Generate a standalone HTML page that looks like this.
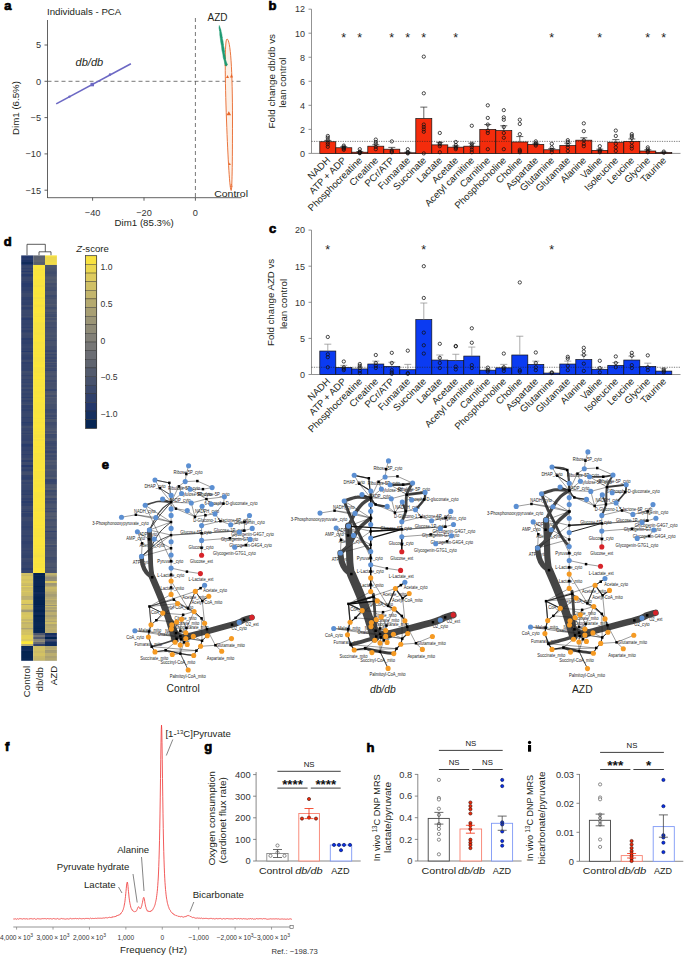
<!DOCTYPE html>
<html><head><meta charset="utf-8"><style>
html,body{margin:0;padding:0;background:#fff;}
svg{display:block;font-family:"Liberation Sans", sans-serif;}
</style></head><body>
<svg width="685" height="955" viewBox="0 0 685 955">
<rect width="685" height="955" fill="#fff"/>
<text x="4.20" y="9.80" font-size="13" text-anchor="start" fill="#000" font-weight="bold" stroke="#000" stroke-width="0.7">a</text>
<text x="47.00" y="15.00" font-size="9.7" text-anchor="start" fill="#231f20">Individuals - PCA</text>
<line x1="47.50" y1="20.00" x2="47.50" y2="198.00" stroke="#3a3a3a" stroke-width="0.8"/>
<line x1="47.50" y1="197.70" x2="241.50" y2="197.70" stroke="#3a3a3a" stroke-width="0.8"/>
<line x1="44.50" y1="45.00" x2="47.50" y2="45.00" stroke="#3a3a3a" stroke-width="0.8"/>
<text x="41.00" y="48.30" font-size="9.2" text-anchor="end" fill="#333">5</text>
<line x1="44.50" y1="81.30" x2="47.50" y2="81.30" stroke="#3a3a3a" stroke-width="0.8"/>
<text x="41.00" y="84.60" font-size="9.2" text-anchor="end" fill="#333">0</text>
<line x1="44.50" y1="117.60" x2="47.50" y2="117.60" stroke="#3a3a3a" stroke-width="0.8"/>
<text x="41.00" y="120.90" font-size="9.2" text-anchor="end" fill="#333">−5</text>
<line x1="44.50" y1="153.90" x2="47.50" y2="153.90" stroke="#3a3a3a" stroke-width="0.8"/>
<text x="41.00" y="157.20" font-size="9.2" text-anchor="end" fill="#333">−10</text>
<line x1="44.50" y1="190.20" x2="47.50" y2="190.20" stroke="#3a3a3a" stroke-width="0.8"/>
<text x="41.00" y="193.50" font-size="9.2" text-anchor="end" fill="#333">−15</text>
<line x1="92.60" y1="197.70" x2="92.60" y2="200.70" stroke="#3a3a3a" stroke-width="0.8"/>
<text x="92.60" y="215.50" font-size="9.2" text-anchor="middle" fill="#333">−40</text>
<line x1="144.00" y1="197.70" x2="144.00" y2="200.70" stroke="#3a3a3a" stroke-width="0.8"/>
<text x="144.00" y="215.50" font-size="9.2" text-anchor="middle" fill="#333">−20</text>
<line x1="195.40" y1="197.70" x2="195.40" y2="200.70" stroke="#3a3a3a" stroke-width="0.8"/>
<text x="195.40" y="215.50" font-size="9.2" text-anchor="middle" fill="#333">0</text>
<text x="144.20" y="226.00" font-size="9.7" text-anchor="middle" fill="#231f20">Dim1 (85.3%)</text>
<text x="19.20" y="108.00" font-size="9.7" text-anchor="middle" fill="#231f20" transform="rotate(-90 19.2 108)">Dim1 (6.5%)</text>
<line x1="47.50" y1="81.30" x2="241.50" y2="81.30" stroke="#555" stroke-width="0.8" stroke-dasharray="4,3"/>
<line x1="195.40" y1="18.00" x2="195.40" y2="197.70" stroke="#555" stroke-width="0.8" stroke-dasharray="4,3"/>
<line x1="56.20" y1="103.90" x2="130.90" y2="63.80" stroke="#6c68c4" stroke-width="1.6"/>
<circle cx="69.50" cy="96.60" r="1.2" fill="#6c68c4" stroke="none" stroke-width="0"/>
<circle cx="110.00" cy="74.50" r="1.2" fill="#6c68c4" stroke="none" stroke-width="0"/>
<rect x="90.50" y="82.80" width="3.50" height="3.50" fill="#6c68c4" stroke="none" stroke-width="0"/>
<text x="75.60" y="65.80" font-size="10" text-anchor="start" fill="#231f20" font-style="italic" textLength="27.6" lengthAdjust="spacingAndGlyphs">db/db</text>
<text x="207.60" y="20.50" font-size="10" text-anchor="start" fill="#231f20">AZD</text>
<path d="M227,39 C230.5,39 232.5,70 232.5,120 C232.5,165 232,190 231.2,190.5 C229.8,190.5 228,160 226.5,120 C225,80 224.5,39 227,39 Z" fill="#fdf0e6" stroke="#e8672a" stroke-width="0.9"/>
<polygon points="228.8,111.3 226.5,115.3 231.1,115.3" fill="#e8672a"/>
<polygon points="227.5,75 226,78 229,78" fill="#e8672a"/>
<polygon points="231.5,74 230,77.5 233,77.5" fill="#e8672a"/>
<polygon points="225.5,63 224.5,66 226.8,66" fill="#e8672a"/>
<polygon points="229.7,162.5 228.8,165 230.8,165" fill="#e8672a"/>
<polygon points="231.3,184 230.3,187 232.3,187" fill="none" stroke="#e8672a" stroke-width="0.5"/>
<path d="M219.3,25.5 L220.4,28.5 L221.0,31 L221.9,34.5 L222.2,38 L223.0,41 L223.4,45 L224.2,48.5 L224.4,52 L225.2,56 L225.5,59.5 L226.9,63.5 L227.6,64.2 L226.2,66.2 L224.9,64.5 L224.3,61 L223.2,57.5 L222.8,54 L221.9,50 L221.5,46 L220.8,42.5 L220.3,38.5 L219.8,35 L219.7,31 L219.0,28 Z" fill="#1e9a72" stroke="#1e9a72" stroke-width="0.5"/>
<polygon points="220.2,28.8 219.1,30.8 221.29999999999998,30.8" fill="#1e9a72"/>
<polygon points="221.6,35.8 220.5,37.8 222.7,37.8" fill="#1e9a72"/>
<polygon points="222.6,42.8 221.5,44.8 223.7,44.8" fill="#1e9a72"/>
<polygon points="223.8,49.8 222.70000000000002,51.8 224.9,51.8" fill="#1e9a72"/>
<polygon points="224.8,56.8 223.70000000000002,58.8 225.9,58.8" fill="#1e9a72"/>
<polygon points="226.2,63.3 225.1,65.3 227.29999999999998,65.3" fill="#1e9a72"/>
<text x="214.20" y="196.50" font-size="9.7" text-anchor="start" fill="#231f20" textLength="33.8" lengthAdjust="spacingAndGlyphs">Control</text>
<text x="268.50" y="10.30" font-size="13" text-anchor="start" fill="#000" font-weight="bold" stroke="#000" stroke-width="0.7">b</text>
<line x1="311.50" y1="9.16" x2="311.50" y2="153.40" stroke="#777" stroke-width="0.8"/>
<line x1="311.50" y1="153.40" x2="680.50" y2="153.40" stroke="#777" stroke-width="0.8"/>
<line x1="308.50" y1="153.40" x2="311.50" y2="153.40" stroke="#777" stroke-width="0.8"/>
<text x="305.00" y="156.70" font-size="9" text-anchor="end" fill="#333">0</text>
<line x1="308.50" y1="129.36" x2="311.50" y2="129.36" stroke="#777" stroke-width="0.8"/>
<text x="305.00" y="132.66" font-size="9" text-anchor="end" fill="#333">2</text>
<line x1="308.50" y1="105.32" x2="311.50" y2="105.32" stroke="#777" stroke-width="0.8"/>
<text x="305.00" y="108.62" font-size="9" text-anchor="end" fill="#333">4</text>
<line x1="308.50" y1="81.28" x2="311.50" y2="81.28" stroke="#777" stroke-width="0.8"/>
<text x="305.00" y="84.58" font-size="9" text-anchor="end" fill="#333">6</text>
<line x1="308.50" y1="57.24" x2="311.50" y2="57.24" stroke="#777" stroke-width="0.8"/>
<text x="305.00" y="60.54" font-size="9" text-anchor="end" fill="#333">8</text>
<line x1="308.50" y1="33.20" x2="311.50" y2="33.20" stroke="#777" stroke-width="0.8"/>
<text x="305.00" y="36.50" font-size="9" text-anchor="end" fill="#333">10</text>
<line x1="308.50" y1="9.16" x2="311.50" y2="9.16" stroke="#777" stroke-width="0.8"/>
<text x="305.00" y="12.46" font-size="9" text-anchor="end" fill="#333">12</text>
<rect x="319.80" y="141.74" width="16.00" height="11.66" fill="#f42c0c" stroke="#111" stroke-width="0.7"/>
<rect x="335.80" y="147.75" width="16.00" height="5.65" fill="#f42c0c" stroke="#111" stroke-width="0.7"/>
<rect x="351.80" y="152.20" width="16.00" height="1.20" fill="#f42c0c" stroke="#111" stroke-width="0.7"/>
<rect x="367.80" y="146.19" width="16.00" height="7.21" fill="#f42c0c" stroke="#111" stroke-width="0.7"/>
<rect x="383.80" y="149.19" width="16.00" height="4.21" fill="#f42c0c" stroke="#111" stroke-width="0.7"/>
<rect x="399.80" y="152.80" width="16.00" height="0.60" fill="#f42c0c" stroke="#111" stroke-width="0.7"/>
<rect x="415.80" y="118.54" width="16.00" height="34.86" fill="#f42c0c" stroke="#111" stroke-width="0.7"/>
<rect x="431.80" y="144.87" width="16.00" height="8.53" fill="#f42c0c" stroke="#111" stroke-width="0.7"/>
<rect x="447.80" y="147.15" width="16.00" height="6.25" fill="#f42c0c" stroke="#111" stroke-width="0.7"/>
<rect x="463.80" y="146.19" width="16.00" height="7.21" fill="#f42c0c" stroke="#111" stroke-width="0.7"/>
<rect x="479.80" y="129.36" width="16.00" height="24.04" fill="#f42c0c" stroke="#111" stroke-width="0.7"/>
<rect x="495.80" y="130.56" width="16.00" height="22.84" fill="#f42c0c" stroke="#111" stroke-width="0.7"/>
<rect x="511.80" y="141.98" width="16.00" height="11.42" fill="#f42c0c" stroke="#111" stroke-width="0.7"/>
<rect x="527.80" y="144.38" width="16.00" height="9.02" fill="#f42c0c" stroke="#111" stroke-width="0.7"/>
<rect x="543.80" y="149.79" width="16.00" height="3.61" fill="#f42c0c" stroke="#111" stroke-width="0.7"/>
<rect x="559.80" y="145.59" width="16.00" height="7.81" fill="#f42c0c" stroke="#111" stroke-width="0.7"/>
<rect x="575.80" y="140.18" width="16.00" height="13.22" fill="#f42c0c" stroke="#111" stroke-width="0.7"/>
<rect x="591.80" y="150.40" width="16.00" height="3.00" fill="#f42c0c" stroke="#111" stroke-width="0.7"/>
<rect x="607.80" y="142.22" width="16.00" height="11.18" fill="#f42c0c" stroke="#111" stroke-width="0.7"/>
<rect x="623.80" y="141.38" width="16.00" height="12.02" fill="#f42c0c" stroke="#111" stroke-width="0.7"/>
<rect x="639.80" y="151.00" width="16.00" height="2.40" fill="#f42c0c" stroke="#111" stroke-width="0.7"/>
<rect x="655.80" y="152.56" width="16.00" height="0.84" fill="#f42c0c" stroke="#111" stroke-width="0.7"/>
<line x1="311.50" y1="141.38" x2="680.50" y2="141.38" stroke="#222" stroke-width="0.6" stroke-dasharray="1.2,1.2"/>
<line x1="327.80" y1="140.42" x2="327.80" y2="141.74" stroke="#222" stroke-width="0.7"/>
<line x1="324.30" y1="140.42" x2="331.30" y2="140.42" stroke="#222" stroke-width="0.7"/>
<circle cx="327.80" cy="135.97" r="1.65" fill="none" stroke="#111" stroke-width="0.75"/>
<circle cx="327.80" cy="137.77" r="1.65" fill="none" stroke="#111" stroke-width="0.75"/>
<circle cx="327.80" cy="140.18" r="1.65" fill="none" stroke="#111" stroke-width="0.75"/>
<circle cx="327.80" cy="142.58" r="1.65" fill="none" stroke="#111" stroke-width="0.75"/>
<circle cx="327.80" cy="144.38" r="1.65" fill="none" stroke="#111" stroke-width="0.75"/>
<circle cx="327.80" cy="146.79" r="1.65" fill="none" stroke="#111" stroke-width="0.75"/>
<line x1="343.80" y1="146.67" x2="343.80" y2="147.75" stroke="#222" stroke-width="0.7"/>
<line x1="340.30" y1="146.67" x2="347.30" y2="146.67" stroke="#222" stroke-width="0.7"/>
<circle cx="343.80" cy="145.59" r="1.65" fill="none" stroke="#111" stroke-width="0.75"/>
<circle cx="343.80" cy="146.79" r="1.65" fill="none" stroke="#111" stroke-width="0.75"/>
<circle cx="343.80" cy="147.99" r="1.65" fill="none" stroke="#111" stroke-width="0.75"/>
<circle cx="343.80" cy="148.59" r="1.65" fill="none" stroke="#111" stroke-width="0.75"/>
<circle cx="343.80" cy="149.79" r="1.65" fill="none" stroke="#111" stroke-width="0.75"/>
<line x1="359.80" y1="151.60" x2="359.80" y2="152.20" stroke="#222" stroke-width="0.7"/>
<line x1="356.30" y1="151.60" x2="363.30" y2="151.60" stroke="#222" stroke-width="0.7"/>
<circle cx="359.80" cy="149.19" r="1.65" fill="none" stroke="#111" stroke-width="0.75"/>
<circle cx="359.80" cy="151.60" r="1.65" fill="none" stroke="#111" stroke-width="0.75"/>
<circle cx="359.80" cy="152.20" r="1.65" fill="none" stroke="#111" stroke-width="0.75"/>
<circle cx="359.80" cy="152.80" r="1.65" fill="none" stroke="#111" stroke-width="0.75"/>
<circle cx="359.80" cy="153.16" r="1.65" fill="none" stroke="#111" stroke-width="0.75"/>
<line x1="375.80" y1="144.75" x2="375.80" y2="146.19" stroke="#222" stroke-width="0.7"/>
<line x1="372.30" y1="144.75" x2="379.30" y2="144.75" stroke="#222" stroke-width="0.7"/>
<circle cx="375.80" cy="139.58" r="1.65" fill="none" stroke="#111" stroke-width="0.75"/>
<circle cx="375.80" cy="141.98" r="1.65" fill="none" stroke="#111" stroke-width="0.75"/>
<circle cx="375.80" cy="143.78" r="1.65" fill="none" stroke="#111" stroke-width="0.75"/>
<circle cx="375.80" cy="146.79" r="1.65" fill="none" stroke="#111" stroke-width="0.75"/>
<circle cx="375.80" cy="149.19" r="1.65" fill="none" stroke="#111" stroke-width="0.75"/>
<line x1="391.80" y1="147.39" x2="391.80" y2="149.19" stroke="#222" stroke-width="0.7"/>
<line x1="388.30" y1="147.39" x2="395.30" y2="147.39" stroke="#222" stroke-width="0.7"/>
<circle cx="391.80" cy="141.38" r="1.65" fill="none" stroke="#111" stroke-width="0.75"/>
<circle cx="391.80" cy="150.40" r="1.65" fill="none" stroke="#111" stroke-width="0.75"/>
<circle cx="391.80" cy="151.60" r="1.65" fill="none" stroke="#111" stroke-width="0.75"/>
<circle cx="391.80" cy="152.20" r="1.65" fill="none" stroke="#111" stroke-width="0.75"/>
<line x1="407.80" y1="152.20" x2="407.80" y2="152.80" stroke="#222" stroke-width="0.7"/>
<line x1="404.30" y1="152.20" x2="411.30" y2="152.20" stroke="#222" stroke-width="0.7"/>
<circle cx="407.80" cy="149.19" r="1.65" fill="none" stroke="#111" stroke-width="0.75"/>
<circle cx="407.80" cy="152.20" r="1.65" fill="none" stroke="#111" stroke-width="0.75"/>
<circle cx="407.80" cy="152.80" r="1.65" fill="none" stroke="#111" stroke-width="0.75"/>
<circle cx="407.80" cy="153.40" r="1.65" fill="none" stroke="#111" stroke-width="0.75"/>
<line x1="423.80" y1="107.12" x2="423.80" y2="118.54" stroke="#222" stroke-width="0.7"/>
<line x1="420.30" y1="107.12" x2="427.30" y2="107.12" stroke="#222" stroke-width="0.7"/>
<circle cx="423.80" cy="56.64" r="1.65" fill="none" stroke="#111" stroke-width="0.75"/>
<circle cx="423.80" cy="93.30" r="1.65" fill="none" stroke="#111" stroke-width="0.75"/>
<circle cx="423.80" cy="124.55" r="1.65" fill="none" stroke="#111" stroke-width="0.75"/>
<circle cx="423.80" cy="126.96" r="1.65" fill="none" stroke="#111" stroke-width="0.75"/>
<circle cx="423.80" cy="129.36" r="1.65" fill="none" stroke="#111" stroke-width="0.75"/>
<circle cx="423.80" cy="131.76" r="1.65" fill="none" stroke="#111" stroke-width="0.75"/>
<circle cx="423.80" cy="153.40" r="1.65" fill="none" stroke="#111" stroke-width="0.75"/>
<line x1="439.80" y1="142.58" x2="439.80" y2="144.87" stroke="#222" stroke-width="0.7"/>
<line x1="436.30" y1="142.58" x2="443.30" y2="142.58" stroke="#222" stroke-width="0.7"/>
<circle cx="439.80" cy="132.97" r="1.65" fill="none" stroke="#111" stroke-width="0.75"/>
<circle cx="439.80" cy="143.18" r="1.65" fill="none" stroke="#111" stroke-width="0.75"/>
<circle cx="439.80" cy="144.38" r="1.65" fill="none" stroke="#111" stroke-width="0.75"/>
<circle cx="439.80" cy="146.19" r="1.65" fill="none" stroke="#111" stroke-width="0.75"/>
<circle cx="439.80" cy="152.20" r="1.65" fill="none" stroke="#111" stroke-width="0.75"/>
<line x1="455.80" y1="145.95" x2="455.80" y2="147.15" stroke="#222" stroke-width="0.7"/>
<line x1="452.30" y1="145.95" x2="459.30" y2="145.95" stroke="#222" stroke-width="0.7"/>
<circle cx="455.80" cy="141.98" r="1.65" fill="none" stroke="#111" stroke-width="0.75"/>
<circle cx="455.80" cy="144.99" r="1.65" fill="none" stroke="#111" stroke-width="0.75"/>
<circle cx="455.80" cy="146.79" r="1.65" fill="none" stroke="#111" stroke-width="0.75"/>
<circle cx="455.80" cy="147.99" r="1.65" fill="none" stroke="#111" stroke-width="0.75"/>
<circle cx="455.80" cy="149.19" r="1.65" fill="none" stroke="#111" stroke-width="0.75"/>
<line x1="471.80" y1="143.18" x2="471.80" y2="146.19" stroke="#222" stroke-width="0.7"/>
<line x1="468.30" y1="143.18" x2="475.30" y2="143.18" stroke="#222" stroke-width="0.7"/>
<circle cx="471.80" cy="125.75" r="1.65" fill="none" stroke="#111" stroke-width="0.75"/>
<circle cx="471.80" cy="143.78" r="1.65" fill="none" stroke="#111" stroke-width="0.75"/>
<circle cx="471.80" cy="145.59" r="1.65" fill="none" stroke="#111" stroke-width="0.75"/>
<circle cx="471.80" cy="147.39" r="1.65" fill="none" stroke="#111" stroke-width="0.75"/>
<circle cx="471.80" cy="149.79" r="1.65" fill="none" stroke="#111" stroke-width="0.75"/>
<circle cx="471.80" cy="152.20" r="1.65" fill="none" stroke="#111" stroke-width="0.75"/>
<line x1="487.80" y1="124.55" x2="487.80" y2="129.36" stroke="#222" stroke-width="0.7"/>
<line x1="484.30" y1="124.55" x2="491.30" y2="124.55" stroke="#222" stroke-width="0.7"/>
<circle cx="487.80" cy="105.32" r="1.65" fill="none" stroke="#111" stroke-width="0.75"/>
<circle cx="487.80" cy="117.94" r="1.65" fill="none" stroke="#111" stroke-width="0.75"/>
<circle cx="487.80" cy="124.55" r="1.65" fill="none" stroke="#111" stroke-width="0.75"/>
<circle cx="487.80" cy="130.56" r="1.65" fill="none" stroke="#111" stroke-width="0.75"/>
<circle cx="487.80" cy="132.97" r="1.65" fill="none" stroke="#111" stroke-width="0.75"/>
<circle cx="487.80" cy="149.19" r="1.65" fill="none" stroke="#111" stroke-width="0.75"/>
<line x1="503.80" y1="125.75" x2="503.80" y2="130.56" stroke="#222" stroke-width="0.7"/>
<line x1="500.30" y1="125.75" x2="507.30" y2="125.75" stroke="#222" stroke-width="0.7"/>
<circle cx="503.80" cy="110.13" r="1.65" fill="none" stroke="#111" stroke-width="0.75"/>
<circle cx="503.80" cy="117.34" r="1.65" fill="none" stroke="#111" stroke-width="0.75"/>
<circle cx="503.80" cy="119.74" r="1.65" fill="none" stroke="#111" stroke-width="0.75"/>
<circle cx="503.80" cy="126.96" r="1.65" fill="none" stroke="#111" stroke-width="0.75"/>
<circle cx="503.80" cy="132.97" r="1.65" fill="none" stroke="#111" stroke-width="0.75"/>
<circle cx="503.80" cy="137.77" r="1.65" fill="none" stroke="#111" stroke-width="0.75"/>
<circle cx="503.80" cy="149.19" r="1.65" fill="none" stroke="#111" stroke-width="0.75"/>
<line x1="519.80" y1="136.57" x2="519.80" y2="141.98" stroke="#222" stroke-width="0.7"/>
<line x1="516.30" y1="136.57" x2="523.30" y2="136.57" stroke="#222" stroke-width="0.7"/>
<circle cx="519.80" cy="119.74" r="1.65" fill="none" stroke="#111" stroke-width="0.75"/>
<circle cx="519.80" cy="123.95" r="1.65" fill="none" stroke="#111" stroke-width="0.75"/>
<circle cx="519.80" cy="134.17" r="1.65" fill="none" stroke="#111" stroke-width="0.75"/>
<circle cx="519.80" cy="149.79" r="1.65" fill="none" stroke="#111" stroke-width="0.75"/>
<circle cx="519.80" cy="151.00" r="1.65" fill="none" stroke="#111" stroke-width="0.75"/>
<circle cx="519.80" cy="152.20" r="1.65" fill="none" stroke="#111" stroke-width="0.75"/>
<line x1="535.80" y1="143.18" x2="535.80" y2="144.38" stroke="#222" stroke-width="0.7"/>
<line x1="532.30" y1="143.18" x2="539.30" y2="143.18" stroke="#222" stroke-width="0.7"/>
<circle cx="535.80" cy="141.38" r="1.65" fill="none" stroke="#111" stroke-width="0.75"/>
<circle cx="535.80" cy="143.18" r="1.65" fill="none" stroke="#111" stroke-width="0.75"/>
<circle cx="535.80" cy="144.38" r="1.65" fill="none" stroke="#111" stroke-width="0.75"/>
<circle cx="535.80" cy="145.59" r="1.65" fill="none" stroke="#111" stroke-width="0.75"/>
<line x1="551.80" y1="148.59" x2="551.80" y2="149.79" stroke="#222" stroke-width="0.7"/>
<line x1="548.30" y1="148.59" x2="555.30" y2="148.59" stroke="#222" stroke-width="0.7"/>
<circle cx="551.80" cy="143.78" r="1.65" fill="none" stroke="#111" stroke-width="0.75"/>
<circle cx="551.80" cy="147.39" r="1.65" fill="none" stroke="#111" stroke-width="0.75"/>
<circle cx="551.80" cy="149.79" r="1.65" fill="none" stroke="#111" stroke-width="0.75"/>
<circle cx="551.80" cy="152.20" r="1.65" fill="none" stroke="#111" stroke-width="0.75"/>
<line x1="567.80" y1="143.18" x2="567.80" y2="145.59" stroke="#222" stroke-width="0.7"/>
<line x1="564.30" y1="143.18" x2="571.30" y2="143.18" stroke="#222" stroke-width="0.7"/>
<circle cx="567.80" cy="140.18" r="1.65" fill="none" stroke="#111" stroke-width="0.75"/>
<circle cx="567.80" cy="141.98" r="1.65" fill="none" stroke="#111" stroke-width="0.75"/>
<circle cx="567.80" cy="144.99" r="1.65" fill="none" stroke="#111" stroke-width="0.75"/>
<circle cx="567.80" cy="147.39" r="1.65" fill="none" stroke="#111" stroke-width="0.75"/>
<circle cx="567.80" cy="151.00" r="1.65" fill="none" stroke="#111" stroke-width="0.75"/>
<line x1="583.80" y1="137.77" x2="583.80" y2="140.18" stroke="#222" stroke-width="0.7"/>
<line x1="580.30" y1="137.77" x2="587.30" y2="137.77" stroke="#222" stroke-width="0.7"/>
<circle cx="583.80" cy="123.35" r="1.65" fill="none" stroke="#111" stroke-width="0.75"/>
<circle cx="583.80" cy="131.16" r="1.65" fill="none" stroke="#111" stroke-width="0.75"/>
<circle cx="583.80" cy="140.18" r="1.65" fill="none" stroke="#111" stroke-width="0.75"/>
<circle cx="583.80" cy="143.78" r="1.65" fill="none" stroke="#111" stroke-width="0.75"/>
<circle cx="583.80" cy="146.19" r="1.65" fill="none" stroke="#111" stroke-width="0.75"/>
<line x1="599.80" y1="149.19" x2="599.80" y2="150.40" stroke="#222" stroke-width="0.7"/>
<line x1="596.30" y1="149.19" x2="603.30" y2="149.19" stroke="#222" stroke-width="0.7"/>
<circle cx="599.80" cy="146.19" r="1.65" fill="none" stroke="#111" stroke-width="0.75"/>
<circle cx="599.80" cy="149.79" r="1.65" fill="none" stroke="#111" stroke-width="0.75"/>
<circle cx="599.80" cy="151.00" r="1.65" fill="none" stroke="#111" stroke-width="0.75"/>
<circle cx="599.80" cy="152.20" r="1.65" fill="none" stroke="#111" stroke-width="0.75"/>
<line x1="615.80" y1="139.58" x2="615.80" y2="142.22" stroke="#222" stroke-width="0.7"/>
<line x1="612.30" y1="139.58" x2="619.30" y2="139.58" stroke="#222" stroke-width="0.7"/>
<circle cx="615.80" cy="130.56" r="1.65" fill="none" stroke="#111" stroke-width="0.75"/>
<circle cx="615.80" cy="135.97" r="1.65" fill="none" stroke="#111" stroke-width="0.75"/>
<circle cx="615.80" cy="143.78" r="1.65" fill="none" stroke="#111" stroke-width="0.75"/>
<circle cx="615.80" cy="147.39" r="1.65" fill="none" stroke="#111" stroke-width="0.75"/>
<circle cx="615.80" cy="151.00" r="1.65" fill="none" stroke="#111" stroke-width="0.75"/>
<line x1="631.80" y1="138.98" x2="631.80" y2="141.38" stroke="#222" stroke-width="0.7"/>
<line x1="628.30" y1="138.98" x2="635.30" y2="138.98" stroke="#222" stroke-width="0.7"/>
<circle cx="631.80" cy="134.17" r="1.65" fill="none" stroke="#111" stroke-width="0.75"/>
<circle cx="631.80" cy="135.97" r="1.65" fill="none" stroke="#111" stroke-width="0.75"/>
<circle cx="631.80" cy="137.77" r="1.65" fill="none" stroke="#111" stroke-width="0.75"/>
<circle cx="631.80" cy="142.58" r="1.65" fill="none" stroke="#111" stroke-width="0.75"/>
<circle cx="631.80" cy="146.19" r="1.65" fill="none" stroke="#111" stroke-width="0.75"/>
<circle cx="631.80" cy="148.59" r="1.65" fill="none" stroke="#111" stroke-width="0.75"/>
<line x1="647.80" y1="149.79" x2="647.80" y2="151.00" stroke="#222" stroke-width="0.7"/>
<line x1="644.30" y1="149.79" x2="651.30" y2="149.79" stroke="#222" stroke-width="0.7"/>
<circle cx="647.80" cy="147.39" r="1.65" fill="none" stroke="#111" stroke-width="0.75"/>
<circle cx="647.80" cy="149.19" r="1.65" fill="none" stroke="#111" stroke-width="0.75"/>
<circle cx="647.80" cy="151.00" r="1.65" fill="none" stroke="#111" stroke-width="0.75"/>
<circle cx="647.80" cy="152.20" r="1.65" fill="none" stroke="#111" stroke-width="0.75"/>
<line x1="663.80" y1="152.20" x2="663.80" y2="152.56" stroke="#222" stroke-width="0.7"/>
<line x1="660.30" y1="152.20" x2="667.30" y2="152.20" stroke="#222" stroke-width="0.7"/>
<circle cx="663.80" cy="151.60" r="1.65" fill="none" stroke="#111" stroke-width="0.75"/>
<circle cx="663.80" cy="152.80" r="1.65" fill="none" stroke="#111" stroke-width="0.75"/>
<text x="343.80" y="42.20" font-size="12.5" text-anchor="middle" fill="#222">*</text>
<text x="359.80" y="42.20" font-size="12.5" text-anchor="middle" fill="#222">*</text>
<text x="391.80" y="42.20" font-size="12.5" text-anchor="middle" fill="#222">*</text>
<text x="407.80" y="42.20" font-size="12.5" text-anchor="middle" fill="#222">*</text>
<text x="423.80" y="42.20" font-size="12.5" text-anchor="middle" fill="#222">*</text>
<text x="455.80" y="42.20" font-size="12.5" text-anchor="middle" fill="#222">*</text>
<text x="551.80" y="42.20" font-size="12.5" text-anchor="middle" fill="#222">*</text>
<text x="599.80" y="42.20" font-size="12.5" text-anchor="middle" fill="#222">*</text>
<text x="647.80" y="42.20" font-size="12.5" text-anchor="middle" fill="#222">*</text>
<text x="663.80" y="42.20" font-size="12.5" text-anchor="middle" fill="#222">*</text>
<text x="330.80" y="160.90" font-size="9.6" text-anchor="end" fill="#231f20" transform="rotate(-45 330.8 160.9)">NADH</text>
<text x="346.80" y="160.90" font-size="9.6" text-anchor="end" fill="#231f20" transform="rotate(-45 346.8 160.9)">ATP + ADP</text>
<text x="362.80" y="160.90" font-size="9.6" text-anchor="end" fill="#231f20" transform="rotate(-45 362.8 160.9)">Phosphocreatine</text>
<text x="378.80" y="160.90" font-size="9.6" text-anchor="end" fill="#231f20" transform="rotate(-45 378.8 160.9)">Creatine</text>
<text x="394.80" y="160.90" font-size="9.6" text-anchor="end" fill="#231f20" transform="rotate(-45 394.8 160.9)">PCr/ATP</text>
<text x="410.80" y="160.90" font-size="9.6" text-anchor="end" fill="#231f20" transform="rotate(-45 410.8 160.9)">Fumarate</text>
<text x="426.80" y="160.90" font-size="9.6" text-anchor="end" fill="#231f20" transform="rotate(-45 426.8 160.9)">Succinate</text>
<text x="442.80" y="160.90" font-size="9.6" text-anchor="end" fill="#231f20" transform="rotate(-45 442.8 160.9)">Lactate</text>
<text x="458.80" y="160.90" font-size="9.6" text-anchor="end" fill="#231f20" transform="rotate(-45 458.8 160.9)">Acetate</text>
<text x="474.80" y="160.90" font-size="9.6" text-anchor="end" fill="#231f20" transform="rotate(-45 474.8 160.9)">Acetyl carnitine</text>
<text x="490.80" y="160.90" font-size="9.6" text-anchor="end" fill="#231f20" transform="rotate(-45 490.8 160.9)">Carnitine</text>
<text x="506.80" y="160.90" font-size="9.6" text-anchor="end" fill="#231f20" transform="rotate(-45 506.8 160.9)">Phosphocholine</text>
<text x="522.80" y="160.90" font-size="9.6" text-anchor="end" fill="#231f20" transform="rotate(-45 522.8 160.9)">Choline</text>
<text x="538.80" y="160.90" font-size="9.6" text-anchor="end" fill="#231f20" transform="rotate(-45 538.8 160.9)">Aspartate</text>
<text x="554.80" y="160.90" font-size="9.6" text-anchor="end" fill="#231f20" transform="rotate(-45 554.8 160.9)">Glutamine</text>
<text x="570.80" y="160.90" font-size="9.6" text-anchor="end" fill="#231f20" transform="rotate(-45 570.8 160.9)">Glutamate</text>
<text x="586.80" y="160.90" font-size="9.6" text-anchor="end" fill="#231f20" transform="rotate(-45 586.8 160.9)">Alanine</text>
<text x="602.80" y="160.90" font-size="9.6" text-anchor="end" fill="#231f20" transform="rotate(-45 602.8 160.9)">Valine</text>
<text x="618.80" y="160.90" font-size="9.6" text-anchor="end" fill="#231f20" transform="rotate(-45 618.8 160.9)">Isoleucine</text>
<text x="634.80" y="160.90" font-size="9.6" text-anchor="end" fill="#231f20" transform="rotate(-45 634.8 160.9)">Leucine</text>
<text x="650.80" y="160.90" font-size="9.6" text-anchor="end" fill="#231f20" transform="rotate(-45 650.8 160.9)">Glycine</text>
<text x="666.80" y="160.90" font-size="9.6" text-anchor="end" fill="#231f20" transform="rotate(-45 666.8 160.9)">Taurine</text>
<text x="0.00" y="0.00" font-size="9" text-anchor="start" fill="#231f20"></text>
<text x="275.00" y="81.20" font-size="9.9" text-anchor="middle" fill="#231f20" transform="rotate(-90 275.0 81.2)">Fold change db/db vs</text>
<text x="286.50" y="82.60" font-size="9.7" text-anchor="middle" fill="#231f20" transform="rotate(-90 286.5 82.6)">lean control</text>
<text x="269.00" y="232.70" font-size="13" text-anchor="start" fill="#000" font-weight="bold" stroke="#000" stroke-width="0.7">c</text>
<line x1="311.50" y1="230.10" x2="311.50" y2="374.50" stroke="#777" stroke-width="0.8"/>
<line x1="311.50" y1="374.50" x2="680.50" y2="374.50" stroke="#777" stroke-width="0.8"/>
<line x1="308.50" y1="374.50" x2="311.50" y2="374.50" stroke="#777" stroke-width="0.8"/>
<text x="305.00" y="377.80" font-size="9" text-anchor="end" fill="#333">0</text>
<line x1="308.50" y1="338.40" x2="311.50" y2="338.40" stroke="#777" stroke-width="0.8"/>
<text x="305.00" y="341.70" font-size="9" text-anchor="end" fill="#333">5</text>
<line x1="308.50" y1="302.30" x2="311.50" y2="302.30" stroke="#777" stroke-width="0.8"/>
<text x="305.00" y="305.60" font-size="9" text-anchor="end" fill="#333">10</text>
<line x1="308.50" y1="266.20" x2="311.50" y2="266.20" stroke="#777" stroke-width="0.8"/>
<text x="305.00" y="269.50" font-size="9" text-anchor="end" fill="#333">15</text>
<line x1="308.50" y1="230.10" x2="311.50" y2="230.10" stroke="#777" stroke-width="0.8"/>
<text x="305.00" y="233.40" font-size="9" text-anchor="end" fill="#333">20</text>
<rect x="319.80" y="351.04" width="16.00" height="23.46" fill="#0b3bf2" stroke="#111" stroke-width="0.7"/>
<rect x="335.80" y="367.50" width="16.00" height="7.00" fill="#0b3bf2" stroke="#111" stroke-width="0.7"/>
<rect x="351.80" y="368.94" width="16.00" height="5.56" fill="#0b3bf2" stroke="#111" stroke-width="0.7"/>
<rect x="367.80" y="364.03" width="16.00" height="10.47" fill="#0b3bf2" stroke="#111" stroke-width="0.7"/>
<rect x="383.80" y="366.34" width="16.00" height="8.16" fill="#0b3bf2" stroke="#111" stroke-width="0.7"/>
<rect x="399.80" y="369.73" width="16.00" height="4.77" fill="#0b3bf2" stroke="#111" stroke-width="0.7"/>
<rect x="415.80" y="319.63" width="16.00" height="54.87" fill="#0b3bf2" stroke="#111" stroke-width="0.7"/>
<rect x="431.80" y="360.06" width="16.00" height="14.44" fill="#0b3bf2" stroke="#111" stroke-width="0.7"/>
<rect x="447.80" y="360.42" width="16.00" height="14.08" fill="#0b3bf2" stroke="#111" stroke-width="0.7"/>
<rect x="463.80" y="356.09" width="16.00" height="18.41" fill="#0b3bf2" stroke="#111" stroke-width="0.7"/>
<rect x="479.80" y="370.17" width="16.00" height="4.33" fill="#0b3bf2" stroke="#111" stroke-width="0.7"/>
<rect x="495.80" y="367.86" width="16.00" height="6.64" fill="#0b3bf2" stroke="#111" stroke-width="0.7"/>
<rect x="511.80" y="355.01" width="16.00" height="19.49" fill="#0b3bf2" stroke="#111" stroke-width="0.7"/>
<rect x="527.80" y="364.39" width="16.00" height="10.11" fill="#0b3bf2" stroke="#111" stroke-width="0.7"/>
<rect x="543.80" y="373.06" width="16.00" height="1.44" fill="#0b3bf2" stroke="#111" stroke-width="0.7"/>
<rect x="559.80" y="364.03" width="16.00" height="10.47" fill="#0b3bf2" stroke="#111" stroke-width="0.7"/>
<rect x="575.80" y="359.55" width="16.00" height="14.95" fill="#0b3bf2" stroke="#111" stroke-width="0.7"/>
<rect x="591.80" y="369.30" width="16.00" height="5.20" fill="#0b3bf2" stroke="#111" stroke-width="0.7"/>
<rect x="607.80" y="365.33" width="16.00" height="9.17" fill="#0b3bf2" stroke="#111" stroke-width="0.7"/>
<rect x="623.80" y="360.06" width="16.00" height="14.44" fill="#0b3bf2" stroke="#111" stroke-width="0.7"/>
<rect x="639.80" y="366.41" width="16.00" height="8.09" fill="#0b3bf2" stroke="#111" stroke-width="0.7"/>
<rect x="655.80" y="371.11" width="16.00" height="3.39" fill="#0b3bf2" stroke="#111" stroke-width="0.7"/>
<line x1="311.50" y1="367.28" x2="680.50" y2="367.28" stroke="#222" stroke-width="0.6" stroke-dasharray="1.2,1.2"/>
<line x1="327.80" y1="344.18" x2="327.80" y2="351.04" stroke="#888" stroke-width="0.7"/>
<line x1="324.30" y1="344.18" x2="331.30" y2="344.18" stroke="#888" stroke-width="0.7"/>
<circle cx="327.80" cy="336.96" r="1.65" fill="none" stroke="#111" stroke-width="0.75"/>
<circle cx="327.80" cy="354.28" r="1.65" fill="none" stroke="#111" stroke-width="0.75"/>
<circle cx="327.80" cy="357.17" r="1.65" fill="none" stroke="#111" stroke-width="0.75"/>
<circle cx="327.80" cy="367.28" r="1.65" fill="none" stroke="#111" stroke-width="0.75"/>
<line x1="343.80" y1="365.33" x2="343.80" y2="367.50" stroke="#888" stroke-width="0.7"/>
<line x1="340.30" y1="365.33" x2="347.30" y2="365.33" stroke="#888" stroke-width="0.7"/>
<circle cx="343.80" cy="361.50" r="1.65" fill="none" stroke="#111" stroke-width="0.75"/>
<circle cx="343.80" cy="367.28" r="1.65" fill="none" stroke="#111" stroke-width="0.75"/>
<circle cx="343.80" cy="368.72" r="1.65" fill="none" stroke="#111" stroke-width="0.75"/>
<circle cx="343.80" cy="370.17" r="1.65" fill="none" stroke="#111" stroke-width="0.75"/>
<line x1="359.80" y1="367.28" x2="359.80" y2="368.94" stroke="#888" stroke-width="0.7"/>
<line x1="356.30" y1="367.28" x2="363.30" y2="367.28" stroke="#888" stroke-width="0.7"/>
<circle cx="359.80" cy="364.03" r="1.65" fill="none" stroke="#111" stroke-width="0.75"/>
<circle cx="359.80" cy="365.84" r="1.65" fill="none" stroke="#111" stroke-width="0.75"/>
<circle cx="359.80" cy="368.00" r="1.65" fill="none" stroke="#111" stroke-width="0.75"/>
<circle cx="359.80" cy="370.89" r="1.65" fill="none" stroke="#111" stroke-width="0.75"/>
<circle cx="359.80" cy="373.06" r="1.65" fill="none" stroke="#111" stroke-width="0.75"/>
<line x1="375.80" y1="361.14" x2="375.80" y2="364.03" stroke="#888" stroke-width="0.7"/>
<line x1="372.30" y1="361.14" x2="379.30" y2="361.14" stroke="#888" stroke-width="0.7"/>
<circle cx="375.80" cy="355.01" r="1.65" fill="none" stroke="#111" stroke-width="0.75"/>
<circle cx="375.80" cy="362.95" r="1.65" fill="none" stroke="#111" stroke-width="0.75"/>
<circle cx="375.80" cy="365.84" r="1.65" fill="none" stroke="#111" stroke-width="0.75"/>
<circle cx="375.80" cy="368.00" r="1.65" fill="none" stroke="#111" stroke-width="0.75"/>
<line x1="391.80" y1="362.23" x2="391.80" y2="366.34" stroke="#888" stroke-width="0.7"/>
<line x1="388.30" y1="362.23" x2="395.30" y2="362.23" stroke="#888" stroke-width="0.7"/>
<circle cx="391.80" cy="352.84" r="1.65" fill="none" stroke="#111" stroke-width="0.75"/>
<circle cx="391.80" cy="362.95" r="1.65" fill="none" stroke="#111" stroke-width="0.75"/>
<circle cx="391.80" cy="370.17" r="1.65" fill="none" stroke="#111" stroke-width="0.75"/>
<circle cx="391.80" cy="372.33" r="1.65" fill="none" stroke="#111" stroke-width="0.75"/>
<circle cx="391.80" cy="373.78" r="1.65" fill="none" stroke="#111" stroke-width="0.75"/>
<line x1="407.80" y1="364.39" x2="407.80" y2="369.73" stroke="#888" stroke-width="0.7"/>
<line x1="404.30" y1="364.39" x2="411.30" y2="364.39" stroke="#888" stroke-width="0.7"/>
<circle cx="407.80" cy="350.67" r="1.65" fill="none" stroke="#111" stroke-width="0.75"/>
<circle cx="407.80" cy="373.06" r="1.65" fill="none" stroke="#111" stroke-width="0.75"/>
<circle cx="407.80" cy="373.78" r="1.65" fill="none" stroke="#111" stroke-width="0.75"/>
<line x1="423.80" y1="303.02" x2="423.80" y2="319.63" stroke="#888" stroke-width="0.7"/>
<line x1="420.30" y1="303.02" x2="427.30" y2="303.02" stroke="#888" stroke-width="0.7"/>
<circle cx="423.80" cy="266.20" r="1.65" fill="none" stroke="#111" stroke-width="0.75"/>
<circle cx="423.80" cy="297.97" r="1.65" fill="none" stroke="#111" stroke-width="0.75"/>
<circle cx="423.80" cy="332.62" r="1.65" fill="none" stroke="#111" stroke-width="0.75"/>
<circle cx="423.80" cy="345.26" r="1.65" fill="none" stroke="#111" stroke-width="0.75"/>
<circle cx="423.80" cy="353.56" r="1.65" fill="none" stroke="#111" stroke-width="0.75"/>
<line x1="439.80" y1="355.01" x2="439.80" y2="360.06" stroke="#888" stroke-width="0.7"/>
<line x1="436.30" y1="355.01" x2="443.30" y2="355.01" stroke="#888" stroke-width="0.7"/>
<circle cx="439.80" cy="343.81" r="1.65" fill="none" stroke="#111" stroke-width="0.75"/>
<circle cx="439.80" cy="357.89" r="1.65" fill="none" stroke="#111" stroke-width="0.75"/>
<circle cx="439.80" cy="362.95" r="1.65" fill="none" stroke="#111" stroke-width="0.75"/>
<circle cx="439.80" cy="368.00" r="1.65" fill="none" stroke="#111" stroke-width="0.75"/>
<line x1="455.80" y1="354.28" x2="455.80" y2="360.42" stroke="#888" stroke-width="0.7"/>
<line x1="452.30" y1="354.28" x2="459.30" y2="354.28" stroke="#888" stroke-width="0.7"/>
<circle cx="455.80" cy="345.98" r="1.65" fill="none" stroke="#111" stroke-width="0.75"/>
<circle cx="455.80" cy="346.34" r="1.65" fill="none" stroke="#111" stroke-width="0.75"/>
<circle cx="455.80" cy="366.56" r="1.65" fill="none" stroke="#111" stroke-width="0.75"/>
<circle cx="455.80" cy="369.45" r="1.65" fill="none" stroke="#111" stroke-width="0.75"/>
<line x1="471.80" y1="347.06" x2="471.80" y2="356.09" stroke="#888" stroke-width="0.7"/>
<line x1="468.30" y1="347.06" x2="475.30" y2="347.06" stroke="#888" stroke-width="0.7"/>
<circle cx="471.80" cy="328.29" r="1.65" fill="none" stroke="#111" stroke-width="0.75"/>
<circle cx="471.80" cy="342.73" r="1.65" fill="none" stroke="#111" stroke-width="0.75"/>
<circle cx="471.80" cy="365.11" r="1.65" fill="none" stroke="#111" stroke-width="0.75"/>
<circle cx="471.80" cy="368.00" r="1.65" fill="none" stroke="#111" stroke-width="0.75"/>
<line x1="487.80" y1="369.08" x2="487.80" y2="370.17" stroke="#888" stroke-width="0.7"/>
<line x1="484.30" y1="369.08" x2="491.30" y2="369.08" stroke="#888" stroke-width="0.7"/>
<circle cx="487.80" cy="367.64" r="1.65" fill="none" stroke="#111" stroke-width="0.75"/>
<circle cx="487.80" cy="370.17" r="1.65" fill="none" stroke="#111" stroke-width="0.75"/>
<circle cx="487.80" cy="371.61" r="1.65" fill="none" stroke="#111" stroke-width="0.75"/>
<line x1="503.80" y1="364.39" x2="503.80" y2="367.86" stroke="#888" stroke-width="0.7"/>
<line x1="500.30" y1="364.39" x2="507.30" y2="364.39" stroke="#888" stroke-width="0.7"/>
<circle cx="503.80" cy="353.56" r="1.65" fill="none" stroke="#111" stroke-width="0.75"/>
<circle cx="503.80" cy="367.28" r="1.65" fill="none" stroke="#111" stroke-width="0.75"/>
<circle cx="503.80" cy="368.72" r="1.65" fill="none" stroke="#111" stroke-width="0.75"/>
<circle cx="503.80" cy="370.89" r="1.65" fill="none" stroke="#111" stroke-width="0.75"/>
<line x1="519.80" y1="336.23" x2="519.80" y2="355.01" stroke="#888" stroke-width="0.7"/>
<line x1="516.30" y1="336.23" x2="523.30" y2="336.23" stroke="#888" stroke-width="0.7"/>
<circle cx="519.80" cy="282.44" r="1.65" fill="none" stroke="#111" stroke-width="0.75"/>
<circle cx="519.80" cy="370.17" r="1.65" fill="none" stroke="#111" stroke-width="0.75"/>
<circle cx="519.80" cy="371.61" r="1.65" fill="none" stroke="#111" stroke-width="0.75"/>
<line x1="535.80" y1="361.14" x2="535.80" y2="364.39" stroke="#888" stroke-width="0.7"/>
<line x1="532.30" y1="361.14" x2="539.30" y2="361.14" stroke="#888" stroke-width="0.7"/>
<circle cx="535.80" cy="352.48" r="1.65" fill="none" stroke="#111" stroke-width="0.75"/>
<circle cx="535.80" cy="362.95" r="1.65" fill="none" stroke="#111" stroke-width="0.75"/>
<circle cx="535.80" cy="367.28" r="1.65" fill="none" stroke="#111" stroke-width="0.75"/>
<circle cx="535.80" cy="370.17" r="1.65" fill="none" stroke="#111" stroke-width="0.75"/>
<line x1="551.80" y1="372.33" x2="551.80" y2="373.06" stroke="#888" stroke-width="0.7"/>
<line x1="548.30" y1="372.33" x2="555.30" y2="372.33" stroke="#888" stroke-width="0.7"/>
<circle cx="551.80" cy="372.33" r="1.65" fill="none" stroke="#111" stroke-width="0.75"/>
<circle cx="551.80" cy="373.06" r="1.65" fill="none" stroke="#111" stroke-width="0.75"/>
<line x1="567.80" y1="361.14" x2="567.80" y2="364.03" stroke="#888" stroke-width="0.7"/>
<line x1="564.30" y1="361.14" x2="571.30" y2="361.14" stroke="#888" stroke-width="0.7"/>
<circle cx="567.80" cy="356.81" r="1.65" fill="none" stroke="#111" stroke-width="0.75"/>
<circle cx="567.80" cy="358.62" r="1.65" fill="none" stroke="#111" stroke-width="0.75"/>
<circle cx="567.80" cy="365.84" r="1.65" fill="none" stroke="#111" stroke-width="0.75"/>
<circle cx="567.80" cy="370.17" r="1.65" fill="none" stroke="#111" stroke-width="0.75"/>
<line x1="583.80" y1="355.01" x2="583.80" y2="359.55" stroke="#888" stroke-width="0.7"/>
<line x1="580.30" y1="355.01" x2="587.30" y2="355.01" stroke="#888" stroke-width="0.7"/>
<circle cx="583.80" cy="347.79" r="1.65" fill="none" stroke="#111" stroke-width="0.75"/>
<circle cx="583.80" cy="351.40" r="1.65" fill="none" stroke="#111" stroke-width="0.75"/>
<circle cx="583.80" cy="355.01" r="1.65" fill="none" stroke="#111" stroke-width="0.75"/>
<circle cx="583.80" cy="363.67" r="1.65" fill="none" stroke="#111" stroke-width="0.75"/>
<circle cx="583.80" cy="370.89" r="1.65" fill="none" stroke="#111" stroke-width="0.75"/>
<line x1="599.80" y1="368.36" x2="599.80" y2="369.30" stroke="#888" stroke-width="0.7"/>
<line x1="596.30" y1="368.36" x2="603.30" y2="368.36" stroke="#888" stroke-width="0.7"/>
<circle cx="599.80" cy="360.78" r="1.65" fill="none" stroke="#111" stroke-width="0.75"/>
<circle cx="599.80" cy="368.00" r="1.65" fill="none" stroke="#111" stroke-width="0.75"/>
<circle cx="599.80" cy="372.33" r="1.65" fill="none" stroke="#111" stroke-width="0.75"/>
<line x1="615.80" y1="362.51" x2="615.80" y2="365.33" stroke="#888" stroke-width="0.7"/>
<line x1="612.30" y1="362.51" x2="619.30" y2="362.51" stroke="#888" stroke-width="0.7"/>
<circle cx="615.80" cy="356.45" r="1.65" fill="none" stroke="#111" stroke-width="0.75"/>
<circle cx="615.80" cy="362.95" r="1.65" fill="none" stroke="#111" stroke-width="0.75"/>
<circle cx="615.80" cy="367.28" r="1.65" fill="none" stroke="#111" stroke-width="0.75"/>
<line x1="631.80" y1="356.09" x2="631.80" y2="360.06" stroke="#888" stroke-width="0.7"/>
<line x1="628.30" y1="356.09" x2="635.30" y2="356.09" stroke="#888" stroke-width="0.7"/>
<circle cx="631.80" cy="352.84" r="1.65" fill="none" stroke="#111" stroke-width="0.75"/>
<circle cx="631.80" cy="355.73" r="1.65" fill="none" stroke="#111" stroke-width="0.75"/>
<circle cx="631.80" cy="365.11" r="1.65" fill="none" stroke="#111" stroke-width="0.75"/>
<circle cx="631.80" cy="368.00" r="1.65" fill="none" stroke="#111" stroke-width="0.75"/>
<line x1="647.80" y1="363.16" x2="647.80" y2="366.41" stroke="#888" stroke-width="0.7"/>
<line x1="644.30" y1="363.16" x2="651.30" y2="363.16" stroke="#888" stroke-width="0.7"/>
<circle cx="647.80" cy="355.37" r="1.65" fill="none" stroke="#111" stroke-width="0.75"/>
<circle cx="647.80" cy="367.28" r="1.65" fill="none" stroke="#111" stroke-width="0.75"/>
<circle cx="647.80" cy="370.17" r="1.65" fill="none" stroke="#111" stroke-width="0.75"/>
<line x1="663.80" y1="368.36" x2="663.80" y2="371.11" stroke="#888" stroke-width="0.7"/>
<line x1="660.30" y1="368.36" x2="667.30" y2="368.36" stroke="#888" stroke-width="0.7"/>
<circle cx="663.80" cy="369.45" r="1.65" fill="none" stroke="#111" stroke-width="0.75"/>
<circle cx="663.80" cy="370.89" r="1.65" fill="none" stroke="#111" stroke-width="0.75"/>
<circle cx="663.80" cy="372.33" r="1.65" fill="none" stroke="#111" stroke-width="0.75"/>
<text x="327.80" y="253.60" font-size="12.5" text-anchor="middle" fill="#222">*</text>
<text x="423.80" y="253.60" font-size="12.5" text-anchor="middle" fill="#222">*</text>
<text x="551.80" y="253.60" font-size="12.5" text-anchor="middle" fill="#222">*</text>
<text x="330.80" y="382.00" font-size="9.6" text-anchor="end" fill="#231f20" transform="rotate(-45 330.8 382.0)">NADH</text>
<text x="346.80" y="382.00" font-size="9.6" text-anchor="end" fill="#231f20" transform="rotate(-45 346.8 382.0)">ATP + ADP</text>
<text x="362.80" y="382.00" font-size="9.6" text-anchor="end" fill="#231f20" transform="rotate(-45 362.8 382.0)">Phosphocreatine</text>
<text x="378.80" y="382.00" font-size="9.6" text-anchor="end" fill="#231f20" transform="rotate(-45 378.8 382.0)">Creatine</text>
<text x="394.80" y="382.00" font-size="9.6" text-anchor="end" fill="#231f20" transform="rotate(-45 394.8 382.0)">PCr/ATP</text>
<text x="410.80" y="382.00" font-size="9.6" text-anchor="end" fill="#231f20" transform="rotate(-45 410.8 382.0)">Fumarate</text>
<text x="426.80" y="382.00" font-size="9.6" text-anchor="end" fill="#231f20" transform="rotate(-45 426.8 382.0)">Succinate</text>
<text x="442.80" y="382.00" font-size="9.6" text-anchor="end" fill="#231f20" transform="rotate(-45 442.8 382.0)">Lactate</text>
<text x="458.80" y="382.00" font-size="9.6" text-anchor="end" fill="#231f20" transform="rotate(-45 458.8 382.0)">Acetate</text>
<text x="474.80" y="382.00" font-size="9.6" text-anchor="end" fill="#231f20" transform="rotate(-45 474.8 382.0)">Acetyl carnitine</text>
<text x="490.80" y="382.00" font-size="9.6" text-anchor="end" fill="#231f20" transform="rotate(-45 490.8 382.0)">Carnitine</text>
<text x="506.80" y="382.00" font-size="9.6" text-anchor="end" fill="#231f20" transform="rotate(-45 506.8 382.0)">Phosphocholine</text>
<text x="522.80" y="382.00" font-size="9.6" text-anchor="end" fill="#231f20" transform="rotate(-45 522.8 382.0)">Choline</text>
<text x="538.80" y="382.00" font-size="9.6" text-anchor="end" fill="#231f20" transform="rotate(-45 538.8 382.0)">Aspartate</text>
<text x="554.80" y="382.00" font-size="9.6" text-anchor="end" fill="#231f20" transform="rotate(-45 554.8 382.0)">Glutamine</text>
<text x="570.80" y="382.00" font-size="9.6" text-anchor="end" fill="#231f20" transform="rotate(-45 570.8 382.0)">Glutamate</text>
<text x="586.80" y="382.00" font-size="9.6" text-anchor="end" fill="#231f20" transform="rotate(-45 586.8 382.0)">Alanine</text>
<text x="602.80" y="382.00" font-size="9.6" text-anchor="end" fill="#231f20" transform="rotate(-45 602.8 382.0)">Valine</text>
<text x="618.80" y="382.00" font-size="9.6" text-anchor="end" fill="#231f20" transform="rotate(-45 618.8 382.0)">Isoleucine</text>
<text x="634.80" y="382.00" font-size="9.6" text-anchor="end" fill="#231f20" transform="rotate(-45 634.8 382.0)">Leucine</text>
<text x="650.80" y="382.00" font-size="9.6" text-anchor="end" fill="#231f20" transform="rotate(-45 650.8 382.0)">Glycine</text>
<text x="666.80" y="382.00" font-size="9.6" text-anchor="end" fill="#231f20" transform="rotate(-45 666.8 382.0)">Taurine</text>
<text x="0.00" y="0.00" font-size="9" text-anchor="start" fill="#231f20"></text>
<text x="274.30" y="302.40" font-size="9.7" text-anchor="middle" fill="#231f20" transform="rotate(-90 274.3 302.4)">Fold change AZD vs</text>
<text x="286.60" y="304.00" font-size="9.7" text-anchor="middle" fill="#231f20" transform="rotate(-90 286.6 304)">lean control</text>
<text x="3.80" y="246.00" font-size="13" text-anchor="start" fill="#000" font-weight="bold" stroke="#000" stroke-width="0.7">d</text>
<defs><linearGradient id="hm0" gradientUnits="userSpaceOnUse" x1="0" y1="255.4" x2="0" y2="660.8"><stop offset="0.00000" stop-color="#26396b"/><stop offset="0.00444" stop-color="#26396b"/><stop offset="0.00444" stop-color="#21366a"/><stop offset="0.00740" stop-color="#21366a"/><stop offset="0.00740" stop-color="#273a6b"/><stop offset="0.01110" stop-color="#273a6b"/><stop offset="0.01110" stop-color="#1d3366"/><stop offset="0.01653" stop-color="#1d3366"/><stop offset="0.01653" stop-color="#102b5b"/><stop offset="0.02023" stop-color="#102b5b"/><stop offset="0.02023" stop-color="#213669"/><stop offset="0.02294" stop-color="#213669"/><stop offset="0.02294" stop-color="#33436c"/><stop offset="0.02664" stop-color="#33436c"/><stop offset="0.02664" stop-color="#37466c"/><stop offset="0.03034" stop-color="#37466c"/><stop offset="0.03034" stop-color="#2e3f6b"/><stop offset="0.03404" stop-color="#2e3f6b"/><stop offset="0.03404" stop-color="#35446c"/><stop offset="0.03774" stop-color="#35446c"/><stop offset="0.03774" stop-color="#26396b"/><stop offset="0.04218" stop-color="#26396b"/><stop offset="0.04218" stop-color="#37466c"/><stop offset="0.04588" stop-color="#37466c"/><stop offset="0.04588" stop-color="#273a6b"/><stop offset="0.05032" stop-color="#273a6b"/><stop offset="0.05032" stop-color="#2f406b"/><stop offset="0.05328" stop-color="#2f406b"/><stop offset="0.05328" stop-color="#38466c"/><stop offset="0.05772" stop-color="#38466c"/><stop offset="0.05772" stop-color="#36456c"/><stop offset="0.06216" stop-color="#36456c"/><stop offset="0.06216" stop-color="#2e3f6b"/><stop offset="0.06759" stop-color="#2e3f6b"/><stop offset="0.06759" stop-color="#273a6b"/><stop offset="0.07301" stop-color="#273a6b"/><stop offset="0.07301" stop-color="#283b6b"/><stop offset="0.07745" stop-color="#283b6b"/><stop offset="0.07745" stop-color="#2f406b"/><stop offset="0.08288" stop-color="#2f406b"/><stop offset="0.08288" stop-color="#2e3f6b"/><stop offset="0.08831" stop-color="#2e3f6b"/><stop offset="0.08831" stop-color="#34436c"/><stop offset="0.09275" stop-color="#34436c"/><stop offset="0.09275" stop-color="#3a486c"/><stop offset="0.09817" stop-color="#3a486c"/><stop offset="0.09817" stop-color="#39476c"/><stop offset="0.10261" stop-color="#39476c"/><stop offset="0.10261" stop-color="#2f406b"/><stop offset="0.10705" stop-color="#2f406b"/><stop offset="0.10705" stop-color="#2e3f6b"/><stop offset="0.11075" stop-color="#2e3f6b"/><stop offset="0.11075" stop-color="#33436c"/><stop offset="0.11445" stop-color="#33436c"/><stop offset="0.11445" stop-color="#30416b"/><stop offset="0.11889" stop-color="#30416b"/><stop offset="0.11889" stop-color="#30406b"/><stop offset="0.12333" stop-color="#30406b"/><stop offset="0.12333" stop-color="#3d4a6c"/><stop offset="0.12630" stop-color="#3d4a6c"/><stop offset="0.12630" stop-color="#2f406b"/><stop offset="0.13172" stop-color="#2f406b"/><stop offset="0.13172" stop-color="#34446c"/><stop offset="0.13542" stop-color="#34446c"/><stop offset="0.13542" stop-color="#3a486c"/><stop offset="0.13912" stop-color="#3a486c"/><stop offset="0.13912" stop-color="#39476c"/><stop offset="0.14208" stop-color="#39476c"/><stop offset="0.14208" stop-color="#3a486c"/><stop offset="0.14504" stop-color="#3a486c"/><stop offset="0.14504" stop-color="#38466c"/><stop offset="0.14948" stop-color="#38466c"/><stop offset="0.14948" stop-color="#3f4c6c"/><stop offset="0.15244" stop-color="#3f4c6c"/><stop offset="0.15244" stop-color="#35446c"/><stop offset="0.15540" stop-color="#35446c"/><stop offset="0.15540" stop-color="#2a3c6b"/><stop offset="0.15984" stop-color="#2a3c6b"/><stop offset="0.15984" stop-color="#33436c"/><stop offset="0.16428" stop-color="#33436c"/><stop offset="0.16428" stop-color="#34436c"/><stop offset="0.16724" stop-color="#34436c"/><stop offset="0.16724" stop-color="#32426b"/><stop offset="0.17168" stop-color="#32426b"/><stop offset="0.17168" stop-color="#35446c"/><stop offset="0.17612" stop-color="#35446c"/><stop offset="0.17612" stop-color="#2e3f6b"/><stop offset="0.17982" stop-color="#2e3f6b"/><stop offset="0.17982" stop-color="#38466c"/><stop offset="0.18352" stop-color="#38466c"/><stop offset="0.18352" stop-color="#2f406b"/><stop offset="0.18895" stop-color="#2f406b"/><stop offset="0.18895" stop-color="#36456c"/><stop offset="0.19191" stop-color="#36456c"/><stop offset="0.19191" stop-color="#3c496c"/><stop offset="0.19635" stop-color="#3c496c"/><stop offset="0.19635" stop-color="#39476c"/><stop offset="0.20079" stop-color="#39476c"/><stop offset="0.20079" stop-color="#38476c"/><stop offset="0.20449" stop-color="#38476c"/><stop offset="0.20449" stop-color="#2b3d6b"/><stop offset="0.20745" stop-color="#2b3d6b"/><stop offset="0.20745" stop-color="#31416b"/><stop offset="0.21041" stop-color="#31416b"/><stop offset="0.21041" stop-color="#30406b"/><stop offset="0.21411" stop-color="#30406b"/><stop offset="0.21411" stop-color="#2e3f6b"/><stop offset="0.21954" stop-color="#2e3f6b"/><stop offset="0.21954" stop-color="#33436c"/><stop offset="0.22250" stop-color="#33436c"/><stop offset="0.22250" stop-color="#36456c"/><stop offset="0.22792" stop-color="#36456c"/><stop offset="0.22792" stop-color="#31416b"/><stop offset="0.23335" stop-color="#31416b"/><stop offset="0.23335" stop-color="#33436c"/><stop offset="0.23631" stop-color="#33436c"/><stop offset="0.23631" stop-color="#25396b"/><stop offset="0.23927" stop-color="#25396b"/><stop offset="0.23927" stop-color="#39476c"/><stop offset="0.24297" stop-color="#39476c"/><stop offset="0.24297" stop-color="#34446c"/><stop offset="0.24667" stop-color="#34446c"/><stop offset="0.24667" stop-color="#31416b"/><stop offset="0.24963" stop-color="#31416b"/><stop offset="0.24963" stop-color="#2e3f6b"/><stop offset="0.25506" stop-color="#2e3f6b"/><stop offset="0.25506" stop-color="#33426c"/><stop offset="0.25876" stop-color="#33426c"/><stop offset="0.25876" stop-color="#3b496c"/><stop offset="0.26172" stop-color="#3b496c"/><stop offset="0.26172" stop-color="#2d3e6b"/><stop offset="0.26542" stop-color="#2d3e6b"/><stop offset="0.26542" stop-color="#2f3f6b"/><stop offset="0.26838" stop-color="#2f3f6b"/><stop offset="0.26838" stop-color="#33436c"/><stop offset="0.27134" stop-color="#33436c"/><stop offset="0.27134" stop-color="#32426b"/><stop offset="0.27504" stop-color="#32426b"/><stop offset="0.27504" stop-color="#33436c"/><stop offset="0.27800" stop-color="#33436c"/><stop offset="0.27800" stop-color="#31426b"/><stop offset="0.28170" stop-color="#31426b"/><stop offset="0.28170" stop-color="#32426c"/><stop offset="0.28540" stop-color="#32426c"/><stop offset="0.28540" stop-color="#3f4c6c"/><stop offset="0.28984" stop-color="#3f4c6c"/><stop offset="0.28984" stop-color="#3a486c"/><stop offset="0.29526" stop-color="#3a486c"/><stop offset="0.29526" stop-color="#31416b"/><stop offset="0.29822" stop-color="#31416b"/><stop offset="0.29822" stop-color="#39476c"/><stop offset="0.30118" stop-color="#39476c"/><stop offset="0.30118" stop-color="#3c496c"/><stop offset="0.30562" stop-color="#3c496c"/><stop offset="0.30562" stop-color="#33436c"/><stop offset="0.30858" stop-color="#33436c"/><stop offset="0.30858" stop-color="#37466c"/><stop offset="0.31228" stop-color="#37466c"/><stop offset="0.31228" stop-color="#33436c"/><stop offset="0.31598" stop-color="#33436c"/><stop offset="0.31598" stop-color="#3c496c"/><stop offset="0.32042" stop-color="#3c496c"/><stop offset="0.32042" stop-color="#34446c"/><stop offset="0.32486" stop-color="#34446c"/><stop offset="0.32486" stop-color="#3e4b6c"/><stop offset="0.32782" stop-color="#3e4b6c"/><stop offset="0.32782" stop-color="#404d6c"/><stop offset="0.33078" stop-color="#404d6c"/><stop offset="0.33078" stop-color="#33436c"/><stop offset="0.33448" stop-color="#33436c"/><stop offset="0.33448" stop-color="#3a486c"/><stop offset="0.33892" stop-color="#3a486c"/><stop offset="0.33892" stop-color="#33436c"/><stop offset="0.34435" stop-color="#33436c"/><stop offset="0.34435" stop-color="#37466c"/><stop offset="0.34978" stop-color="#37466c"/><stop offset="0.34978" stop-color="#2c3e6b"/><stop offset="0.35274" stop-color="#2c3e6b"/><stop offset="0.35274" stop-color="#3a486c"/><stop offset="0.35570" stop-color="#3a486c"/><stop offset="0.35570" stop-color="#30406b"/><stop offset="0.35866" stop-color="#30406b"/><stop offset="0.35866" stop-color="#32426b"/><stop offset="0.36236" stop-color="#32426b"/><stop offset="0.36236" stop-color="#39476c"/><stop offset="0.36532" stop-color="#39476c"/><stop offset="0.36532" stop-color="#414d6c"/><stop offset="0.36976" stop-color="#414d6c"/><stop offset="0.36976" stop-color="#30406b"/><stop offset="0.37519" stop-color="#30406b"/><stop offset="0.37519" stop-color="#35446c"/><stop offset="0.37963" stop-color="#35446c"/><stop offset="0.37963" stop-color="#2f406b"/><stop offset="0.38333" stop-color="#2f406b"/><stop offset="0.38333" stop-color="#37456c"/><stop offset="0.38875" stop-color="#37456c"/><stop offset="0.38875" stop-color="#39476c"/><stop offset="0.39418" stop-color="#39476c"/><stop offset="0.39418" stop-color="#38476c"/><stop offset="0.39788" stop-color="#38476c"/><stop offset="0.39788" stop-color="#2f406b"/><stop offset="0.40158" stop-color="#2f406b"/><stop offset="0.40158" stop-color="#35446c"/><stop offset="0.40454" stop-color="#35446c"/><stop offset="0.40454" stop-color="#35446c"/><stop offset="0.40997" stop-color="#35446c"/><stop offset="0.40997" stop-color="#293c6b"/><stop offset="0.41441" stop-color="#293c6b"/><stop offset="0.41441" stop-color="#30416b"/><stop offset="0.41737" stop-color="#30416b"/><stop offset="0.41737" stop-color="#35446c"/><stop offset="0.42181" stop-color="#35446c"/><stop offset="0.42181" stop-color="#404d6c"/><stop offset="0.42551" stop-color="#404d6c"/><stop offset="0.42551" stop-color="#38466c"/><stop offset="0.42995" stop-color="#38466c"/><stop offset="0.42995" stop-color="#34436c"/><stop offset="0.43365" stop-color="#34436c"/><stop offset="0.43365" stop-color="#3a486c"/><stop offset="0.43735" stop-color="#3a486c"/><stop offset="0.43735" stop-color="#31416b"/><stop offset="0.44031" stop-color="#31416b"/><stop offset="0.44031" stop-color="#3c496c"/><stop offset="0.44401" stop-color="#3c496c"/><stop offset="0.44401" stop-color="#35446c"/><stop offset="0.44943" stop-color="#35446c"/><stop offset="0.44943" stop-color="#34436c"/><stop offset="0.45313" stop-color="#34436c"/><stop offset="0.45313" stop-color="#33426c"/><stop offset="0.45856" stop-color="#33426c"/><stop offset="0.45856" stop-color="#3a486c"/><stop offset="0.46152" stop-color="#3a486c"/><stop offset="0.46152" stop-color="#35446c"/><stop offset="0.46522" stop-color="#35446c"/><stop offset="0.46522" stop-color="#283b6b"/><stop offset="0.47065" stop-color="#283b6b"/><stop offset="0.47065" stop-color="#2d3e6b"/><stop offset="0.47361" stop-color="#2d3e6b"/><stop offset="0.47361" stop-color="#34436c"/><stop offset="0.47657" stop-color="#34436c"/><stop offset="0.47657" stop-color="#33426c"/><stop offset="0.47953" stop-color="#33426c"/><stop offset="0.47953" stop-color="#2f406b"/><stop offset="0.48249" stop-color="#2f406b"/><stop offset="0.48249" stop-color="#35446c"/><stop offset="0.48619" stop-color="#35446c"/><stop offset="0.48619" stop-color="#37456c"/><stop offset="0.48915" stop-color="#37456c"/><stop offset="0.48915" stop-color="#2d3e6b"/><stop offset="0.49211" stop-color="#2d3e6b"/><stop offset="0.49211" stop-color="#35446c"/><stop offset="0.49655" stop-color="#35446c"/><stop offset="0.49655" stop-color="#36456c"/><stop offset="0.50025" stop-color="#36456c"/><stop offset="0.50025" stop-color="#3d4a6c"/><stop offset="0.50395" stop-color="#3d4a6c"/><stop offset="0.50395" stop-color="#2d3e6b"/><stop offset="0.50839" stop-color="#2d3e6b"/><stop offset="0.50839" stop-color="#3d4a6c"/><stop offset="0.51209" stop-color="#3d4a6c"/><stop offset="0.51209" stop-color="#3b486c"/><stop offset="0.51751" stop-color="#3b486c"/><stop offset="0.51751" stop-color="#25386b"/><stop offset="0.52294" stop-color="#25386b"/><stop offset="0.52294" stop-color="#36456c"/><stop offset="0.52664" stop-color="#36456c"/><stop offset="0.52664" stop-color="#2f406b"/><stop offset="0.53108" stop-color="#2f406b"/><stop offset="0.53108" stop-color="#3b496c"/><stop offset="0.53552" stop-color="#3b496c"/><stop offset="0.53552" stop-color="#414d6c"/><stop offset="0.54095" stop-color="#414d6c"/><stop offset="0.54095" stop-color="#31416b"/><stop offset="0.54637" stop-color="#31416b"/><stop offset="0.54637" stop-color="#2d3f6b"/><stop offset="0.55180" stop-color="#2d3f6b"/><stop offset="0.55180" stop-color="#31416b"/><stop offset="0.55476" stop-color="#31416b"/><stop offset="0.55476" stop-color="#3d4a6c"/><stop offset="0.55846" stop-color="#3d4a6c"/><stop offset="0.55846" stop-color="#34436c"/><stop offset="0.56290" stop-color="#34436c"/><stop offset="0.56290" stop-color="#3c496c"/><stop offset="0.56586" stop-color="#3c496c"/><stop offset="0.56586" stop-color="#37466c"/><stop offset="0.57030" stop-color="#37466c"/><stop offset="0.57030" stop-color="#37456c"/><stop offset="0.57400" stop-color="#37456c"/><stop offset="0.57400" stop-color="#36456c"/><stop offset="0.57844" stop-color="#36456c"/><stop offset="0.57844" stop-color="#30416b"/><stop offset="0.58387" stop-color="#30416b"/><stop offset="0.58387" stop-color="#33436c"/><stop offset="0.58757" stop-color="#33436c"/><stop offset="0.58757" stop-color="#2d3e6b"/><stop offset="0.59127" stop-color="#2d3e6b"/><stop offset="0.59127" stop-color="#3a486c"/><stop offset="0.59423" stop-color="#3a486c"/><stop offset="0.59423" stop-color="#39476c"/><stop offset="0.59867" stop-color="#39476c"/><stop offset="0.59867" stop-color="#30406b"/><stop offset="0.60311" stop-color="#30406b"/><stop offset="0.60311" stop-color="#35446c"/><stop offset="0.60607" stop-color="#35446c"/><stop offset="0.60607" stop-color="#283b6b"/><stop offset="0.60977" stop-color="#283b6b"/><stop offset="0.60977" stop-color="#32426b"/><stop offset="0.61421" stop-color="#32426b"/><stop offset="0.61421" stop-color="#2f406b"/><stop offset="0.61791" stop-color="#2f406b"/><stop offset="0.61791" stop-color="#3b486c"/><stop offset="0.62235" stop-color="#3b486c"/><stop offset="0.62235" stop-color="#3c496c"/><stop offset="0.62605" stop-color="#3c496c"/><stop offset="0.62605" stop-color="#37466c"/><stop offset="0.62975" stop-color="#37466c"/><stop offset="0.62975" stop-color="#2c3d6b"/><stop offset="0.63271" stop-color="#2c3d6b"/><stop offset="0.63271" stop-color="#3b496c"/><stop offset="0.63641" stop-color="#3b496c"/><stop offset="0.63641" stop-color="#2e3f6b"/><stop offset="0.64184" stop-color="#2e3f6b"/><stop offset="0.64184" stop-color="#30416b"/><stop offset="0.64480" stop-color="#30416b"/><stop offset="0.64480" stop-color="#3b486c"/><stop offset="0.65022" stop-color="#3b486c"/><stop offset="0.65022" stop-color="#3a486c"/><stop offset="0.65565" stop-color="#3a486c"/><stop offset="0.65565" stop-color="#34446c"/><stop offset="0.65861" stop-color="#34446c"/><stop offset="0.65861" stop-color="#33436c"/><stop offset="0.66404" stop-color="#33436c"/><stop offset="0.66404" stop-color="#35446c"/><stop offset="0.66700" stop-color="#35446c"/><stop offset="0.66700" stop-color="#2f406b"/><stop offset="0.67144" stop-color="#2f406b"/><stop offset="0.67144" stop-color="#33436c"/><stop offset="0.67686" stop-color="#33436c"/><stop offset="0.67686" stop-color="#37466c"/><stop offset="0.68056" stop-color="#37466c"/><stop offset="0.68056" stop-color="#39476c"/><stop offset="0.68352" stop-color="#39476c"/><stop offset="0.68352" stop-color="#38466c"/><stop offset="0.68722" stop-color="#38466c"/><stop offset="0.68722" stop-color="#3a486c"/><stop offset="0.69092" stop-color="#3a486c"/><stop offset="0.69092" stop-color="#32426c"/><stop offset="0.69462" stop-color="#32426c"/><stop offset="0.69462" stop-color="#38466c"/><stop offset="0.70005" stop-color="#38466c"/><stop offset="0.70005" stop-color="#36456c"/><stop offset="0.70548" stop-color="#36456c"/><stop offset="0.70548" stop-color="#30406b"/><stop offset="0.71090" stop-color="#30406b"/><stop offset="0.71090" stop-color="#34436c"/><stop offset="0.71386" stop-color="#34436c"/><stop offset="0.71386" stop-color="#34446c"/><stop offset="0.71830" stop-color="#34446c"/><stop offset="0.71830" stop-color="#35446c"/><stop offset="0.72274" stop-color="#35446c"/><stop offset="0.72274" stop-color="#39476c"/><stop offset="0.72644" stop-color="#39476c"/><stop offset="0.72644" stop-color="#33426c"/><stop offset="0.73014" stop-color="#33426c"/><stop offset="0.73014" stop-color="#37466c"/><stop offset="0.73310" stop-color="#37466c"/><stop offset="0.73310" stop-color="#34446c"/><stop offset="0.73853" stop-color="#34446c"/><stop offset="0.73853" stop-color="#31426b"/><stop offset="0.74297" stop-color="#31426b"/><stop offset="0.74297" stop-color="#31426b"/><stop offset="0.74667" stop-color="#31426b"/><stop offset="0.74667" stop-color="#3d4a6c"/><stop offset="0.75210" stop-color="#3d4a6c"/><stop offset="0.75210" stop-color="#38466c"/><stop offset="0.75654" stop-color="#38466c"/><stop offset="0.75654" stop-color="#33426c"/><stop offset="0.75950" stop-color="#33426c"/><stop offset="0.75950" stop-color="#33436c"/><stop offset="0.76320" stop-color="#33436c"/><stop offset="0.76320" stop-color="#37456c"/><stop offset="0.76764" stop-color="#37456c"/><stop offset="0.76764" stop-color="#36456c"/><stop offset="0.77208" stop-color="#36456c"/><stop offset="0.77208" stop-color="#2b3d6b"/><stop offset="0.77652" stop-color="#2b3d6b"/><stop offset="0.77652" stop-color="#35446c"/><stop offset="0.78194" stop-color="#35446c"/><stop offset="0.78194" stop-color="#34446c"/><stop offset="0.78392" stop-color="#34446c"/><stop offset="0.78392" stop-color="#d2c164"/><stop offset="0.78836" stop-color="#d2c164"/><stop offset="0.78836" stop-color="#cabb68"/><stop offset="0.79132" stop-color="#cabb68"/><stop offset="0.79132" stop-color="#d9c760"/><stop offset="0.79428" stop-color="#d9c760"/><stop offset="0.79428" stop-color="#d9c761"/><stop offset="0.79724" stop-color="#d9c761"/><stop offset="0.79724" stop-color="#d3c263"/><stop offset="0.80266" stop-color="#d3c263"/><stop offset="0.80266" stop-color="#dac860"/><stop offset="0.80809" stop-color="#dac860"/><stop offset="0.80809" stop-color="#cebe66"/><stop offset="0.81253" stop-color="#cebe66"/><stop offset="0.81253" stop-color="#c5b66b"/><stop offset="0.81623" stop-color="#c5b66b"/><stop offset="0.81623" stop-color="#e3d058"/><stop offset="0.81919" stop-color="#e3d058"/><stop offset="0.81919" stop-color="#ccbc67"/><stop offset="0.82289" stop-color="#ccbc67"/><stop offset="0.82289" stop-color="#d1c065"/><stop offset="0.82733" stop-color="#d1c065"/><stop offset="0.82733" stop-color="#dac860"/><stop offset="0.83029" stop-color="#dac860"/><stop offset="0.83029" stop-color="#d0c065"/><stop offset="0.83572" stop-color="#d0c065"/><stop offset="0.83572" stop-color="#cebe66"/><stop offset="0.83942" stop-color="#cebe66"/><stop offset="0.83942" stop-color="#baae6f"/><stop offset="0.84238" stop-color="#baae6f"/><stop offset="0.84238" stop-color="#bdb06f"/><stop offset="0.84682" stop-color="#bdb06f"/><stop offset="0.84682" stop-color="#c0b36d"/><stop offset="0.85052" stop-color="#c0b36d"/><stop offset="0.85052" stop-color="#decb5e"/><stop offset="0.85496" stop-color="#decb5e"/><stop offset="0.85496" stop-color="#dcc95f"/><stop offset="0.85866" stop-color="#dcc95f"/><stop offset="0.85866" stop-color="#aea472"/><stop offset="0.86162" stop-color="#aea472"/><stop offset="0.86162" stop-color="#d8c661"/><stop offset="0.86532" stop-color="#d8c661"/><stop offset="0.86532" stop-color="#d5c462"/><stop offset="0.86828" stop-color="#d5c462"/><stop offset="0.86828" stop-color="#d4c263"/><stop offset="0.87198" stop-color="#d4c263"/><stop offset="0.87198" stop-color="#bfb26d"/><stop offset="0.87568" stop-color="#bfb26d"/><stop offset="0.87568" stop-color="#a39b74"/><stop offset="0.87864" stop-color="#a39b74"/><stop offset="0.87864" stop-color="#d0bf65"/><stop offset="0.88308" stop-color="#d0bf65"/><stop offset="0.88308" stop-color="#d5c462"/><stop offset="0.88752" stop-color="#d5c462"/><stop offset="0.88752" stop-color="#d9c760"/><stop offset="0.89122" stop-color="#d9c760"/><stop offset="0.89122" stop-color="#d5c462"/><stop offset="0.89566" stop-color="#d5c462"/><stop offset="0.89566" stop-color="#c6b76a"/><stop offset="0.90109" stop-color="#c6b76a"/><stop offset="0.90109" stop-color="#d7c562"/><stop offset="0.90479" stop-color="#d7c562"/><stop offset="0.90479" stop-color="#c1b36d"/><stop offset="0.90849" stop-color="#c1b36d"/><stop offset="0.90849" stop-color="#cabb68"/><stop offset="0.91391" stop-color="#cabb68"/><stop offset="0.91391" stop-color="#c9ba68"/><stop offset="0.91835" stop-color="#c9ba68"/><stop offset="0.91835" stop-color="#ada372"/><stop offset="0.92205" stop-color="#ada372"/><stop offset="0.92205" stop-color="#c3b56c"/><stop offset="0.92501" stop-color="#c3b56c"/><stop offset="0.92501" stop-color="#d1c064"/><stop offset="0.92945" stop-color="#d1c064"/><stop offset="0.92945" stop-color="#d5c462"/><stop offset="0.93192" stop-color="#d5c462"/><stop offset="0.93192" stop-color="#d3c263"/><stop offset="0.93636" stop-color="#d3c263"/><stop offset="0.93636" stop-color="#e3d058"/><stop offset="0.94080" stop-color="#e3d058"/><stop offset="0.94080" stop-color="#e4d157"/><stop offset="0.94623" stop-color="#e4d157"/><stop offset="0.94623" stop-color="#dbc95f"/><stop offset="0.94993" stop-color="#dbc95f"/><stop offset="0.94993" stop-color="#f6e141"/><stop offset="0.95437" stop-color="#f6e141"/><stop offset="0.95437" stop-color="#fee838"/><stop offset="0.95979" stop-color="#fee838"/><stop offset="0.95979" stop-color="#bcaf6f"/><stop offset="0.96226" stop-color="#bcaf6f"/><stop offset="0.96226" stop-color="#0a2856"/><stop offset="0.96596" stop-color="#0a2856"/><stop offset="0.96596" stop-color="#0d2a59"/><stop offset="0.96966" stop-color="#0d2a59"/><stop offset="0.96966" stop-color="#112c5c"/><stop offset="0.97336" stop-color="#112c5c"/><stop offset="0.97336" stop-color="#122d5d"/><stop offset="0.97632" stop-color="#122d5d"/><stop offset="0.97632" stop-color="#042451"/><stop offset="0.98175" stop-color="#042451"/><stop offset="0.98175" stop-color="#062553"/><stop offset="0.98717" stop-color="#062553"/><stop offset="0.98717" stop-color="#062553"/><stop offset="0.99260" stop-color="#062553"/><stop offset="0.99260" stop-color="#092755"/><stop offset="0.99803" stop-color="#092755"/><stop offset="0.99803" stop-color="#0d2a59"/><stop offset="1.00000" stop-color="#0d2a59"/></linearGradient></defs>
<rect x="21.20" y="255.40" width="12.00" height="405.40" fill="url(#hm0)" stroke="none" stroke-width="0"/>
<defs><linearGradient id="hm1" gradientUnits="userSpaceOnUse" x1="0" y1="255.4" x2="0" y2="660.8"><stop offset="0.00000" stop-color="#5c626f"/><stop offset="0.00444" stop-color="#5c626f"/><stop offset="0.00444" stop-color="#5c626f"/><stop offset="0.00740" stop-color="#5c626f"/><stop offset="0.00740" stop-color="#5e636f"/><stop offset="0.01110" stop-color="#5e636f"/><stop offset="0.01110" stop-color="#626770"/><stop offset="0.01653" stop-color="#626770"/><stop offset="0.01653" stop-color="#59606e"/><stop offset="0.02023" stop-color="#59606e"/><stop offset="0.02023" stop-color="#5f646f"/><stop offset="0.02294" stop-color="#5f646f"/><stop offset="0.02294" stop-color="#fae53c"/><stop offset="0.02664" stop-color="#fae53c"/><stop offset="0.02664" stop-color="#fbe63b"/><stop offset="0.03034" stop-color="#fbe63b"/><stop offset="0.03034" stop-color="#fbe53b"/><stop offset="0.03404" stop-color="#fbe53b"/><stop offset="0.03404" stop-color="#f8e240"/><stop offset="0.03774" stop-color="#f8e240"/><stop offset="0.03774" stop-color="#fae53c"/><stop offset="0.04218" stop-color="#fae53c"/><stop offset="0.04218" stop-color="#f9e43e"/><stop offset="0.04588" stop-color="#f9e43e"/><stop offset="0.04588" stop-color="#f9e33e"/><stop offset="0.05032" stop-color="#f9e33e"/><stop offset="0.05032" stop-color="#fbe53c"/><stop offset="0.05328" stop-color="#fbe53c"/><stop offset="0.05328" stop-color="#fbe53b"/><stop offset="0.05772" stop-color="#fbe53b"/><stop offset="0.05772" stop-color="#f9e33e"/><stop offset="0.06216" stop-color="#f9e33e"/><stop offset="0.06216" stop-color="#f9e33e"/><stop offset="0.06759" stop-color="#f9e33e"/><stop offset="0.06759" stop-color="#f9e43e"/><stop offset="0.07301" stop-color="#f9e43e"/><stop offset="0.07301" stop-color="#f5e042"/><stop offset="0.07745" stop-color="#f5e042"/><stop offset="0.07745" stop-color="#fbe53c"/><stop offset="0.08288" stop-color="#fbe53c"/><stop offset="0.08288" stop-color="#fbe63b"/><stop offset="0.08831" stop-color="#fbe63b"/><stop offset="0.08831" stop-color="#fae53c"/><stop offset="0.09275" stop-color="#fae53c"/><stop offset="0.09275" stop-color="#f9e33e"/><stop offset="0.09817" stop-color="#f9e33e"/><stop offset="0.09817" stop-color="#fce63b"/><stop offset="0.10261" stop-color="#fce63b"/><stop offset="0.10261" stop-color="#f5e043"/><stop offset="0.10705" stop-color="#f5e043"/><stop offset="0.10705" stop-color="#fae53d"/><stop offset="0.11075" stop-color="#fae53d"/><stop offset="0.11075" stop-color="#f9e43e"/><stop offset="0.11445" stop-color="#f9e43e"/><stop offset="0.11445" stop-color="#fbe63b"/><stop offset="0.11889" stop-color="#fbe63b"/><stop offset="0.11889" stop-color="#f9e33e"/><stop offset="0.12333" stop-color="#f9e33e"/><stop offset="0.12333" stop-color="#f6e141"/><stop offset="0.12630" stop-color="#f6e141"/><stop offset="0.12630" stop-color="#fbe53c"/><stop offset="0.13172" stop-color="#fbe53c"/><stop offset="0.13172" stop-color="#fbe53c"/><stop offset="0.13542" stop-color="#fbe53c"/><stop offset="0.13542" stop-color="#fbe53c"/><stop offset="0.13912" stop-color="#fbe53c"/><stop offset="0.13912" stop-color="#fce63b"/><stop offset="0.14208" stop-color="#fce63b"/><stop offset="0.14208" stop-color="#f8e33f"/><stop offset="0.14504" stop-color="#f8e33f"/><stop offset="0.14504" stop-color="#f8e33f"/><stop offset="0.14948" stop-color="#f8e33f"/><stop offset="0.14948" stop-color="#f5e042"/><stop offset="0.15244" stop-color="#f5e042"/><stop offset="0.15244" stop-color="#fbe63b"/><stop offset="0.15540" stop-color="#fbe63b"/><stop offset="0.15540" stop-color="#fae43d"/><stop offset="0.15984" stop-color="#fae43d"/><stop offset="0.15984" stop-color="#fbe53c"/><stop offset="0.16428" stop-color="#fbe53c"/><stop offset="0.16428" stop-color="#f8e33f"/><stop offset="0.16724" stop-color="#f8e33f"/><stop offset="0.16724" stop-color="#f6e142"/><stop offset="0.17168" stop-color="#f6e142"/><stop offset="0.17168" stop-color="#f8e240"/><stop offset="0.17612" stop-color="#f8e240"/><stop offset="0.17612" stop-color="#f7e240"/><stop offset="0.17982" stop-color="#f7e240"/><stop offset="0.17982" stop-color="#f7e141"/><stop offset="0.18352" stop-color="#f7e141"/><stop offset="0.18352" stop-color="#f9e43e"/><stop offset="0.18895" stop-color="#f9e43e"/><stop offset="0.18895" stop-color="#f8e23f"/><stop offset="0.19191" stop-color="#f8e23f"/><stop offset="0.19191" stop-color="#f6e142"/><stop offset="0.19635" stop-color="#f6e142"/><stop offset="0.19635" stop-color="#f9e43e"/><stop offset="0.20079" stop-color="#f9e43e"/><stop offset="0.20079" stop-color="#f9e33e"/><stop offset="0.20449" stop-color="#f9e33e"/><stop offset="0.20449" stop-color="#fae43d"/><stop offset="0.20745" stop-color="#fae43d"/><stop offset="0.20745" stop-color="#fce63a"/><stop offset="0.21041" stop-color="#fce63a"/><stop offset="0.21041" stop-color="#fae43d"/><stop offset="0.21411" stop-color="#fae43d"/><stop offset="0.21411" stop-color="#f7e240"/><stop offset="0.21954" stop-color="#f7e240"/><stop offset="0.21954" stop-color="#f9e33e"/><stop offset="0.22250" stop-color="#f9e33e"/><stop offset="0.22250" stop-color="#fae43d"/><stop offset="0.22792" stop-color="#fae43d"/><stop offset="0.22792" stop-color="#f8e33f"/><stop offset="0.23335" stop-color="#f8e33f"/><stop offset="0.23335" stop-color="#fae53c"/><stop offset="0.23631" stop-color="#fae53c"/><stop offset="0.23631" stop-color="#f9e33e"/><stop offset="0.23927" stop-color="#f9e33e"/><stop offset="0.23927" stop-color="#fbe53c"/><stop offset="0.24297" stop-color="#fbe53c"/><stop offset="0.24297" stop-color="#f8e33f"/><stop offset="0.24667" stop-color="#f8e33f"/><stop offset="0.24667" stop-color="#fbe53c"/><stop offset="0.24963" stop-color="#fbe53c"/><stop offset="0.24963" stop-color="#f7e240"/><stop offset="0.25506" stop-color="#f7e240"/><stop offset="0.25506" stop-color="#f8e240"/><stop offset="0.25876" stop-color="#f8e240"/><stop offset="0.25876" stop-color="#f8e240"/><stop offset="0.26172" stop-color="#f8e240"/><stop offset="0.26172" stop-color="#fae53c"/><stop offset="0.26542" stop-color="#fae53c"/><stop offset="0.26542" stop-color="#f9e43e"/><stop offset="0.26838" stop-color="#f9e43e"/><stop offset="0.26838" stop-color="#fae43d"/><stop offset="0.27134" stop-color="#fae43d"/><stop offset="0.27134" stop-color="#fce73a"/><stop offset="0.27504" stop-color="#fce73a"/><stop offset="0.27504" stop-color="#f7e240"/><stop offset="0.27800" stop-color="#f7e240"/><stop offset="0.27800" stop-color="#f8e23f"/><stop offset="0.28170" stop-color="#f8e23f"/><stop offset="0.28170" stop-color="#f9e33f"/><stop offset="0.28540" stop-color="#f9e33f"/><stop offset="0.28540" stop-color="#f8e23f"/><stop offset="0.28984" stop-color="#f8e23f"/><stop offset="0.28984" stop-color="#fbe53c"/><stop offset="0.29526" stop-color="#fbe53c"/><stop offset="0.29526" stop-color="#f8e33f"/><stop offset="0.29822" stop-color="#f8e33f"/><stop offset="0.29822" stop-color="#fae53c"/><stop offset="0.30118" stop-color="#fae53c"/><stop offset="0.30118" stop-color="#fce63a"/><stop offset="0.30562" stop-color="#fce63a"/><stop offset="0.30562" stop-color="#f8e33f"/><stop offset="0.30858" stop-color="#f8e33f"/><stop offset="0.30858" stop-color="#fbe53b"/><stop offset="0.31228" stop-color="#fbe53b"/><stop offset="0.31228" stop-color="#f9e43e"/><stop offset="0.31598" stop-color="#f9e43e"/><stop offset="0.31598" stop-color="#fae43d"/><stop offset="0.32042" stop-color="#fae43d"/><stop offset="0.32042" stop-color="#f8e33f"/><stop offset="0.32486" stop-color="#f8e33f"/><stop offset="0.32486" stop-color="#fce63a"/><stop offset="0.32782" stop-color="#fce63a"/><stop offset="0.32782" stop-color="#fae43d"/><stop offset="0.33078" stop-color="#fae43d"/><stop offset="0.33078" stop-color="#fae53c"/><stop offset="0.33448" stop-color="#fae53c"/><stop offset="0.33448" stop-color="#f8e23f"/><stop offset="0.33892" stop-color="#f8e23f"/><stop offset="0.33892" stop-color="#f9e33e"/><stop offset="0.34435" stop-color="#f9e33e"/><stop offset="0.34435" stop-color="#fbe53c"/><stop offset="0.34978" stop-color="#fbe53c"/><stop offset="0.34978" stop-color="#f7e240"/><stop offset="0.35274" stop-color="#f7e240"/><stop offset="0.35274" stop-color="#f9e43d"/><stop offset="0.35570" stop-color="#f9e43d"/><stop offset="0.35570" stop-color="#fbe63b"/><stop offset="0.35866" stop-color="#fbe63b"/><stop offset="0.35866" stop-color="#fce63a"/><stop offset="0.36236" stop-color="#fce63a"/><stop offset="0.36236" stop-color="#f9e43e"/><stop offset="0.36532" stop-color="#f9e43e"/><stop offset="0.36532" stop-color="#f8e33f"/><stop offset="0.36976" stop-color="#f8e33f"/><stop offset="0.36976" stop-color="#fae43d"/><stop offset="0.37519" stop-color="#fae43d"/><stop offset="0.37519" stop-color="#fae43d"/><stop offset="0.37963" stop-color="#fae43d"/><stop offset="0.37963" stop-color="#f9e43d"/><stop offset="0.38333" stop-color="#f9e43d"/><stop offset="0.38333" stop-color="#f8e33f"/><stop offset="0.38875" stop-color="#f8e33f"/><stop offset="0.38875" stop-color="#f9e43e"/><stop offset="0.39418" stop-color="#f9e43e"/><stop offset="0.39418" stop-color="#fbe53c"/><stop offset="0.39788" stop-color="#fbe53c"/><stop offset="0.39788" stop-color="#fae53c"/><stop offset="0.40158" stop-color="#fae53c"/><stop offset="0.40158" stop-color="#f7e240"/><stop offset="0.40454" stop-color="#f7e240"/><stop offset="0.40454" stop-color="#fae53d"/><stop offset="0.40997" stop-color="#fae53d"/><stop offset="0.40997" stop-color="#f7e240"/><stop offset="0.41441" stop-color="#f7e240"/><stop offset="0.41441" stop-color="#fae43d"/><stop offset="0.41737" stop-color="#fae43d"/><stop offset="0.41737" stop-color="#fce63b"/><stop offset="0.42181" stop-color="#fce63b"/><stop offset="0.42181" stop-color="#fae53c"/><stop offset="0.42551" stop-color="#fae53c"/><stop offset="0.42551" stop-color="#f8e33f"/><stop offset="0.42995" stop-color="#f8e33f"/><stop offset="0.42995" stop-color="#fce73a"/><stop offset="0.43365" stop-color="#fce73a"/><stop offset="0.43365" stop-color="#f9e43e"/><stop offset="0.43735" stop-color="#f9e43e"/><stop offset="0.43735" stop-color="#fce63b"/><stop offset="0.44031" stop-color="#fce63b"/><stop offset="0.44031" stop-color="#f8e33f"/><stop offset="0.44401" stop-color="#f8e33f"/><stop offset="0.44401" stop-color="#f7e240"/><stop offset="0.44943" stop-color="#f7e240"/><stop offset="0.44943" stop-color="#fde73a"/><stop offset="0.45313" stop-color="#fde73a"/><stop offset="0.45313" stop-color="#f7e141"/><stop offset="0.45856" stop-color="#f7e141"/><stop offset="0.45856" stop-color="#fbe53c"/><stop offset="0.46152" stop-color="#fbe53c"/><stop offset="0.46152" stop-color="#fae43d"/><stop offset="0.46522" stop-color="#fae43d"/><stop offset="0.46522" stop-color="#fbe53c"/><stop offset="0.47065" stop-color="#fbe53c"/><stop offset="0.47065" stop-color="#f8e23f"/><stop offset="0.47361" stop-color="#f8e23f"/><stop offset="0.47361" stop-color="#fae43d"/><stop offset="0.47657" stop-color="#fae43d"/><stop offset="0.47657" stop-color="#f9e43e"/><stop offset="0.47953" stop-color="#f9e43e"/><stop offset="0.47953" stop-color="#fae53c"/><stop offset="0.48249" stop-color="#fae53c"/><stop offset="0.48249" stop-color="#fce63a"/><stop offset="0.48619" stop-color="#fce63a"/><stop offset="0.48619" stop-color="#f7e240"/><stop offset="0.48915" stop-color="#f7e240"/><stop offset="0.48915" stop-color="#f8e33f"/><stop offset="0.49211" stop-color="#f8e33f"/><stop offset="0.49211" stop-color="#f8e33f"/><stop offset="0.49655" stop-color="#f8e33f"/><stop offset="0.49655" stop-color="#fae43d"/><stop offset="0.50025" stop-color="#fae43d"/><stop offset="0.50025" stop-color="#f9e33e"/><stop offset="0.50395" stop-color="#f9e33e"/><stop offset="0.50395" stop-color="#fae43d"/><stop offset="0.50839" stop-color="#fae43d"/><stop offset="0.50839" stop-color="#f9e43e"/><stop offset="0.51209" stop-color="#f9e43e"/><stop offset="0.51209" stop-color="#fae43d"/><stop offset="0.51751" stop-color="#fae43d"/><stop offset="0.51751" stop-color="#fbe53b"/><stop offset="0.52294" stop-color="#fbe53b"/><stop offset="0.52294" stop-color="#fae43d"/><stop offset="0.52664" stop-color="#fae43d"/><stop offset="0.52664" stop-color="#fce63b"/><stop offset="0.53108" stop-color="#fce63b"/><stop offset="0.53108" stop-color="#f8e23f"/><stop offset="0.53552" stop-color="#f8e23f"/><stop offset="0.53552" stop-color="#f9e33e"/><stop offset="0.54095" stop-color="#f9e33e"/><stop offset="0.54095" stop-color="#f8e33f"/><stop offset="0.54637" stop-color="#f8e33f"/><stop offset="0.54637" stop-color="#f8e33f"/><stop offset="0.55180" stop-color="#f8e33f"/><stop offset="0.55180" stop-color="#fbe53c"/><stop offset="0.55476" stop-color="#fbe53c"/><stop offset="0.55476" stop-color="#f9e33e"/><stop offset="0.55846" stop-color="#f9e33e"/><stop offset="0.55846" stop-color="#fae53d"/><stop offset="0.56290" stop-color="#fae53d"/><stop offset="0.56290" stop-color="#f8e33f"/><stop offset="0.56586" stop-color="#f8e33f"/><stop offset="0.56586" stop-color="#f8e33f"/><stop offset="0.57030" stop-color="#f8e33f"/><stop offset="0.57030" stop-color="#fae43d"/><stop offset="0.57400" stop-color="#fae43d"/><stop offset="0.57400" stop-color="#fbe53b"/><stop offset="0.57844" stop-color="#fbe53b"/><stop offset="0.57844" stop-color="#fde739"/><stop offset="0.58387" stop-color="#fde739"/><stop offset="0.58387" stop-color="#f9e43e"/><stop offset="0.58757" stop-color="#f9e43e"/><stop offset="0.58757" stop-color="#f9e33e"/><stop offset="0.59127" stop-color="#f9e33e"/><stop offset="0.59127" stop-color="#f8e33f"/><stop offset="0.59423" stop-color="#f8e33f"/><stop offset="0.59423" stop-color="#f9e33e"/><stop offset="0.59867" stop-color="#f9e33e"/><stop offset="0.59867" stop-color="#fae53c"/><stop offset="0.60311" stop-color="#fae53c"/><stop offset="0.60311" stop-color="#fae43d"/><stop offset="0.60607" stop-color="#fae43d"/><stop offset="0.60607" stop-color="#fae43d"/><stop offset="0.60977" stop-color="#fae43d"/><stop offset="0.60977" stop-color="#fbe63b"/><stop offset="0.61421" stop-color="#fbe63b"/><stop offset="0.61421" stop-color="#f9e43e"/><stop offset="0.61791" stop-color="#f9e43e"/><stop offset="0.61791" stop-color="#fae43d"/><stop offset="0.62235" stop-color="#fae43d"/><stop offset="0.62235" stop-color="#f8e23f"/><stop offset="0.62605" stop-color="#f8e23f"/><stop offset="0.62605" stop-color="#f8e33f"/><stop offset="0.62975" stop-color="#f8e33f"/><stop offset="0.62975" stop-color="#fae43d"/><stop offset="0.63271" stop-color="#fae43d"/><stop offset="0.63271" stop-color="#fde73a"/><stop offset="0.63641" stop-color="#fde73a"/><stop offset="0.63641" stop-color="#fbe53c"/><stop offset="0.64184" stop-color="#fbe53c"/><stop offset="0.64184" stop-color="#fbe53c"/><stop offset="0.64480" stop-color="#fbe53c"/><stop offset="0.64480" stop-color="#f9e43e"/><stop offset="0.65022" stop-color="#f9e43e"/><stop offset="0.65022" stop-color="#fbe53c"/><stop offset="0.65565" stop-color="#fbe53c"/><stop offset="0.65565" stop-color="#fbe53c"/><stop offset="0.65861" stop-color="#fbe53c"/><stop offset="0.65861" stop-color="#fce63a"/><stop offset="0.66404" stop-color="#fce63a"/><stop offset="0.66404" stop-color="#f8e33f"/><stop offset="0.66700" stop-color="#f8e33f"/><stop offset="0.66700" stop-color="#fce63b"/><stop offset="0.67144" stop-color="#fce63b"/><stop offset="0.67144" stop-color="#f9e33e"/><stop offset="0.67686" stop-color="#f9e33e"/><stop offset="0.67686" stop-color="#f9e33e"/><stop offset="0.68056" stop-color="#f9e33e"/><stop offset="0.68056" stop-color="#fae43d"/><stop offset="0.68352" stop-color="#fae43d"/><stop offset="0.68352" stop-color="#f8e33f"/><stop offset="0.68722" stop-color="#f8e33f"/><stop offset="0.68722" stop-color="#fae43d"/><stop offset="0.69092" stop-color="#fae43d"/><stop offset="0.69092" stop-color="#f7e240"/><stop offset="0.69462" stop-color="#f7e240"/><stop offset="0.69462" stop-color="#fae53d"/><stop offset="0.70005" stop-color="#fae53d"/><stop offset="0.70005" stop-color="#fbe53c"/><stop offset="0.70548" stop-color="#fbe53c"/><stop offset="0.70548" stop-color="#fbe53c"/><stop offset="0.71090" stop-color="#fbe53c"/><stop offset="0.71090" stop-color="#fbe53c"/><stop offset="0.71386" stop-color="#fbe53c"/><stop offset="0.71386" stop-color="#f8e33f"/><stop offset="0.71830" stop-color="#f8e33f"/><stop offset="0.71830" stop-color="#fbe63b"/><stop offset="0.72274" stop-color="#fbe63b"/><stop offset="0.72274" stop-color="#f8e33f"/><stop offset="0.72644" stop-color="#f8e33f"/><stop offset="0.72644" stop-color="#fae43d"/><stop offset="0.73014" stop-color="#fae43d"/><stop offset="0.73014" stop-color="#f9e43d"/><stop offset="0.73310" stop-color="#f9e43d"/><stop offset="0.73310" stop-color="#f7e240"/><stop offset="0.73853" stop-color="#f7e240"/><stop offset="0.73853" stop-color="#f4df44"/><stop offset="0.74297" stop-color="#f4df44"/><stop offset="0.74297" stop-color="#f8e33f"/><stop offset="0.74667" stop-color="#f8e33f"/><stop offset="0.74667" stop-color="#fae43d"/><stop offset="0.75210" stop-color="#fae43d"/><stop offset="0.75210" stop-color="#f9e33e"/><stop offset="0.75654" stop-color="#f9e33e"/><stop offset="0.75654" stop-color="#fbe53b"/><stop offset="0.75950" stop-color="#fbe53b"/><stop offset="0.75950" stop-color="#f7e240"/><stop offset="0.76320" stop-color="#f7e240"/><stop offset="0.76320" stop-color="#f8e33f"/><stop offset="0.76764" stop-color="#f8e33f"/><stop offset="0.76764" stop-color="#f8e23f"/><stop offset="0.77208" stop-color="#f8e23f"/><stop offset="0.77208" stop-color="#fce63a"/><stop offset="0.77652" stop-color="#fce63a"/><stop offset="0.77652" stop-color="#fae43d"/><stop offset="0.78194" stop-color="#fae43d"/><stop offset="0.78194" stop-color="#f9e33e"/><stop offset="0.78392" stop-color="#f9e33e"/><stop offset="0.78392" stop-color="#042451"/><stop offset="0.78836" stop-color="#042451"/><stop offset="0.78836" stop-color="#0c2958"/><stop offset="0.79132" stop-color="#0c2958"/><stop offset="0.79132" stop-color="#052552"/><stop offset="0.79428" stop-color="#052552"/><stop offset="0.79428" stop-color="#062653"/><stop offset="0.79724" stop-color="#062653"/><stop offset="0.79724" stop-color="#082755"/><stop offset="0.80266" stop-color="#082755"/><stop offset="0.80266" stop-color="#092856"/><stop offset="0.80809" stop-color="#092856"/><stop offset="0.80809" stop-color="#092755"/><stop offset="0.81253" stop-color="#092755"/><stop offset="0.81253" stop-color="#092755"/><stop offset="0.81623" stop-color="#092755"/><stop offset="0.81623" stop-color="#022350"/><stop offset="0.81919" stop-color="#022350"/><stop offset="0.81919" stop-color="#072654"/><stop offset="0.82289" stop-color="#072654"/><stop offset="0.82289" stop-color="#082755"/><stop offset="0.82733" stop-color="#082755"/><stop offset="0.82733" stop-color="#062653"/><stop offset="0.83029" stop-color="#062653"/><stop offset="0.83029" stop-color="#102b5b"/><stop offset="0.83572" stop-color="#102b5b"/><stop offset="0.83572" stop-color="#0a2856"/><stop offset="0.83942" stop-color="#0a2856"/><stop offset="0.83942" stop-color="#072653"/><stop offset="0.84238" stop-color="#072653"/><stop offset="0.84238" stop-color="#052552"/><stop offset="0.84682" stop-color="#052552"/><stop offset="0.84682" stop-color="#072654"/><stop offset="0.85052" stop-color="#072654"/><stop offset="0.85052" stop-color="#032450"/><stop offset="0.85496" stop-color="#032450"/><stop offset="0.85496" stop-color="#032451"/><stop offset="0.85866" stop-color="#032451"/><stop offset="0.85866" stop-color="#00224e"/><stop offset="0.86162" stop-color="#00224e"/><stop offset="0.86162" stop-color="#0a2857"/><stop offset="0.86532" stop-color="#0a2857"/><stop offset="0.86532" stop-color="#042551"/><stop offset="0.86828" stop-color="#042551"/><stop offset="0.86828" stop-color="#092856"/><stop offset="0.87198" stop-color="#092856"/><stop offset="0.87198" stop-color="#072654"/><stop offset="0.87568" stop-color="#072654"/><stop offset="0.87568" stop-color="#022350"/><stop offset="0.87864" stop-color="#022350"/><stop offset="0.87864" stop-color="#092856"/><stop offset="0.88308" stop-color="#092856"/><stop offset="0.88308" stop-color="#0c2958"/><stop offset="0.88752" stop-color="#0c2958"/><stop offset="0.88752" stop-color="#00224e"/><stop offset="0.89122" stop-color="#00224e"/><stop offset="0.89122" stop-color="#072654"/><stop offset="0.89566" stop-color="#072654"/><stop offset="0.89566" stop-color="#062553"/><stop offset="0.90109" stop-color="#062553"/><stop offset="0.90109" stop-color="#052552"/><stop offset="0.90479" stop-color="#052552"/><stop offset="0.90479" stop-color="#082754"/><stop offset="0.90849" stop-color="#082754"/><stop offset="0.90849" stop-color="#092756"/><stop offset="0.91391" stop-color="#092756"/><stop offset="0.91391" stop-color="#062653"/><stop offset="0.91835" stop-color="#062653"/><stop offset="0.91835" stop-color="#032451"/><stop offset="0.92205" stop-color="#032451"/><stop offset="0.92205" stop-color="#072654"/><stop offset="0.92501" stop-color="#072654"/><stop offset="0.92501" stop-color="#042451"/><stop offset="0.92945" stop-color="#042451"/><stop offset="0.92945" stop-color="#072654"/><stop offset="0.93192" stop-color="#072654"/><stop offset="0.93192" stop-color="#4e576d"/><stop offset="0.93636" stop-color="#4e576d"/><stop offset="0.93636" stop-color="#747576"/><stop offset="0.94080" stop-color="#747576"/><stop offset="0.94080" stop-color="#51596e"/><stop offset="0.94623" stop-color="#51596e"/><stop offset="0.94623" stop-color="#878577"/><stop offset="0.94993" stop-color="#878577"/><stop offset="0.94993" stop-color="#938e77"/><stop offset="0.95437" stop-color="#938e77"/><stop offset="0.95437" stop-color="#696c72"/><stop offset="0.95979" stop-color="#696c72"/><stop offset="0.95979" stop-color="#31416b"/><stop offset="0.96226" stop-color="#31416b"/><stop offset="0.96226" stop-color="#cebe66"/><stop offset="0.96596" stop-color="#cebe66"/><stop offset="0.96596" stop-color="#d1c064"/><stop offset="0.96966" stop-color="#d1c064"/><stop offset="0.96966" stop-color="#d2c164"/><stop offset="0.97336" stop-color="#d2c164"/><stop offset="0.97336" stop-color="#d0c065"/><stop offset="0.97632" stop-color="#d0c065"/><stop offset="0.97632" stop-color="#cbbb68"/><stop offset="0.98175" stop-color="#cbbb68"/><stop offset="0.98175" stop-color="#d3c263"/><stop offset="0.98717" stop-color="#d3c263"/><stop offset="0.98717" stop-color="#c8b969"/><stop offset="0.99260" stop-color="#c8b969"/><stop offset="0.99260" stop-color="#c5b76a"/><stop offset="0.99803" stop-color="#c5b76a"/><stop offset="0.99803" stop-color="#bcaf6f"/><stop offset="1.00000" stop-color="#bcaf6f"/></linearGradient></defs>
<rect x="33.20" y="255.40" width="11.80" height="405.40" fill="url(#hm1)" stroke="none" stroke-width="0"/>
<defs><linearGradient id="hm2" gradientUnits="userSpaceOnUse" x1="0" y1="255.4" x2="0" y2="660.8"><stop offset="0.00000" stop-color="#f5e043"/><stop offset="0.00444" stop-color="#f5e043"/><stop offset="0.00444" stop-color="#ebd64f"/><stop offset="0.00740" stop-color="#ebd64f"/><stop offset="0.00740" stop-color="#ecd74e"/><stop offset="0.01110" stop-color="#ecd74e"/><stop offset="0.01110" stop-color="#ecd84d"/><stop offset="0.01653" stop-color="#ecd84d"/><stop offset="0.01653" stop-color="#f1dc47"/><stop offset="0.02023" stop-color="#f1dc47"/><stop offset="0.02023" stop-color="#e9d551"/><stop offset="0.02294" stop-color="#e9d551"/><stop offset="0.02294" stop-color="#4a546d"/><stop offset="0.02664" stop-color="#4a546d"/><stop offset="0.02664" stop-color="#4b556d"/><stop offset="0.03034" stop-color="#4b556d"/><stop offset="0.03034" stop-color="#48526d"/><stop offset="0.03404" stop-color="#48526d"/><stop offset="0.03404" stop-color="#46516c"/><stop offset="0.03774" stop-color="#46516c"/><stop offset="0.03774" stop-color="#424e6c"/><stop offset="0.04218" stop-color="#424e6c"/><stop offset="0.04218" stop-color="#404c6c"/><stop offset="0.04588" stop-color="#404c6c"/><stop offset="0.04588" stop-color="#45506c"/><stop offset="0.05032" stop-color="#45506c"/><stop offset="0.05032" stop-color="#4b546d"/><stop offset="0.05328" stop-color="#4b546d"/><stop offset="0.05328" stop-color="#50586d"/><stop offset="0.05772" stop-color="#50586d"/><stop offset="0.05772" stop-color="#4b556d"/><stop offset="0.06216" stop-color="#4b556d"/><stop offset="0.06216" stop-color="#4f586d"/><stop offset="0.06759" stop-color="#4f586d"/><stop offset="0.06759" stop-color="#434e6c"/><stop offset="0.07301" stop-color="#434e6c"/><stop offset="0.07301" stop-color="#48526d"/><stop offset="0.07745" stop-color="#48526d"/><stop offset="0.07745" stop-color="#414d6c"/><stop offset="0.08288" stop-color="#414d6c"/><stop offset="0.08288" stop-color="#404c6c"/><stop offset="0.08831" stop-color="#404c6c"/><stop offset="0.08831" stop-color="#49536d"/><stop offset="0.09275" stop-color="#49536d"/><stop offset="0.09275" stop-color="#49536d"/><stop offset="0.09817" stop-color="#49536d"/><stop offset="0.09817" stop-color="#3c4a6c"/><stop offset="0.10261" stop-color="#3c4a6c"/><stop offset="0.10261" stop-color="#424e6c"/><stop offset="0.10705" stop-color="#424e6c"/><stop offset="0.10705" stop-color="#49536d"/><stop offset="0.11075" stop-color="#49536d"/><stop offset="0.11075" stop-color="#48526d"/><stop offset="0.11445" stop-color="#48526d"/><stop offset="0.11445" stop-color="#46516c"/><stop offset="0.11889" stop-color="#46516c"/><stop offset="0.11889" stop-color="#50586d"/><stop offset="0.12333" stop-color="#50586d"/><stop offset="0.12333" stop-color="#49536d"/><stop offset="0.12630" stop-color="#49536d"/><stop offset="0.12630" stop-color="#3e4b6c"/><stop offset="0.13172" stop-color="#3e4b6c"/><stop offset="0.13172" stop-color="#47526d"/><stop offset="0.13542" stop-color="#47526d"/><stop offset="0.13542" stop-color="#4d566d"/><stop offset="0.13912" stop-color="#4d566d"/><stop offset="0.13912" stop-color="#424e6c"/><stop offset="0.14208" stop-color="#424e6c"/><stop offset="0.14208" stop-color="#49536d"/><stop offset="0.14504" stop-color="#49536d"/><stop offset="0.14504" stop-color="#404d6c"/><stop offset="0.14948" stop-color="#404d6c"/><stop offset="0.14948" stop-color="#3d4a6c"/><stop offset="0.15244" stop-color="#3d4a6c"/><stop offset="0.15244" stop-color="#4f586d"/><stop offset="0.15540" stop-color="#4f586d"/><stop offset="0.15540" stop-color="#414d6c"/><stop offset="0.15984" stop-color="#414d6c"/><stop offset="0.15984" stop-color="#4d566d"/><stop offset="0.16428" stop-color="#4d566d"/><stop offset="0.16428" stop-color="#434f6c"/><stop offset="0.16724" stop-color="#434f6c"/><stop offset="0.16724" stop-color="#444f6c"/><stop offset="0.17168" stop-color="#444f6c"/><stop offset="0.17168" stop-color="#47516d"/><stop offset="0.17612" stop-color="#47516d"/><stop offset="0.17612" stop-color="#3d4a6c"/><stop offset="0.17982" stop-color="#3d4a6c"/><stop offset="0.17982" stop-color="#45506c"/><stop offset="0.18352" stop-color="#45506c"/><stop offset="0.18352" stop-color="#47516d"/><stop offset="0.18895" stop-color="#47516d"/><stop offset="0.18895" stop-color="#49536d"/><stop offset="0.19191" stop-color="#49536d"/><stop offset="0.19191" stop-color="#4b556d"/><stop offset="0.19635" stop-color="#4b556d"/><stop offset="0.19635" stop-color="#46516d"/><stop offset="0.20079" stop-color="#46516d"/><stop offset="0.20079" stop-color="#4d566d"/><stop offset="0.20449" stop-color="#4d566d"/><stop offset="0.20449" stop-color="#46516d"/><stop offset="0.20745" stop-color="#46516d"/><stop offset="0.20745" stop-color="#3f4b6c"/><stop offset="0.21041" stop-color="#3f4b6c"/><stop offset="0.21041" stop-color="#47526d"/><stop offset="0.21411" stop-color="#47526d"/><stop offset="0.21411" stop-color="#48526d"/><stop offset="0.21954" stop-color="#48526d"/><stop offset="0.21954" stop-color="#48536d"/><stop offset="0.22250" stop-color="#48536d"/><stop offset="0.22250" stop-color="#424d6c"/><stop offset="0.22792" stop-color="#424d6c"/><stop offset="0.22792" stop-color="#424e6c"/><stop offset="0.23335" stop-color="#424e6c"/><stop offset="0.23335" stop-color="#3a486c"/><stop offset="0.23631" stop-color="#3a486c"/><stop offset="0.23631" stop-color="#38466c"/><stop offset="0.23927" stop-color="#38466c"/><stop offset="0.23927" stop-color="#46516d"/><stop offset="0.24297" stop-color="#46516d"/><stop offset="0.24297" stop-color="#38476c"/><stop offset="0.24667" stop-color="#38476c"/><stop offset="0.24667" stop-color="#424e6c"/><stop offset="0.24963" stop-color="#424e6c"/><stop offset="0.24963" stop-color="#38466c"/><stop offset="0.25506" stop-color="#38466c"/><stop offset="0.25506" stop-color="#444f6c"/><stop offset="0.25876" stop-color="#444f6c"/><stop offset="0.25876" stop-color="#3c496c"/><stop offset="0.26172" stop-color="#3c496c"/><stop offset="0.26172" stop-color="#4d566d"/><stop offset="0.26542" stop-color="#4d566d"/><stop offset="0.26542" stop-color="#3c496c"/><stop offset="0.26838" stop-color="#3c496c"/><stop offset="0.26838" stop-color="#444f6c"/><stop offset="0.27134" stop-color="#444f6c"/><stop offset="0.27134" stop-color="#3c496c"/><stop offset="0.27504" stop-color="#3c496c"/><stop offset="0.27504" stop-color="#49536d"/><stop offset="0.27800" stop-color="#49536d"/><stop offset="0.27800" stop-color="#3d4a6c"/><stop offset="0.28170" stop-color="#3d4a6c"/><stop offset="0.28170" stop-color="#37466c"/><stop offset="0.28540" stop-color="#37466c"/><stop offset="0.28540" stop-color="#48526d"/><stop offset="0.28984" stop-color="#48526d"/><stop offset="0.28984" stop-color="#4b556d"/><stop offset="0.29526" stop-color="#4b556d"/><stop offset="0.29526" stop-color="#47516d"/><stop offset="0.29822" stop-color="#47516d"/><stop offset="0.29822" stop-color="#434e6c"/><stop offset="0.30118" stop-color="#434e6c"/><stop offset="0.30118" stop-color="#4a546d"/><stop offset="0.30562" stop-color="#4a546d"/><stop offset="0.30562" stop-color="#4a546d"/><stop offset="0.30858" stop-color="#4a546d"/><stop offset="0.30858" stop-color="#3f4b6c"/><stop offset="0.31228" stop-color="#3f4b6c"/><stop offset="0.31228" stop-color="#48526d"/><stop offset="0.31598" stop-color="#48526d"/><stop offset="0.31598" stop-color="#444f6c"/><stop offset="0.32042" stop-color="#444f6c"/><stop offset="0.32042" stop-color="#45506c"/><stop offset="0.32486" stop-color="#45506c"/><stop offset="0.32486" stop-color="#47526d"/><stop offset="0.32782" stop-color="#47526d"/><stop offset="0.32782" stop-color="#47526d"/><stop offset="0.33078" stop-color="#47526d"/><stop offset="0.33078" stop-color="#37466c"/><stop offset="0.33448" stop-color="#37466c"/><stop offset="0.33448" stop-color="#4a546d"/><stop offset="0.33892" stop-color="#4a546d"/><stop offset="0.33892" stop-color="#50586d"/><stop offset="0.34435" stop-color="#50586d"/><stop offset="0.34435" stop-color="#424e6c"/><stop offset="0.34978" stop-color="#424e6c"/><stop offset="0.34978" stop-color="#525a6e"/><stop offset="0.35274" stop-color="#525a6e"/><stop offset="0.35274" stop-color="#49536d"/><stop offset="0.35570" stop-color="#49536d"/><stop offset="0.35570" stop-color="#4b546d"/><stop offset="0.35866" stop-color="#4b546d"/><stop offset="0.35866" stop-color="#48536d"/><stop offset="0.36236" stop-color="#48536d"/><stop offset="0.36236" stop-color="#4c566d"/><stop offset="0.36532" stop-color="#4c566d"/><stop offset="0.36532" stop-color="#44506c"/><stop offset="0.36976" stop-color="#44506c"/><stop offset="0.36976" stop-color="#45506c"/><stop offset="0.37519" stop-color="#45506c"/><stop offset="0.37519" stop-color="#46516c"/><stop offset="0.37963" stop-color="#46516c"/><stop offset="0.37963" stop-color="#3b496c"/><stop offset="0.38333" stop-color="#3b496c"/><stop offset="0.38333" stop-color="#3e4b6c"/><stop offset="0.38875" stop-color="#3e4b6c"/><stop offset="0.38875" stop-color="#47516d"/><stop offset="0.39418" stop-color="#47516d"/><stop offset="0.39418" stop-color="#3c496c"/><stop offset="0.39788" stop-color="#3c496c"/><stop offset="0.39788" stop-color="#49536d"/><stop offset="0.40158" stop-color="#49536d"/><stop offset="0.40158" stop-color="#3b486c"/><stop offset="0.40454" stop-color="#3b486c"/><stop offset="0.40454" stop-color="#4d576d"/><stop offset="0.40997" stop-color="#4d576d"/><stop offset="0.40997" stop-color="#3f4b6c"/><stop offset="0.41441" stop-color="#3f4b6c"/><stop offset="0.41441" stop-color="#404c6c"/><stop offset="0.41737" stop-color="#404c6c"/><stop offset="0.41737" stop-color="#444f6c"/><stop offset="0.42181" stop-color="#444f6c"/><stop offset="0.42181" stop-color="#46516d"/><stop offset="0.42551" stop-color="#46516d"/><stop offset="0.42551" stop-color="#4b556d"/><stop offset="0.42995" stop-color="#4b556d"/><stop offset="0.42995" stop-color="#51596e"/><stop offset="0.43365" stop-color="#51596e"/><stop offset="0.43365" stop-color="#47516d"/><stop offset="0.43735" stop-color="#47516d"/><stop offset="0.43735" stop-color="#555c6e"/><stop offset="0.44031" stop-color="#555c6e"/><stop offset="0.44031" stop-color="#3c496c"/><stop offset="0.44401" stop-color="#3c496c"/><stop offset="0.44401" stop-color="#3f4c6c"/><stop offset="0.44943" stop-color="#3f4c6c"/><stop offset="0.44943" stop-color="#49536d"/><stop offset="0.45313" stop-color="#49536d"/><stop offset="0.45313" stop-color="#4b556d"/><stop offset="0.45856" stop-color="#4b556d"/><stop offset="0.45856" stop-color="#3d4a6c"/><stop offset="0.46152" stop-color="#3d4a6c"/><stop offset="0.46152" stop-color="#39476c"/><stop offset="0.46522" stop-color="#39476c"/><stop offset="0.46522" stop-color="#3d4a6c"/><stop offset="0.47065" stop-color="#3d4a6c"/><stop offset="0.47065" stop-color="#45506c"/><stop offset="0.47361" stop-color="#45506c"/><stop offset="0.47361" stop-color="#3d4a6c"/><stop offset="0.47657" stop-color="#3d4a6c"/><stop offset="0.47657" stop-color="#45506c"/><stop offset="0.47953" stop-color="#45506c"/><stop offset="0.47953" stop-color="#414d6c"/><stop offset="0.48249" stop-color="#414d6c"/><stop offset="0.48249" stop-color="#38466c"/><stop offset="0.48619" stop-color="#38466c"/><stop offset="0.48619" stop-color="#47516d"/><stop offset="0.48915" stop-color="#47516d"/><stop offset="0.48915" stop-color="#49536d"/><stop offset="0.49211" stop-color="#49536d"/><stop offset="0.49211" stop-color="#3c4a6c"/><stop offset="0.49655" stop-color="#3c4a6c"/><stop offset="0.49655" stop-color="#444f6c"/><stop offset="0.50025" stop-color="#444f6c"/><stop offset="0.50025" stop-color="#404c6c"/><stop offset="0.50395" stop-color="#404c6c"/><stop offset="0.50395" stop-color="#51596e"/><stop offset="0.50839" stop-color="#51596e"/><stop offset="0.50839" stop-color="#48536d"/><stop offset="0.51209" stop-color="#48536d"/><stop offset="0.51209" stop-color="#4e576d"/><stop offset="0.51751" stop-color="#4e576d"/><stop offset="0.51751" stop-color="#45506c"/><stop offset="0.52294" stop-color="#45506c"/><stop offset="0.52294" stop-color="#45506c"/><stop offset="0.52664" stop-color="#45506c"/><stop offset="0.52664" stop-color="#4f586d"/><stop offset="0.53108" stop-color="#4f586d"/><stop offset="0.53108" stop-color="#47526d"/><stop offset="0.53552" stop-color="#47526d"/><stop offset="0.53552" stop-color="#48526d"/><stop offset="0.54095" stop-color="#48526d"/><stop offset="0.54095" stop-color="#44506c"/><stop offset="0.54637" stop-color="#44506c"/><stop offset="0.54637" stop-color="#525a6e"/><stop offset="0.55180" stop-color="#525a6e"/><stop offset="0.55180" stop-color="#38466c"/><stop offset="0.55476" stop-color="#38466c"/><stop offset="0.55476" stop-color="#36456c"/><stop offset="0.55846" stop-color="#36456c"/><stop offset="0.55846" stop-color="#3a486c"/><stop offset="0.56290" stop-color="#3a486c"/><stop offset="0.56290" stop-color="#4b556d"/><stop offset="0.56586" stop-color="#4b556d"/><stop offset="0.56586" stop-color="#50586d"/><stop offset="0.57030" stop-color="#50586d"/><stop offset="0.57030" stop-color="#4b556d"/><stop offset="0.57400" stop-color="#4b556d"/><stop offset="0.57400" stop-color="#545c6e"/><stop offset="0.57844" stop-color="#545c6e"/><stop offset="0.57844" stop-color="#3c4a6c"/><stop offset="0.58387" stop-color="#3c4a6c"/><stop offset="0.58387" stop-color="#45506c"/><stop offset="0.58757" stop-color="#45506c"/><stop offset="0.58757" stop-color="#414d6c"/><stop offset="0.59127" stop-color="#414d6c"/><stop offset="0.59127" stop-color="#49536d"/><stop offset="0.59423" stop-color="#49536d"/><stop offset="0.59423" stop-color="#51596e"/><stop offset="0.59867" stop-color="#51596e"/><stop offset="0.59867" stop-color="#3b486c"/><stop offset="0.60311" stop-color="#3b486c"/><stop offset="0.60311" stop-color="#49536d"/><stop offset="0.60607" stop-color="#49536d"/><stop offset="0.60607" stop-color="#3e4b6c"/><stop offset="0.60977" stop-color="#3e4b6c"/><stop offset="0.60977" stop-color="#45506c"/><stop offset="0.61421" stop-color="#45506c"/><stop offset="0.61421" stop-color="#4a546d"/><stop offset="0.61791" stop-color="#4a546d"/><stop offset="0.61791" stop-color="#4b556d"/><stop offset="0.62235" stop-color="#4b556d"/><stop offset="0.62235" stop-color="#3f4c6c"/><stop offset="0.62605" stop-color="#3f4c6c"/><stop offset="0.62605" stop-color="#4a546d"/><stop offset="0.62975" stop-color="#4a546d"/><stop offset="0.62975" stop-color="#3e4b6c"/><stop offset="0.63271" stop-color="#3e4b6c"/><stop offset="0.63271" stop-color="#4e576d"/><stop offset="0.63641" stop-color="#4e576d"/><stop offset="0.63641" stop-color="#535b6e"/><stop offset="0.64184" stop-color="#535b6e"/><stop offset="0.64184" stop-color="#4b556d"/><stop offset="0.64480" stop-color="#4b556d"/><stop offset="0.64480" stop-color="#545c6e"/><stop offset="0.65022" stop-color="#545c6e"/><stop offset="0.65022" stop-color="#44506c"/><stop offset="0.65565" stop-color="#44506c"/><stop offset="0.65565" stop-color="#49536d"/><stop offset="0.65861" stop-color="#49536d"/><stop offset="0.65861" stop-color="#4c556d"/><stop offset="0.66404" stop-color="#4c556d"/><stop offset="0.66404" stop-color="#4f576d"/><stop offset="0.66700" stop-color="#4f576d"/><stop offset="0.66700" stop-color="#434f6c"/><stop offset="0.67144" stop-color="#434f6c"/><stop offset="0.67144" stop-color="#4d576d"/><stop offset="0.67686" stop-color="#4d576d"/><stop offset="0.67686" stop-color="#49536d"/><stop offset="0.68056" stop-color="#49536d"/><stop offset="0.68056" stop-color="#34436c"/><stop offset="0.68352" stop-color="#34436c"/><stop offset="0.68352" stop-color="#46516d"/><stop offset="0.68722" stop-color="#46516d"/><stop offset="0.68722" stop-color="#444f6c"/><stop offset="0.69092" stop-color="#444f6c"/><stop offset="0.69092" stop-color="#46506c"/><stop offset="0.69462" stop-color="#46506c"/><stop offset="0.69462" stop-color="#3f4c6c"/><stop offset="0.70005" stop-color="#3f4c6c"/><stop offset="0.70005" stop-color="#47516d"/><stop offset="0.70548" stop-color="#47516d"/><stop offset="0.70548" stop-color="#4b556d"/><stop offset="0.71090" stop-color="#4b556d"/><stop offset="0.71090" stop-color="#585f6e"/><stop offset="0.71386" stop-color="#585f6e"/><stop offset="0.71386" stop-color="#404c6c"/><stop offset="0.71830" stop-color="#404c6c"/><stop offset="0.71830" stop-color="#4c556d"/><stop offset="0.72274" stop-color="#4c556d"/><stop offset="0.72274" stop-color="#48526d"/><stop offset="0.72644" stop-color="#48526d"/><stop offset="0.72644" stop-color="#44506c"/><stop offset="0.73014" stop-color="#44506c"/><stop offset="0.73014" stop-color="#48526d"/><stop offset="0.73310" stop-color="#48526d"/><stop offset="0.73310" stop-color="#49536d"/><stop offset="0.73853" stop-color="#49536d"/><stop offset="0.73853" stop-color="#4b556d"/><stop offset="0.74297" stop-color="#4b556d"/><stop offset="0.74297" stop-color="#3e4b6c"/><stop offset="0.74667" stop-color="#3e4b6c"/><stop offset="0.74667" stop-color="#404d6c"/><stop offset="0.75210" stop-color="#404d6c"/><stop offset="0.75210" stop-color="#47516d"/><stop offset="0.75654" stop-color="#47516d"/><stop offset="0.75654" stop-color="#49536d"/><stop offset="0.75950" stop-color="#49536d"/><stop offset="0.75950" stop-color="#4e576d"/><stop offset="0.76320" stop-color="#4e576d"/><stop offset="0.76320" stop-color="#4d566d"/><stop offset="0.76764" stop-color="#4d566d"/><stop offset="0.76764" stop-color="#434f6c"/><stop offset="0.77208" stop-color="#434f6c"/><stop offset="0.77208" stop-color="#4d566d"/><stop offset="0.77652" stop-color="#4d566d"/><stop offset="0.77652" stop-color="#46516c"/><stop offset="0.78194" stop-color="#46516c"/><stop offset="0.78194" stop-color="#46516d"/><stop offset="0.78392" stop-color="#46516d"/><stop offset="0.78392" stop-color="#bfb26d"/><stop offset="0.78836" stop-color="#bfb26d"/><stop offset="0.78836" stop-color="#b0a672"/><stop offset="0.79132" stop-color="#b0a672"/><stop offset="0.79132" stop-color="#a19a75"/><stop offset="0.79428" stop-color="#a19a75"/><stop offset="0.79428" stop-color="#918c77"/><stop offset="0.79724" stop-color="#918c77"/><stop offset="0.79724" stop-color="#959076"/><stop offset="0.80266" stop-color="#959076"/><stop offset="0.80266" stop-color="#d8c661"/><stop offset="0.80809" stop-color="#d8c661"/><stop offset="0.80809" stop-color="#9e9775"/><stop offset="0.81253" stop-color="#9e9775"/><stop offset="0.81253" stop-color="#a49c74"/><stop offset="0.81623" stop-color="#a49c74"/><stop offset="0.81623" stop-color="#b4a971"/><stop offset="0.81919" stop-color="#b4a971"/><stop offset="0.81919" stop-color="#c8b969"/><stop offset="0.82289" stop-color="#c8b969"/><stop offset="0.82289" stop-color="#c2b46c"/><stop offset="0.82733" stop-color="#c2b46c"/><stop offset="0.82733" stop-color="#bbae6f"/><stop offset="0.83029" stop-color="#bbae6f"/><stop offset="0.83029" stop-color="#b2a771"/><stop offset="0.83572" stop-color="#b2a771"/><stop offset="0.83572" stop-color="#a59d74"/><stop offset="0.83942" stop-color="#a59d74"/><stop offset="0.83942" stop-color="#a9a073"/><stop offset="0.84238" stop-color="#a9a073"/><stop offset="0.84238" stop-color="#b4a971"/><stop offset="0.84682" stop-color="#b4a971"/><stop offset="0.84682" stop-color="#bfb16e"/><stop offset="0.85052" stop-color="#bfb16e"/><stop offset="0.85052" stop-color="#aea472"/><stop offset="0.85496" stop-color="#aea472"/><stop offset="0.85496" stop-color="#b4a971"/><stop offset="0.85866" stop-color="#b4a971"/><stop offset="0.85866" stop-color="#c3b46c"/><stop offset="0.86162" stop-color="#c3b46c"/><stop offset="0.86162" stop-color="#999476"/><stop offset="0.86532" stop-color="#999476"/><stop offset="0.86532" stop-color="#c8b969"/><stop offset="0.86828" stop-color="#c8b969"/><stop offset="0.86828" stop-color="#afa572"/><stop offset="0.87198" stop-color="#afa572"/><stop offset="0.87198" stop-color="#bbae6f"/><stop offset="0.87568" stop-color="#bbae6f"/><stop offset="0.87568" stop-color="#a39b74"/><stop offset="0.87864" stop-color="#a39b74"/><stop offset="0.87864" stop-color="#bbae6f"/><stop offset="0.88308" stop-color="#bbae6f"/><stop offset="0.88308" stop-color="#bbae6f"/><stop offset="0.88752" stop-color="#bbae6f"/><stop offset="0.88752" stop-color="#a9a073"/><stop offset="0.89122" stop-color="#a9a073"/><stop offset="0.89122" stop-color="#b7ab70"/><stop offset="0.89566" stop-color="#b7ab70"/><stop offset="0.89566" stop-color="#c1b36d"/><stop offset="0.90109" stop-color="#c1b36d"/><stop offset="0.90109" stop-color="#b0a572"/><stop offset="0.90479" stop-color="#b0a572"/><stop offset="0.90479" stop-color="#cbbc67"/><stop offset="0.90849" stop-color="#cbbc67"/><stop offset="0.90849" stop-color="#b1a671"/><stop offset="0.91391" stop-color="#b1a671"/><stop offset="0.91391" stop-color="#b8ac70"/><stop offset="0.91835" stop-color="#b8ac70"/><stop offset="0.91835" stop-color="#bfb16e"/><stop offset="0.92205" stop-color="#bfb16e"/><stop offset="0.92205" stop-color="#baad6f"/><stop offset="0.92501" stop-color="#baad6f"/><stop offset="0.92501" stop-color="#b7ab70"/><stop offset="0.92945" stop-color="#b7ab70"/><stop offset="0.92945" stop-color="#baad6f"/><stop offset="0.93192" stop-color="#baad6f"/><stop offset="0.93192" stop-color="#162f60"/><stop offset="0.93636" stop-color="#162f60"/><stop offset="0.93636" stop-color="#283a6b"/><stop offset="0.94080" stop-color="#283a6b"/><stop offset="0.94080" stop-color="#01224e"/><stop offset="0.94623" stop-color="#01224e"/><stop offset="0.94623" stop-color="#424e6c"/><stop offset="0.94993" stop-color="#424e6c"/><stop offset="0.94993" stop-color="#2d3e6b"/><stop offset="0.95437" stop-color="#2d3e6b"/><stop offset="0.95437" stop-color="#122d5d"/><stop offset="0.95979" stop-color="#122d5d"/><stop offset="0.95979" stop-color="#0f2b5b"/><stop offset="0.96226" stop-color="#0f2b5b"/><stop offset="0.96226" stop-color="#b3a871"/><stop offset="0.96596" stop-color="#b3a871"/><stop offset="0.96596" stop-color="#b5a970"/><stop offset="0.96966" stop-color="#b5a970"/><stop offset="0.96966" stop-color="#bcaf6f"/><stop offset="0.97336" stop-color="#bcaf6f"/><stop offset="0.97336" stop-color="#a29a75"/><stop offset="0.97632" stop-color="#a29a75"/><stop offset="0.97632" stop-color="#a59d74"/><stop offset="0.98175" stop-color="#a59d74"/><stop offset="0.98175" stop-color="#bbae6f"/><stop offset="0.98717" stop-color="#bbae6f"/><stop offset="0.98717" stop-color="#aca272"/><stop offset="0.99260" stop-color="#aca272"/><stop offset="0.99260" stop-color="#b3a871"/><stop offset="0.99803" stop-color="#b3a871"/><stop offset="0.99803" stop-color="#aaa173"/><stop offset="1.00000" stop-color="#aaa173"/></linearGradient></defs>
<rect x="45.00" y="255.40" width="11.90" height="405.40" fill="url(#hm2)" stroke="none" stroke-width="0"/>
<path d="M27,255.2 V244.3 H45.3 V251.8 M39,255.2 V251.8 H51 V255.2" fill="none" stroke="#333" stroke-width="0.8"/>
<rect x="85.70" y="255.80" width="11.10" height="8.62" fill="#f8e240" stroke="#222" stroke-width="0.35"/>
<rect x="85.70" y="264.43" width="11.10" height="8.62" fill="#ebd74f" stroke="#222" stroke-width="0.35"/>
<rect x="85.70" y="273.05" width="11.10" height="8.62" fill="#decb5e" stroke="#222" stroke-width="0.35"/>
<rect x="85.70" y="281.68" width="11.10" height="8.62" fill="#d0c065" stroke="#222" stroke-width="0.35"/>
<rect x="85.70" y="290.30" width="11.10" height="8.62" fill="#c3b56c" stroke="#222" stroke-width="0.35"/>
<rect x="85.70" y="298.93" width="11.10" height="8.62" fill="#b5aa70" stroke="#222" stroke-width="0.35"/>
<rect x="85.70" y="307.55" width="11.10" height="8.62" fill="#a89f73" stroke="#222" stroke-width="0.35"/>
<rect x="85.70" y="316.18" width="11.10" height="8.62" fill="#9b9576" stroke="#222" stroke-width="0.35"/>
<rect x="85.70" y="324.80" width="11.10" height="8.62" fill="#8f8b77" stroke="#222" stroke-width="0.35"/>
<rect x="85.70" y="333.43" width="11.10" height="8.62" fill="#828078" stroke="#222" stroke-width="0.35"/>
<rect x="85.70" y="342.05" width="11.10" height="8.62" fill="#767676" stroke="#222" stroke-width="0.35"/>
<rect x="85.70" y="350.68" width="11.10" height="8.62" fill="#6b6d73" stroke="#222" stroke-width="0.35"/>
<rect x="85.70" y="359.30" width="11.10" height="8.62" fill="#5f646f" stroke="#222" stroke-width="0.35"/>
<rect x="85.70" y="367.93" width="11.10" height="8.62" fill="#535b6e" stroke="#222" stroke-width="0.35"/>
<rect x="85.70" y="376.55" width="11.10" height="8.62" fill="#47526d" stroke="#222" stroke-width="0.35"/>
<rect x="85.70" y="385.18" width="11.10" height="8.62" fill="#3b496c" stroke="#222" stroke-width="0.35"/>
<rect x="85.70" y="393.80" width="11.10" height="8.62" fill="#2f406b" stroke="#222" stroke-width="0.35"/>
<rect x="85.70" y="402.43" width="11.10" height="8.62" fill="#23376b" stroke="#222" stroke-width="0.35"/>
<rect x="85.70" y="411.05" width="11.10" height="8.62" fill="#152f5f" stroke="#222" stroke-width="0.35"/>
<rect x="85.70" y="419.68" width="11.10" height="8.62" fill="#072654" stroke="#222" stroke-width="0.35"/>
<rect x="85.70" y="255.80" width="11.10" height="172.50" fill="none" stroke="#222" stroke-width="0.5"/>
<text x="100.50" y="270.20" font-size="8.6" text-anchor="start" fill="#333">1.0</text>
<text x="100.50" y="306.90" font-size="8.6" text-anchor="start" fill="#333">0.5</text>
<text x="100.50" y="343.60" font-size="8.6" text-anchor="start" fill="#333">0</text>
<text x="100.50" y="380.30" font-size="8.6" text-anchor="start" fill="#333">−0.5</text>
<text x="100.50" y="417.00" font-size="8.6" text-anchor="start" fill="#333">−1.0</text>
<text x="76.30" y="252.00" font-size="9.6" text-anchor="start" fill="#231f20"><tspan font-style="italic">Z</tspan>-score</text>
<text x="30.00" y="681.50" font-size="9.7" text-anchor="middle" fill="#231f20" transform="rotate(-90 30.0 681.5)">Control</text>
<text x="42.60" y="679.30" font-size="9.7" text-anchor="middle" fill="#231f20" transform="rotate(-90 42.6 679.3)">db/db</text>
<text x="56.60" y="675.50" font-size="9.7" text-anchor="middle" fill="#231f20" transform="rotate(-90 56.6 675.5)">AZD</text>
<text x="5.00" y="750.50" font-size="13" text-anchor="start" fill="#000" font-weight="bold" stroke="#000" stroke-width="0.7">f</text>
<polyline points="13.30,919.10 13.90,918.89 14.50,919.01 15.10,918.84 15.70,918.83 16.30,919.22 16.90,919.26 17.50,918.68 18.10,919.08 18.70,919.10 19.30,918.56 19.90,918.93 20.50,918.67 21.10,918.93 21.70,918.81 22.30,919.15 22.90,918.81 23.50,918.65 24.10,918.89 24.70,918.73 25.30,918.78 25.90,919.21 26.50,918.72 27.10,918.84 27.70,919.04 28.30,919.23 28.90,918.64 29.50,918.91 30.10,918.74 30.70,918.63 31.30,918.74 31.90,918.60 32.50,918.96 33.10,918.68 33.70,918.93 34.30,918.58 34.90,918.62 35.50,919.16 36.10,919.14 36.70,919.08 37.30,918.55 37.90,918.92 38.50,918.79 39.10,919.01 39.70,918.87 40.30,918.95 40.90,918.97 41.50,918.81 42.10,918.81 42.70,918.58 43.30,918.74 43.90,918.56 44.50,918.61 45.10,918.51 45.70,918.74 46.30,919.09 46.90,918.60 47.50,918.53 48.10,918.57 48.70,918.80 49.30,918.70 49.90,919.05 50.50,918.61 51.10,918.79 51.70,918.99 52.30,919.14 52.90,918.58 53.50,918.49 54.10,919.12 54.70,918.62 55.30,918.89 55.90,919.06 56.50,918.96 57.10,918.63 57.70,918.55 58.30,919.13 58.90,918.73 59.50,919.12 60.10,918.65 60.70,918.92 61.30,918.53 61.90,918.46 62.50,918.78 63.10,918.44 63.70,918.92 64.30,919.07 64.90,918.71 65.50,919.10 66.10,918.98 66.70,918.83 67.30,918.68 67.90,919.00 68.50,919.07 69.10,918.49 69.70,918.87 70.30,918.42 70.90,918.46 71.50,918.82 72.10,918.75 72.70,918.71 73.30,918.61 73.90,918.64 74.50,918.66 75.10,918.61 75.70,918.38 76.30,918.68 76.90,918.73 77.50,918.52 78.10,918.85 78.70,918.80 79.30,918.32 79.90,918.63 80.50,918.61 81.10,918.97 81.70,918.68 82.30,918.56 82.90,918.94 83.50,918.52 84.10,918.50 84.70,918.89 85.30,918.48 85.90,918.59 86.50,918.43 87.10,918.64 87.70,918.39 88.30,918.35 88.90,918.84 89.50,918.80 90.10,918.36 90.70,918.14 91.30,918.63 91.90,918.47 92.50,918.36 93.10,918.54 93.70,918.49 94.30,918.51 94.90,918.45 95.50,918.27 96.10,918.46 96.70,918.39 97.30,918.09 97.90,918.59 98.50,918.19 99.10,918.05 99.70,918.32 100.30,918.35 100.90,917.92 101.50,918.28 102.10,918.29 102.70,918.08 103.30,917.86 103.90,918.24 104.50,918.05 105.10,918.00 105.70,917.60 106.30,917.83 106.90,917.49 107.50,917.92 108.10,917.74 108.70,917.46 109.30,917.23 109.90,917.46 110.50,917.54 110.75,917.58 111.00,917.26 111.25,917.46 111.50,917.00 111.75,916.94 112.00,917.36 112.25,917.25 112.50,916.84 112.75,916.91 113.00,916.75 113.25,917.02 113.50,917.12 113.75,916.96 114.00,916.55 114.25,916.87 114.50,916.76 114.75,916.65 115.00,916.58 115.25,916.52 115.50,916.10 115.75,916.56 116.00,916.59 116.25,915.86 116.50,915.82 116.75,915.66 117.00,915.96 117.25,915.50 117.50,915.42 117.75,915.80 118.00,915.33 118.25,915.14 118.50,915.14 118.75,915.10 119.00,915.12 119.25,914.93 119.50,914.85 119.75,914.78 120.00,914.23 120.25,914.23 120.50,913.65 120.75,913.94 121.00,913.08 121.25,912.94 121.50,912.46 121.75,912.13 122.00,911.74 122.25,911.54 122.50,911.45 122.75,910.40 123.00,910.20 123.25,909.42 123.50,908.39 123.75,907.59 124.00,906.65 124.25,905.11 124.50,903.98 124.75,902.61 125.00,900.89 125.25,898.42 125.50,896.40 125.75,893.66 126.00,891.28 126.25,888.68 126.50,885.92 126.75,883.66 127.00,882.80 127.25,882.01 127.50,882.58 127.75,884.21 128.00,886.39 128.25,889.50 128.50,891.69 128.75,894.07 129.00,896.99 129.25,898.93 129.50,900.78 129.75,902.21 130.00,903.67 130.25,904.82 130.50,905.64 130.75,907.06 131.00,907.78 131.25,908.39 131.50,908.96 131.75,909.49 132.00,909.29 132.25,909.74 132.50,910.60 132.75,910.59 133.00,910.96 133.25,911.16 133.50,911.31 133.75,911.25 134.00,911.40 134.25,911.65 134.50,911.82 134.75,911.76 135.00,911.89 135.25,911.55 135.50,911.36 135.75,911.47 136.00,911.51 136.25,911.20 136.50,910.75 136.75,910.19 137.00,909.58 137.25,909.28 137.50,908.32 137.75,907.76 138.00,907.28 138.25,906.90 138.50,906.68 138.75,906.69 139.00,907.25 139.25,907.50 139.50,908.08 139.75,908.55 140.00,908.53 140.25,908.47 140.50,908.81 140.75,908.32 141.00,907.94 141.25,907.08 141.50,906.34 141.75,905.86 142.00,904.45 142.25,903.33 142.50,902.37 142.75,900.85 143.00,899.78 143.25,898.21 143.50,897.63 143.75,897.33 144.00,897.81 144.25,898.81 144.50,900.01 144.75,901.54 145.00,903.29 145.25,904.31 145.50,905.94 145.75,906.91 146.00,907.40 146.25,908.69 146.50,909.32 146.75,909.87 147.00,909.78 147.25,910.65 147.50,911.07 147.75,910.75 148.00,911.45 148.25,911.10 148.50,911.34 148.75,911.31 149.00,911.28 149.25,911.56 149.50,911.41 149.75,911.91 150.00,911.35 150.25,911.45 150.50,911.21 150.75,911.52 151.00,910.93 151.25,910.63 151.50,911.05 151.75,910.66 152.00,910.25 152.25,909.80 152.50,909.92 152.75,909.64 153.00,909.23 153.25,908.59 153.50,908.06 153.75,907.83 154.00,907.33 154.25,906.73 154.50,906.12 154.75,905.37 155.00,904.82 155.25,903.66 155.50,902.37 155.75,901.68 156.00,900.23 156.25,899.27 156.50,897.35 156.75,895.54 157.00,893.59 157.25,891.39 157.50,888.75 157.75,885.54 158.00,881.75 158.25,878.01 158.50,873.01 158.75,866.56 159.00,859.27 159.25,850.95 159.50,840.68 159.75,828.15 160.00,813.96 160.25,797.10 160.50,778.58 160.75,759.26 161.00,742.21 161.25,729.96 161.50,725.14 161.75,729.48 162.00,742.27 162.25,759.25 162.50,778.53 162.75,796.81 163.00,813.83 163.25,828.64 163.50,841.04 163.75,851.52 164.00,859.83 164.25,867.10 164.50,873.27 164.75,878.20 165.00,882.51 165.25,885.84 165.50,889.41 165.75,891.51 166.00,894.21 166.25,896.17 166.50,898.05 166.75,899.37 167.00,900.79 167.25,902.22 167.50,903.39 167.75,904.23 168.00,905.04 168.25,906.18 168.50,906.70 168.75,907.22 169.00,908.19 169.25,908.92 169.50,909.45 169.75,909.59 170.00,910.07 170.25,910.29 170.50,910.74 170.75,911.53 171.00,911.90 171.25,912.16 171.50,912.50 171.75,912.41 172.00,912.56 172.25,912.77 172.50,913.45 172.75,913.23 173.00,913.82 173.25,913.93 173.50,913.89 173.75,914.51 174.35,914.88 174.95,914.68 175.55,915.35 176.15,915.55 176.75,915.62 177.35,915.76 177.95,916.40 178.55,916.33 179.15,916.40 179.75,916.49 180.35,916.79 180.95,916.62 181.55,916.44 182.15,916.89 182.75,916.82 183.35,917.13 183.95,917.02 184.55,916.70 185.15,917.00 185.75,916.31 186.35,916.09 186.95,916.39 187.55,915.52 188.15,915.73 188.75,915.47 189.35,915.73 189.95,916.43 190.55,916.53 191.15,916.86 191.75,917.01 192.35,917.58 192.95,917.40 193.55,917.38 194.15,917.68 194.75,917.86 195.35,918.23 195.95,918.02 196.55,918.17 197.15,917.96 197.75,918.03 198.35,918.14 198.95,918.45 199.55,918.15 200.15,918.19 200.75,918.53 201.35,918.06 201.95,918.25 202.55,918.64 203.15,918.09 203.75,918.66 204.35,918.55 204.95,918.29 205.55,918.39 206.15,918.44 206.75,918.39 207.35,918.53 207.95,918.65 208.55,918.76 209.15,918.84 209.75,918.40 210.35,918.39 210.95,918.54 211.55,918.42 212.15,918.69 212.75,918.77 213.35,918.69 213.95,918.36 214.55,918.95 215.15,918.63 215.75,918.82 216.35,918.46 216.95,918.76 217.55,918.78 218.15,918.74 218.75,918.65 219.35,918.49 219.95,918.79 220.55,918.45 221.15,918.97 221.75,918.87 222.35,918.99 222.95,918.99 223.55,918.53 224.15,918.57 224.75,918.95 225.35,918.96 225.95,918.80 226.55,918.58 227.15,918.53 227.75,918.58 228.35,918.70 228.95,919.01 229.55,918.84 230.15,918.99 230.75,918.76 231.35,918.73 231.95,918.99 232.55,918.96 233.15,918.59 233.75,919.12 234.35,918.58 234.95,918.52 235.55,918.49 236.15,918.89 236.75,918.77 237.35,918.75 237.95,918.72 238.55,918.48 239.15,918.69 239.75,918.96 240.35,918.57 240.95,918.84 241.55,918.76 242.15,918.67 242.75,919.18 243.35,918.65 243.95,918.72 244.55,918.85 245.15,918.82 245.75,918.87 246.35,919.06 246.95,918.83 247.55,919.17 248.15,918.85 248.75,918.75 249.35,918.89 249.95,918.81 250.55,918.54 251.15,918.59 251.75,919.12 252.35,918.66 252.95,918.78 253.55,919.18 254.15,918.97 254.75,919.06 255.35,919.17 255.95,918.85 256.55,918.57 257.15,919.00 257.75,918.62 258.35,918.74 258.95,919.14 259.55,918.63 260.15,918.81 260.75,918.59 261.35,918.73 261.95,918.72 262.55,919.00 263.15,918.67 263.75,918.59 264.35,918.64 264.95,918.94 265.55,918.71 266.15,918.91 266.75,919.17 267.35,919.22 267.95,919.19 268.55,919.11 269.15,919.14 269.75,918.90 270.35,918.76 270.95,918.88 271.55,918.96 272.15,918.80 272.75,919.04 273.35,918.93 273.95,918.73 274.55,918.98 275.15,919.13 275.75,918.63 276.35,918.76 276.95,919.01 277.55,919.00 278.15,918.89 278.75,918.85 279.35,919.11 279.95,919.27 280.55,919.12 281.15,918.72 281.75,919.17 282.35,918.95 282.95,919.13 283.55,919.13 284.15,919.15 284.75,918.99 285.35,919.16 285.95,919.26 286.55,919.20 287.15,919.16 287.75,918.93 288.35,919.24 288.95,919.26 289.55,918.96 290.15,918.99 290.75,918.79 291.35,919.24 291.95,919.00" fill="none" stroke="#f03c3c" stroke-width="0.85"/>
<line x1="13.30" y1="927.00" x2="292.00" y2="927.00" stroke="#888" stroke-width="0.9"/>
<rect x="290" y="925.3" width="3.2" height="3.2" fill="#fff" stroke="#555" stroke-width="0.6"/>
<line x1="16.60" y1="927.00" x2="16.60" y2="929.60" stroke="#888" stroke-width="0.8"/>
<text x="16.60" y="939.80" font-size="6.6" text-anchor="middle" fill="#333">4,000 × 10<tspan dy="-2.6" font-size="5">3</tspan></text>
<line x1="53.02" y1="927.00" x2="53.02" y2="929.60" stroke="#888" stroke-width="0.8"/>
<text x="53.02" y="939.80" font-size="6.6" text-anchor="middle" fill="#333">3,000 × 10<tspan dy="-2.6" font-size="5">3</tspan></text>
<line x1="89.44" y1="927.00" x2="89.44" y2="929.60" stroke="#888" stroke-width="0.8"/>
<text x="89.44" y="939.80" font-size="6.6" text-anchor="middle" fill="#333">2,000 × 10<tspan dy="-2.6" font-size="5">3</tspan></text>
<line x1="125.86" y1="927.00" x2="125.86" y2="929.60" stroke="#888" stroke-width="0.8"/>
<text x="125.86" y="939.80" font-size="6.6" text-anchor="middle" fill="#333">1,000</text>
<line x1="162.28" y1="927.00" x2="162.28" y2="929.60" stroke="#888" stroke-width="0.8"/>
<text x="162.28" y="939.80" font-size="6.6" text-anchor="middle" fill="#333">0</text>
<line x1="198.70" y1="927.00" x2="198.70" y2="929.60" stroke="#888" stroke-width="0.8"/>
<text x="198.70" y="939.80" font-size="6.6" text-anchor="middle" fill="#333">−1,000</text>
<line x1="235.12" y1="927.00" x2="235.12" y2="929.60" stroke="#888" stroke-width="0.8"/>
<text x="235.12" y="939.80" font-size="6.6" text-anchor="middle" fill="#333">−2,000 × 10<tspan dy="-2.6" font-size="5">3</tspan></text>
<line x1="271.54" y1="927.00" x2="271.54" y2="929.60" stroke="#888" stroke-width="0.8"/>
<text x="271.54" y="939.80" font-size="6.6" text-anchor="middle" fill="#333">−3,000 × 10<tspan dy="-2.6" font-size="5">3</tspan></text>
<text x="153.50" y="953.00" font-size="9.7" text-anchor="middle" fill="#231f20">Frequency (Hz)</text>
<text x="271.40" y="953.60" font-size="7.7" text-anchor="start" fill="#333">Ref.: −198.73</text>
<text x="165.40" y="737.00" font-size="9.6" text-anchor="start" fill="#231f20">[1-<tspan dy="-3" font-size="6">13</tspan><tspan dy="3">C]Pyruvate</tspan></text>
<line x1="172.80" y1="739.50" x2="166.30" y2="755.50" stroke="#333" stroke-width="0.6"/>
<text x="117.20" y="853.20" font-size="9.6" text-anchor="start" fill="#231f20">Alanine</text>
<line x1="141.50" y1="857.00" x2="144.00" y2="891.00" stroke="#333" stroke-width="0.6"/>
<text x="56.80" y="870.40" font-size="9.6" text-anchor="start" fill="#231f20">Pyruvate hydrate</text>
<line x1="133.00" y1="874.00" x2="137.20" y2="902.50" stroke="#333" stroke-width="0.6"/>
<text x="84.00" y="887.60" font-size="9.6" text-anchor="start" fill="#231f20">Lactate</text>
<line x1="118.50" y1="887.00" x2="122.00" y2="893.00" stroke="#333" stroke-width="0.6"/>
<text x="192.70" y="898.10" font-size="9.6" text-anchor="start" fill="#231f20">Bicarbonate</text>
<line x1="193.80" y1="902.00" x2="190.00" y2="911.50" stroke="#333" stroke-width="0.6"/>
<text x="204.30" y="750.80" font-size="13" text-anchor="start" fill="#000" font-weight="bold" stroke="#000" stroke-width="0.7">g</text>
<line x1="256.10" y1="772.00" x2="256.10" y2="861.00" stroke="#6a6a6a" stroke-width="0.8"/>
<line x1="256.10" y1="861.00" x2="360.70" y2="861.00" stroke="#6a6a6a" stroke-width="0.8"/>
<line x1="253.10" y1="861.00" x2="256.10" y2="861.00" stroke="#6a6a6a" stroke-width="0.8"/>
<text x="250.60" y="864.30" font-size="9.3" text-anchor="end" fill="#333">0</text>
<line x1="253.10" y1="839.40" x2="256.10" y2="839.40" stroke="#6a6a6a" stroke-width="0.8"/>
<text x="250.60" y="842.70" font-size="9.3" text-anchor="end" fill="#333">100</text>
<line x1="253.10" y1="817.80" x2="256.10" y2="817.80" stroke="#6a6a6a" stroke-width="0.8"/>
<text x="250.60" y="821.10" font-size="9.3" text-anchor="end" fill="#333">200</text>
<line x1="253.10" y1="796.20" x2="256.10" y2="796.20" stroke="#6a6a6a" stroke-width="0.8"/>
<text x="250.60" y="799.50" font-size="9.3" text-anchor="end" fill="#333">300</text>
<line x1="253.10" y1="774.60" x2="256.10" y2="774.60" stroke="#6a6a6a" stroke-width="0.8"/>
<text x="250.60" y="777.90" font-size="9.3" text-anchor="end" fill="#333">400</text>
<rect x="266.80" y="853.50" width="21.30" height="7.50" fill="#fff" stroke="#888" stroke-width="0.9"/>
<rect x="298.80" y="813.50" width="20.60" height="47.50" fill="#fff" stroke="#f8806f" stroke-width="0.9"/>
<rect x="330.30" y="845.00" width="21.40" height="16.00" fill="#fff" stroke="#7e98f6" stroke-width="0.9"/>
<circle cx="277.50" cy="845.50" r="1.6" fill="#fff" stroke="#444" stroke-width="0.6"/>
<circle cx="270.50" cy="855.80" r="1.6" fill="#fff" stroke="#444" stroke-width="0.6"/>
<circle cx="284.50" cy="855.80" r="1.6" fill="#fff" stroke="#444" stroke-width="0.6"/>
<circle cx="277.50" cy="852.50" r="1.6" fill="#fff" stroke="#444" stroke-width="0.6"/>
<circle cx="309.00" cy="799.00" r="1.6" fill="#f2290a" stroke="#3a0a00" stroke-width="0.6"/>
<circle cx="302.00" cy="818.60" r="1.6" fill="#f2290a" stroke="#3a0a00" stroke-width="0.6"/>
<circle cx="309.00" cy="817.60" r="1.6" fill="#f2290a" stroke="#3a0a00" stroke-width="0.6"/>
<circle cx="316.00" cy="818.60" r="1.6" fill="#f2290a" stroke="#3a0a00" stroke-width="0.6"/>
<circle cx="334.00" cy="844.90" r="1.6" fill="#0a2ee8" stroke="#001050" stroke-width="0.6"/>
<circle cx="339.00" cy="844.90" r="1.6" fill="#0a2ee8" stroke="#001050" stroke-width="0.6"/>
<circle cx="344.00" cy="844.90" r="1.6" fill="#0a2ee8" stroke="#001050" stroke-width="0.6"/>
<circle cx="350.00" cy="844.90" r="1.6" fill="#0a2ee8" stroke="#001050" stroke-width="0.6"/>
<circle cx="341.00" cy="850.20" r="1.6" fill="#0a2ee8" stroke="#001050" stroke-width="0.6"/>
<line x1="277.50" y1="849.50" x2="277.50" y2="857.50" stroke="#444" stroke-width="0.8"/>
<line x1="273.00" y1="849.50" x2="282.00" y2="849.50" stroke="#444" stroke-width="0.8"/>
<line x1="273.00" y1="857.50" x2="282.00" y2="857.50" stroke="#444" stroke-width="0.8"/>
<line x1="309.00" y1="808.50" x2="309.00" y2="818.60" stroke="#f2290a" stroke-width="0.8"/>
<line x1="304.50" y1="808.50" x2="313.50" y2="808.50" stroke="#f2290a" stroke-width="0.8"/>
<line x1="304.50" y1="818.60" x2="313.50" y2="818.60" stroke="#f2290a" stroke-width="0.8"/>
<text x="258.90" y="874.00" font-size="9.9" text-anchor="start" fill="#231f20" textLength="34.0" lengthAdjust="spacingAndGlyphs">Control</text>
<text x="295.20" y="874.00" font-size="9.9" text-anchor="start" fill="#231f20" font-style="italic" textLength="27.4" lengthAdjust="spacingAndGlyphs">db/db</text>
<text x="331.30" y="874.00" font-size="9.9" text-anchor="start" fill="#231f20" textLength="18.2" lengthAdjust="spacingAndGlyphs">AZD</text>
<line x1="277.40" y1="771.30" x2="340.70" y2="771.30" stroke="#2a2a2a" stroke-width="0.9"/>
<text x="309.05" y="767.30" font-size="7.8" text-anchor="middle" fill="#111">NS</text>
<line x1="277.40" y1="788.10" x2="307.60" y2="788.10" stroke="#2a2a2a" stroke-width="0.9"/>
<text x="292.50" y="788.90" font-size="13.5" text-anchor="middle" fill="#111" font-weight="bold" textLength="20.6" lengthAdjust="spacingAndGlyphs">****</text>
<line x1="310.80" y1="788.10" x2="340.70" y2="788.10" stroke="#2a2a2a" stroke-width="0.9"/>
<text x="325.75" y="788.90" font-size="13.5" text-anchor="middle" fill="#111" font-weight="bold" textLength="20.6" lengthAdjust="spacingAndGlyphs">****</text>
<text x="215.00" y="818.30" font-size="9.7" text-anchor="middle" fill="#231f20" transform="rotate(-90 215.0 818.3)" textLength="94.5" lengthAdjust="spacingAndGlyphs">Oxygen consumption</text>
<text x="226.30" y="820.30" font-size="9.7" text-anchor="middle" fill="#231f20" transform="rotate(-90 226.3 820.3)" textLength="86.3" lengthAdjust="spacingAndGlyphs">(cardionet flux rate)</text>
<text x="366.50" y="751.60" font-size="13" text-anchor="start" fill="#000" font-weight="bold" stroke="#000" stroke-width="0.7">h</text>
<line x1="417.80" y1="774.00" x2="417.80" y2="861.00" stroke="#6a6a6a" stroke-width="0.8"/>
<line x1="417.80" y1="861.00" x2="521.60" y2="861.00" stroke="#6a6a6a" stroke-width="0.8"/>
<line x1="414.80" y1="861.00" x2="417.80" y2="861.00" stroke="#6a6a6a" stroke-width="0.8"/>
<text x="412.30" y="864.30" font-size="9.3" text-anchor="end" fill="#333">0</text>
<line x1="414.80" y1="839.40" x2="417.80" y2="839.40" stroke="#6a6a6a" stroke-width="0.8"/>
<text x="412.30" y="842.70" font-size="9.3" text-anchor="end" fill="#333">0.2</text>
<line x1="414.80" y1="817.70" x2="417.80" y2="817.70" stroke="#6a6a6a" stroke-width="0.8"/>
<text x="412.30" y="821.00" font-size="9.3" text-anchor="end" fill="#333">0.4</text>
<line x1="414.80" y1="796.10" x2="417.80" y2="796.10" stroke="#6a6a6a" stroke-width="0.8"/>
<text x="412.30" y="799.40" font-size="9.3" text-anchor="end" fill="#333">0.6</text>
<line x1="414.80" y1="774.40" x2="417.80" y2="774.40" stroke="#6a6a6a" stroke-width="0.8"/>
<text x="412.30" y="777.70" font-size="9.3" text-anchor="end" fill="#333">0.8</text>
<rect x="428.20" y="818.40" width="21.10" height="42.60" fill="#fff" stroke="#444" stroke-width="0.9"/>
<rect x="460.00" y="829.00" width="21.60" height="32.00" fill="#fff" stroke="#f8806f" stroke-width="0.9"/>
<rect x="491.50" y="823.30" width="21.10" height="37.70" fill="#fff" stroke="#7e98f6" stroke-width="0.9"/>
<circle cx="438.90" cy="779.90" r="1.6" fill="#fff" stroke="#444" stroke-width="0.6"/>
<circle cx="438.90" cy="798.00" r="1.6" fill="#fff" stroke="#444" stroke-width="0.6"/>
<circle cx="438.90" cy="799.50" r="1.6" fill="#fff" stroke="#444" stroke-width="0.6"/>
<circle cx="438.90" cy="808.70" r="1.6" fill="#fff" stroke="#444" stroke-width="0.6"/>
<circle cx="438.90" cy="814.90" r="1.6" fill="#fff" stroke="#444" stroke-width="0.6"/>
<circle cx="438.90" cy="824.00" r="1.6" fill="#fff" stroke="#444" stroke-width="0.6"/>
<circle cx="438.90" cy="826.00" r="1.6" fill="#fff" stroke="#444" stroke-width="0.6"/>
<circle cx="438.90" cy="829.00" r="1.6" fill="#fff" stroke="#444" stroke-width="0.6"/>
<circle cx="438.90" cy="834.00" r="1.6" fill="#fff" stroke="#444" stroke-width="0.6"/>
<circle cx="438.90" cy="839.70" r="1.6" fill="#fff" stroke="#444" stroke-width="0.6"/>
<circle cx="438.90" cy="854.30" r="1.6" fill="#fff" stroke="#444" stroke-width="0.6"/>
<circle cx="470.40" cy="802.50" r="1.6" fill="#f2290a" stroke="#3a0a00" stroke-width="0.6"/>
<circle cx="470.40" cy="806.00" r="1.6" fill="#f2290a" stroke="#3a0a00" stroke-width="0.6"/>
<circle cx="470.40" cy="809.20" r="1.6" fill="#f2290a" stroke="#3a0a00" stroke-width="0.6"/>
<circle cx="470.40" cy="813.50" r="1.6" fill="#f2290a" stroke="#3a0a00" stroke-width="0.6"/>
<circle cx="470.40" cy="823.00" r="1.6" fill="#f2290a" stroke="#3a0a00" stroke-width="0.6"/>
<circle cx="470.40" cy="825.50" r="1.6" fill="#f2290a" stroke="#3a0a00" stroke-width="0.6"/>
<circle cx="470.40" cy="829.00" r="1.6" fill="#f2290a" stroke="#3a0a00" stroke-width="0.6"/>
<circle cx="470.40" cy="839.70" r="1.6" fill="#f2290a" stroke="#3a0a00" stroke-width="0.6"/>
<circle cx="470.40" cy="842.50" r="1.6" fill="#f2290a" stroke="#3a0a00" stroke-width="0.6"/>
<circle cx="470.40" cy="845.00" r="1.6" fill="#f2290a" stroke="#3a0a00" stroke-width="0.6"/>
<circle cx="470.40" cy="848.10" r="1.6" fill="#f2290a" stroke="#3a0a00" stroke-width="0.6"/>
<circle cx="502.20" cy="779.90" r="1.6" fill="#0a2ee8" stroke="#001050" stroke-width="0.6"/>
<circle cx="502.20" cy="786.10" r="1.6" fill="#0a2ee8" stroke="#001050" stroke-width="0.6"/>
<circle cx="502.20" cy="822.30" r="1.6" fill="#0a2ee8" stroke="#001050" stroke-width="0.6"/>
<circle cx="502.20" cy="824.50" r="1.6" fill="#0a2ee8" stroke="#001050" stroke-width="0.6"/>
<circle cx="502.20" cy="831.50" r="1.6" fill="#0a2ee8" stroke="#001050" stroke-width="0.6"/>
<circle cx="502.20" cy="841.00" r="1.6" fill="#0a2ee8" stroke="#001050" stroke-width="0.6"/>
<circle cx="502.20" cy="845.70" r="1.6" fill="#0a2ee8" stroke="#001050" stroke-width="0.6"/>
<line x1="438.90" y1="812.40" x2="438.90" y2="824.10" stroke="#444" stroke-width="0.8"/>
<line x1="434.40" y1="812.40" x2="443.40" y2="812.40" stroke="#444" stroke-width="0.8"/>
<line x1="434.40" y1="824.10" x2="443.40" y2="824.10" stroke="#444" stroke-width="0.8"/>
<line x1="470.40" y1="825.30" x2="470.40" y2="833.20" stroke="#f2290a" stroke-width="0.8"/>
<line x1="465.90" y1="825.30" x2="474.90" y2="825.30" stroke="#f2290a" stroke-width="0.8"/>
<line x1="465.90" y1="833.20" x2="474.90" y2="833.20" stroke="#f2290a" stroke-width="0.8"/>
<line x1="502.20" y1="816.10" x2="502.20" y2="830.30" stroke="#444" stroke-width="0.8"/>
<line x1="497.70" y1="816.10" x2="506.70" y2="816.10" stroke="#444" stroke-width="0.8"/>
<line x1="497.70" y1="830.30" x2="506.70" y2="830.30" stroke="#444" stroke-width="0.8"/>
<text x="421.60" y="874.00" font-size="9.9" text-anchor="start" fill="#231f20" textLength="34.6" lengthAdjust="spacingAndGlyphs">Control</text>
<text x="457.90" y="874.00" font-size="9.9" text-anchor="start" fill="#231f20" font-style="italic" textLength="27.0" lengthAdjust="spacingAndGlyphs">db/db</text>
<text x="492.80" y="874.00" font-size="9.9" text-anchor="start" fill="#231f20" textLength="18.3" lengthAdjust="spacingAndGlyphs">AZD</text>
<line x1="438.90" y1="750.40" x2="502.70" y2="750.40" stroke="#2a2a2a" stroke-width="0.9"/>
<text x="470.80" y="746.40" font-size="7.8" text-anchor="middle" fill="#111">NS</text>
<line x1="438.90" y1="769.50" x2="469.20" y2="769.50" stroke="#2a2a2a" stroke-width="0.9"/>
<text x="454.05" y="765.30" font-size="7.8" text-anchor="middle" fill="#111">NS</text>
<line x1="472.20" y1="769.50" x2="502.70" y2="769.50" stroke="#2a2a2a" stroke-width="0.9"/>
<text x="487.45" y="765.30" font-size="7.8" text-anchor="middle" fill="#111">NS</text>
<text x="379.90" y="817.80" font-size="9.7" text-anchor="middle" fill="#231f20" transform="rotate(-90 379.9 817.8)" textLength="86.9" lengthAdjust="spacingAndGlyphs">In vivo <tspan dy="-3" font-size="6.5">13</tspan><tspan dy="3">C DNP MRS</tspan></text>
<text x="391.30" y="817.50" font-size="9.7" text-anchor="middle" fill="#231f20" transform="rotate(-90 391.3 817.5)" textLength="71" lengthAdjust="spacingAndGlyphs">lactate/pyruvate</text>
<rect x="528.0" y="745.0" width="3.1" height="6.7" fill="#000"/><circle cx="529.55" cy="742.5" r="1.65" fill="#000"/>
<line x1="579.50" y1="774.00" x2="579.50" y2="861.30" stroke="#6a6a6a" stroke-width="0.8"/>
<line x1="579.50" y1="861.30" x2="683.30" y2="861.30" stroke="#6a6a6a" stroke-width="0.8"/>
<line x1="576.50" y1="861.30" x2="579.50" y2="861.30" stroke="#6a6a6a" stroke-width="0.8"/>
<text x="574.00" y="864.60" font-size="9.3" text-anchor="end" fill="#333">0</text>
<line x1="576.50" y1="832.30" x2="579.50" y2="832.30" stroke="#6a6a6a" stroke-width="0.8"/>
<text x="574.00" y="835.60" font-size="9.3" text-anchor="end" fill="#333">0.01</text>
<line x1="576.50" y1="803.30" x2="579.50" y2="803.30" stroke="#6a6a6a" stroke-width="0.8"/>
<text x="574.00" y="806.60" font-size="9.3" text-anchor="end" fill="#333">0.02</text>
<line x1="576.50" y1="774.40" x2="579.50" y2="774.40" stroke="#6a6a6a" stroke-width="0.8"/>
<text x="574.00" y="777.70" font-size="9.3" text-anchor="end" fill="#333">0.03</text>
<rect x="589.40" y="820.30" width="21.10" height="41.00" fill="#fff" stroke="#444" stroke-width="0.9"/>
<rect x="621.20" y="855.60" width="21.10" height="5.70" fill="#fff" stroke="#f8806f" stroke-width="0.9"/>
<rect x="653.20" y="826.60" width="21.10" height="34.70" fill="#fff" stroke="#7e98f6" stroke-width="0.9"/>
<circle cx="600.10" cy="784.40" r="1.6" fill="#fff" stroke="#444" stroke-width="0.6"/>
<circle cx="600.10" cy="797.50" r="1.6" fill="#fff" stroke="#444" stroke-width="0.6"/>
<circle cx="600.10" cy="799.30" r="1.6" fill="#fff" stroke="#444" stroke-width="0.6"/>
<circle cx="600.10" cy="814.60" r="1.6" fill="#fff" stroke="#444" stroke-width="0.6"/>
<circle cx="600.10" cy="818.00" r="1.6" fill="#fff" stroke="#444" stroke-width="0.6"/>
<circle cx="600.10" cy="821.50" r="1.6" fill="#fff" stroke="#444" stroke-width="0.6"/>
<circle cx="600.10" cy="824.50" r="1.6" fill="#fff" stroke="#444" stroke-width="0.6"/>
<circle cx="600.10" cy="839.50" r="1.6" fill="#fff" stroke="#444" stroke-width="0.6"/>
<circle cx="600.10" cy="846.90" r="1.6" fill="#fff" stroke="#444" stroke-width="0.6"/>
<circle cx="631.60" cy="841.00" r="1.6" fill="#f2290a" stroke="#3a0a00" stroke-width="0.6"/>
<circle cx="631.60" cy="844.50" r="1.6" fill="#f2290a" stroke="#3a0a00" stroke-width="0.6"/>
<circle cx="631.60" cy="848.00" r="1.6" fill="#f2290a" stroke="#3a0a00" stroke-width="0.6"/>
<circle cx="631.60" cy="851.00" r="1.6" fill="#f2290a" stroke="#3a0a00" stroke-width="0.6"/>
<circle cx="631.60" cy="853.50" r="1.6" fill="#f2290a" stroke="#3a0a00" stroke-width="0.6"/>
<circle cx="631.60" cy="856.00" r="1.6" fill="#f2290a" stroke="#3a0a00" stroke-width="0.6"/>
<circle cx="631.60" cy="858.50" r="1.6" fill="#f2290a" stroke="#3a0a00" stroke-width="0.6"/>
<circle cx="631.60" cy="861.00" r="1.6" fill="#f2290a" stroke="#3a0a00" stroke-width="0.6"/>
<circle cx="663.40" cy="779.90" r="1.6" fill="#0a2ee8" stroke="#001050" stroke-width="0.6"/>
<circle cx="663.40" cy="806.20" r="1.6" fill="#0a2ee8" stroke="#001050" stroke-width="0.6"/>
<circle cx="663.40" cy="835.20" r="1.6" fill="#0a2ee8" stroke="#001050" stroke-width="0.6"/>
<circle cx="663.40" cy="837.50" r="1.6" fill="#0a2ee8" stroke="#001050" stroke-width="0.6"/>
<circle cx="663.40" cy="842.70" r="1.6" fill="#0a2ee8" stroke="#001050" stroke-width="0.6"/>
<circle cx="663.40" cy="852.10" r="1.6" fill="#0a2ee8" stroke="#001050" stroke-width="0.6"/>
<line x1="600.10" y1="814.10" x2="600.10" y2="825.80" stroke="#444" stroke-width="0.8"/>
<line x1="595.60" y1="814.10" x2="604.60" y2="814.10" stroke="#444" stroke-width="0.8"/>
<line x1="595.60" y1="825.80" x2="604.60" y2="825.80" stroke="#444" stroke-width="0.8"/>
<line x1="631.60" y1="853.50" x2="631.60" y2="858.00" stroke="#f2290a" stroke-width="0.8"/>
<line x1="627.10" y1="853.50" x2="636.10" y2="853.50" stroke="#f2290a" stroke-width="0.8"/>
<line x1="627.10" y1="858.00" x2="636.10" y2="858.00" stroke="#f2290a" stroke-width="0.8"/>
<line x1="663.40" y1="814.90" x2="663.40" y2="837.20" stroke="#444" stroke-width="0.8"/>
<line x1="658.90" y1="814.90" x2="667.90" y2="814.90" stroke="#444" stroke-width="0.8"/>
<line x1="658.90" y1="837.20" x2="667.90" y2="837.20" stroke="#444" stroke-width="0.8"/>
<text x="582.70" y="874.00" font-size="9.9" text-anchor="start" fill="#231f20" textLength="33.9" lengthAdjust="spacingAndGlyphs">Control</text>
<text x="618.20" y="874.00" font-size="9.9" text-anchor="start" fill="#231f20" font-style="italic" textLength="28.2" lengthAdjust="spacingAndGlyphs">db/db</text>
<text x="654.00" y="874.00" font-size="9.9" text-anchor="start" fill="#231f20" textLength="18.1" lengthAdjust="spacingAndGlyphs">AZD</text>
<line x1="600.10" y1="752.40" x2="663.90" y2="752.40" stroke="#2a2a2a" stroke-width="0.9"/>
<text x="632.00" y="748.40" font-size="7.8" text-anchor="middle" fill="#111">NS</text>
<line x1="600.10" y1="769.50" x2="630.40" y2="769.50" stroke="#2a2a2a" stroke-width="0.9"/>
<text x="615.25" y="770.30" font-size="13.5" text-anchor="middle" fill="#111" font-weight="bold" textLength="16.1" lengthAdjust="spacingAndGlyphs">***</text>
<line x1="633.40" y1="769.50" x2="663.90" y2="769.50" stroke="#2a2a2a" stroke-width="0.9"/>
<text x="648.65" y="770.30" font-size="13.5" text-anchor="middle" fill="#111" font-weight="bold">*</text>
<text x="532.60" y="818.00" font-size="9.7" text-anchor="middle" fill="#231f20" transform="rotate(-90 532.6 818.0)" textLength="86.3" lengthAdjust="spacingAndGlyphs">In vivo <tspan dy="-3" font-size="6.5">13</tspan><tspan dy="3">C DNP MRS</tspan></text>
<text x="545.40" y="818.00" font-size="9.7" text-anchor="middle" fill="#231f20" transform="rotate(-90 545.4 818.0)" textLength="92.9" lengthAdjust="spacingAndGlyphs">bicarbonate/pyruvate</text>
<text transform="translate(188.0,474.3) scale(0.84,1)" font-size="4.9" text-anchor="middle" fill="#1a1a1a">Ribose-5P_cyto</text>
<text transform="translate(155.0,488.3) scale(0.84,1)" font-size="4.9" text-anchor="middle" fill="#1a1a1a">DHAP_cyto</text>
<text transform="translate(184.0,489.7) scale(0.84,1)" font-size="4.9" text-anchor="middle" fill="#1a1a1a">Ribulose-5P_cyto</text>
<text transform="translate(196.0,496.2) scale(0.84,1)" font-size="4.9" text-anchor="middle" fill="#1a1a1a">Xylulose-5P_cyto</text>
<text transform="translate(213.5,495.5) scale(0.84,1)" font-size="4.9" text-anchor="middle" fill="#1a1a1a">Ribulose-5P_cyto</text>
<text transform="translate(231.0,504.9) scale(0.84,1)" font-size="4.9" text-anchor="middle" fill="#1a1a1a">6-Phospho-D-gluconate_cyto</text>
<text transform="translate(207.0,512.7) scale(0.84,1)" font-size="4.9" text-anchor="middle" fill="#1a1a1a">NADPH_cyto</text>
<text transform="translate(180.0,502.2) scale(0.84,1)" font-size="4.9" text-anchor="middle" fill="#1a1a1a">NADP_cyto</text>
<text transform="translate(222.0,521.7) scale(0.84,1)" font-size="4.9" text-anchor="middle" fill="#1a1a1a">D-Glucono-1,5-lactone-6P_cyto</text>
<text transform="translate(249.5,524.1) scale(0.84,1)" font-size="4.9" text-anchor="middle" fill="#1a1a1a">Glycogenin_cyto</text>
<text transform="translate(229.5,532.3) scale(0.84,1)" font-size="4.9" text-anchor="middle" fill="#1a1a1a">Glucose-1P_cyto</text>
<text transform="translate(196.0,534.2) scale(0.84,1)" font-size="4.9" text-anchor="middle" fill="#1a1a1a">Glucose-6P_cyto</text>
<text transform="translate(252.5,536.4) scale(0.84,1)" font-size="4.9" text-anchor="middle" fill="#1a1a1a">Glycogenin-G4G7_cyto</text>
<text transform="translate(239.5,540.8) scale(0.84,1)" font-size="4.9" text-anchor="middle" fill="#1a1a1a">Glycogenin-G7_cyto</text>
<text transform="translate(250.5,547.3) scale(0.84,1)" font-size="4.9" text-anchor="middle" fill="#1a1a1a">Glycogenin-G4G4_cyto</text>
<text transform="translate(201.0,548.7) scale(0.84,1)" font-size="4.9" text-anchor="middle" fill="#1a1a1a">Glucose_cyto</text>
<text transform="translate(234.4,555.0) scale(0.84,1)" font-size="4.9" text-anchor="middle" fill="#1a1a1a">Glycogenin-G7G1_cyto</text>
<text transform="translate(201.5,563.0) scale(0.84,1)" font-size="4.9" text-anchor="middle" fill="#1a1a1a">Glucose_ext</text>
<text transform="translate(201.0,581.4) scale(0.84,1)" font-size="4.9" text-anchor="middle" fill="#1a1a1a">L-Lactate_ext</text>
<text transform="translate(170.2,563.4) scale(0.84,1)" font-size="4.9" text-anchor="middle" fill="#1a1a1a">Pyruvate_cyto</text>
<text transform="translate(170.7,576.6) scale(0.84,1)" font-size="4.9" text-anchor="middle" fill="#1a1a1a">L-Lactate_cyto</text>
<text transform="translate(172.2,589.7) scale(0.84,1)" font-size="4.9" text-anchor="middle" fill="#1a1a1a">Lactate_mito</text>
<text transform="translate(144.8,513.1) scale(0.84,1)" font-size="4.9" text-anchor="middle" fill="#1a1a1a">NADH_cyto</text>
<text transform="translate(120.5,525.0) scale(0.84,1)" font-size="4.9" text-anchor="middle" fill="#1a1a1a">3-Phosphonooxypyruvate_cyto</text>
<text transform="translate(135.6,540.1) scale(0.84,1)" font-size="4.9" text-anchor="middle" fill="#1a1a1a">AMP_cyto</text>
<text transform="translate(148.0,535.7) scale(0.84,1)" font-size="4.9" text-anchor="middle" fill="#1a1a1a">ADP_cyto</text>
<text transform="translate(152.0,546.7) scale(0.84,1)" font-size="4.9" text-anchor="middle" fill="#1a1a1a">Adenine_cyto</text>
<text transform="translate(141.5,564.1) scale(0.84,1)" font-size="4.9" text-anchor="middle" fill="#1a1a1a">ATP_cyto</text>
<text transform="translate(215.1,592.3) scale(0.84,1)" font-size="4.9" text-anchor="middle" fill="#1a1a1a">Acetate_cyto</text>
<text transform="translate(194.3,598.9) scale(0.84,1)" font-size="4.9" text-anchor="middle" fill="#1a1a1a">Acetate_mito</text>
<text transform="translate(206.9,604.4) scale(0.84,1)" font-size="4.9" text-anchor="middle" fill="#1a1a1a">Acetyl-CoA_mito</text>
<text transform="translate(185.5,619.7) scale(0.84,1)" font-size="4.9" text-anchor="middle" fill="#1a1a1a">Citrate_mito</text>
<text transform="translate(150.0,632.4) scale(0.84,1)" font-size="4.9" text-anchor="middle" fill="#1a1a1a">Malate_mito</text>
<text transform="translate(135.1,638.8) scale(0.84,1)" font-size="4.9" text-anchor="middle" fill="#1a1a1a">CoA_cyto</text>
<text transform="translate(148.3,645.5) scale(0.84,1)" font-size="4.9" text-anchor="middle" fill="#1a1a1a">Fumarate_mito</text>
<text transform="translate(154.3,659.6) scale(0.84,1)" font-size="4.9" text-anchor="middle" fill="#1a1a1a">Succinate_mito</text>
<text transform="translate(177.9,663.9) scale(0.84,1)" font-size="4.9" text-anchor="middle" fill="#1a1a1a">Succinyl-CoA_mito</text>
<text transform="translate(220.5,659.6) scale(0.84,1)" font-size="4.9" text-anchor="middle" fill="#1a1a1a">Aspartate_mito</text>
<text transform="translate(230.4,646.6) scale(0.84,1)" font-size="4.9" text-anchor="middle" fill="#1a1a1a">Glutamate_mito</text>
<text transform="translate(239.2,630.0) scale(0.84,1)" font-size="4.9" text-anchor="middle" fill="#1a1a1a">O2_cyto</text>
<text transform="translate(252.1,625.6) scale(0.84,1)" font-size="4.9" text-anchor="middle" fill="#1a1a1a">O2_ext</text>
<text transform="translate(187.7,677.7) scale(0.84,1)" font-size="4.9" text-anchor="middle" fill="#1a1a1a">Palmitoyl-CoA_mito</text>
<text transform="translate(190.0,628.7) scale(0.84,1)" font-size="4.9" text-anchor="middle" fill="#1a1a1a">2-Oxoglutarate_mito</text>
<text transform="translate(186.0,624.7) scale(0.84,1)" font-size="4.9" text-anchor="middle" fill="#1a1a1a">Isocitrate_mito</text>
<text transform="translate(175.0,635.7) scale(0.84,1)" font-size="4.9" text-anchor="middle" fill="#1a1a1a">Oxaloacetate_mito</text>
<text transform="translate(160.0,613.7) scale(0.84,1)" font-size="4.9" text-anchor="middle" fill="#1a1a1a">CoA_mito</text>
<text transform="translate(176.0,632.7) scale(0.84,1)" font-size="4.9" text-anchor="middle" fill="#1a1a1a">NADH_mito</text>
<text transform="translate(180.0,641.7) scale(0.84,1)" font-size="4.9" text-anchor="middle" fill="#1a1a1a">NAD_mito</text>
<text transform="translate(178.0,608.7) scale(0.84,1)" font-size="4.9" text-anchor="middle" fill="#1a1a1a">Acetyl-CoA_mito</text>
<path d="M145.2,505.3 C147.3,504.7 153.7,502.0 158.0,501.5 C162.3,501.0 169.0,502.1 171.2,502.2" fill="none" stroke="#454545" stroke-width="1.7" stroke-linejoin="round" stroke-linecap="round"/>
<path d="M171.2,502.2 C169.8,503.2 165.6,505.4 163.0,508.0 C160.4,510.6 158.1,513.8 155.8,517.5 C153.5,521.2 150.5,527.9 149.4,530.0" fill="none" stroke="#454545" stroke-width="1.1" stroke-linejoin="round" stroke-linecap="round"/>
<path d="M171.1,522.0 C169.2,523.7 163.2,528.0 159.7,532.4 C156.2,536.8 152.9,544.4 149.9,548.4 C146.9,552.4 142.9,555.1 141.5,556.4" fill="none" stroke="#454545" stroke-width="1.0" stroke-linejoin="round" stroke-linecap="round"/>
<path d="M149.4,530.0 C149.5,533.0 150.0,542.0 150.2,548.0 C150.4,554.0 150.5,561.1 150.8,566.0 C151.1,570.9 152.0,575.3 152.2,577.2" fill="none" stroke="#454545" stroke-width="4.8" stroke-linejoin="round" stroke-linecap="round"/>
<path d="M141.5,556.4 C141.7,557.8 142.0,562.3 142.8,565.0 C143.6,567.7 144.9,570.5 146.5,572.5 C148.1,574.5 151.2,576.4 152.2,577.2" fill="none" stroke="#454545" stroke-width="4.4" stroke-linejoin="round" stroke-linecap="round"/>
<path d="M152.2,577.2 C153.7,580.7 158.4,591.4 161.0,598.0 C163.6,604.6 166.2,611.7 168.0,617.0 C169.8,622.3 170.8,626.2 172.0,630.0 C173.2,633.8 174.5,638.3 175.0,640.0" fill="none" stroke="#454545" stroke-width="6.6" stroke-linejoin="round" stroke-linecap="round"/>
<path d="M183.0,637.5 C191.2,635.4 221.8,627.6 232.0,624.6 C242.2,621.6 240.7,621.0 244.0,619.8 C247.3,618.6 250.6,617.8 251.9,617.4" fill="none" stroke="#454545" stroke-width="5.8" stroke-linejoin="round" stroke-linecap="round"/>
<path d="M177.0,639.0 C175.0,639.7 169.2,641.7 165.0,643.0 C160.8,644.3 153.9,646.0 151.7,646.6" fill="none" stroke="#454545" stroke-width="1.6" stroke-linejoin="round" stroke-linecap="round"/>
<path d="M165.7,650.2 C168.1,650.8 175.6,652.7 180.3,653.6 C185.0,654.5 191.5,655.2 193.7,655.5" fill="none" stroke="#454545" stroke-width="1.3" stroke-linejoin="round" stroke-linecap="round"/>
<path d="M171.0,622.0 C171.7,623.7 173.3,629.5 175.0,632.0 C176.7,634.5 178.7,636.2 181.0,637.0 C183.3,637.8 187.7,636.6 189.0,636.5" fill="none" stroke="#454545" stroke-width="5.9399999999999995" stroke-linejoin="round" stroke-linecap="round"/>
<line x1="188.6" y1="465.8" x2="186.3" y2="474.0" stroke="#222" stroke-width="0.45"/>
<line x1="186.3" y1="474.0" x2="185.2" y2="481.6" stroke="#222" stroke-width="0.45"/>
<line x1="185.2" y1="481.6" x2="197.3" y2="481.0" stroke="#222" stroke-width="0.45"/>
<line x1="197.3" y1="481.0" x2="212.1" y2="487.6" stroke="#222" stroke-width="0.45"/>
<line x1="185.2" y1="481.6" x2="178.8" y2="486.3" stroke="#222" stroke-width="0.45"/>
<line x1="178.8" y1="486.3" x2="181.6" y2="493.5" stroke="#222" stroke-width="0.45"/>
<line x1="155.0" y1="480.0" x2="169.3" y2="482.9" stroke="#222" stroke-width="0.45"/>
<line x1="155.0" y1="480.0" x2="159.8" y2="488.2" stroke="#222" stroke-width="0.45"/>
<line x1="159.8" y1="488.2" x2="171.2" y2="495.4" stroke="#222" stroke-width="0.45"/>
<line x1="159.8" y1="488.2" x2="171.2" y2="502.2" stroke="#222" stroke-width="0.45"/>
<line x1="178.8" y1="486.3" x2="190.1" y2="489.2" stroke="#222" stroke-width="0.45"/>
<line x1="190.1" y1="489.2" x2="202.9" y2="489.2" stroke="#222" stroke-width="0.45"/>
<line x1="202.9" y1="489.2" x2="212.1" y2="487.6" stroke="#222" stroke-width="0.45"/>
<line x1="178.8" y1="486.3" x2="171.2" y2="502.2" stroke="#222" stroke-width="0.45"/>
<line x1="224.4" y1="496.8" x2="206.4" y2="499.0" stroke="#222" stroke-width="0.45"/>
<line x1="206.4" y1="499.0" x2="191.3" y2="503.0" stroke="#222" stroke-width="0.45"/>
<line x1="206.4" y1="499.0" x2="211.3" y2="504.3" stroke="#222" stroke-width="0.45"/>
<line x1="181.6" y1="493.5" x2="171.2" y2="502.2" stroke="#222" stroke-width="0.45"/>
<line x1="171.2" y1="495.4" x2="171.2" y2="502.2" stroke="#222" stroke-width="0.45"/>
<line x1="162.6" y1="499.0" x2="171.2" y2="502.2" stroke="#222" stroke-width="0.45"/>
<line x1="171.2" y1="502.2" x2="171.1" y2="508.9" stroke="#222" stroke-width="0.45"/>
<line x1="171.2" y1="502.2" x2="191.3" y2="503.0" stroke="#222" stroke-width="0.45"/>
<line x1="171.2" y1="502.2" x2="175.9" y2="508.7" stroke="#222" stroke-width="0.45"/>
<line x1="175.9" y1="508.7" x2="187.3" y2="510.6" stroke="#222" stroke-width="0.45"/>
<line x1="175.9" y1="508.7" x2="194.9" y2="516.7" stroke="#222" stroke-width="0.45"/>
<line x1="202.1" y1="506.3" x2="194.9" y2="516.7" stroke="#222" stroke-width="0.45"/>
<line x1="223.5" y1="503.7" x2="215.0" y2="513.9" stroke="#222" stroke-width="0.45"/>
<line x1="223.5" y1="503.7" x2="211.3" y2="504.3" stroke="#222" stroke-width="0.45"/>
<line x1="223.5" y1="503.7" x2="224.4" y2="496.8" stroke="#222" stroke-width="0.45"/>
<line x1="194.9" y1="516.7" x2="205.5" y2="515.2" stroke="#222" stroke-width="0.45"/>
<line x1="205.5" y1="515.2" x2="215.0" y2="513.9" stroke="#222" stroke-width="0.45"/>
<line x1="205.5" y1="515.2" x2="202.1" y2="506.3" stroke="#222" stroke-width="0.45"/>
<line x1="187.3" y1="510.6" x2="194.9" y2="516.7" stroke="#222" stroke-width="0.45"/>
<line x1="171.1" y1="508.9" x2="171.1" y2="515.4" stroke="#222" stroke-width="0.45"/>
<line x1="171.1" y1="515.4" x2="171.1" y2="522.0" stroke="#222" stroke-width="0.45"/>
<line x1="171.1" y1="522.0" x2="171.1" y2="528.4" stroke="#222" stroke-width="0.45"/>
<line x1="171.1" y1="528.4" x2="171.1" y2="535.1" stroke="#222" stroke-width="0.45"/>
<line x1="171.1" y1="535.1" x2="171.1" y2="541.8" stroke="#222" stroke-width="0.45"/>
<line x1="171.1" y1="541.8" x2="171.1" y2="548.3" stroke="#222" stroke-width="0.45"/>
<line x1="171.1" y1="548.3" x2="171.1" y2="555.0" stroke="#222" stroke-width="0.45"/>
<line x1="171.1" y1="555.0" x2="171.1" y2="561.1" stroke="#222" stroke-width="0.45"/>
<line x1="171.1" y1="561.1" x2="171.1" y2="568.1" stroke="#222" stroke-width="0.45"/>
<line x1="171.1" y1="568.1" x2="171.1" y2="574.6" stroke="#222" stroke-width="0.45"/>
<line x1="171.1" y1="574.6" x2="171.1" y2="581.0" stroke="#222" stroke-width="0.45"/>
<line x1="171.1" y1="581.0" x2="171.1" y2="587.5" stroke="#222" stroke-width="0.45"/>
<line x1="171.1" y1="587.5" x2="171.1" y2="594.4" stroke="#222" stroke-width="0.45"/>
<line x1="171.1" y1="594.4" x2="173.8" y2="599.6" stroke="#222" stroke-width="0.45"/>
<line x1="173.8" y1="599.6" x2="177.6" y2="603.6" stroke="#222" stroke-width="0.45"/>
<line x1="121.5" y1="517.2" x2="135.8" y2="514.8" stroke="#222" stroke-width="0.45"/>
<line x1="135.8" y1="514.8" x2="171.1" y2="522.0" stroke="#222" stroke-width="0.45"/>
<line x1="145.2" y1="505.3" x2="171.1" y2="522.0" stroke="#222" stroke-width="0.45"/>
<line x1="145.2" y1="505.3" x2="171.1" y2="561.1" stroke="#222" stroke-width="0.45"/>
<line x1="149.4" y1="530.0" x2="171.1" y2="522.0" stroke="#222" stroke-width="0.45"/>
<line x1="149.4" y1="530.0" x2="171.1" y2="535.1" stroke="#222" stroke-width="0.45"/>
<line x1="137.4" y1="531.8" x2="149.0" y2="539.2" stroke="#222" stroke-width="0.45"/>
<line x1="149.4" y1="530.0" x2="149.0" y2="539.2" stroke="#222" stroke-width="0.45"/>
<line x1="149.0" y1="539.2" x2="154.3" y2="539.1" stroke="#222" stroke-width="0.45"/>
<line x1="142.2" y1="543.4" x2="141.5" y2="556.4" stroke="#222" stroke-width="0.45"/>
<line x1="142.2" y1="543.4" x2="137.4" y2="531.8" stroke="#222" stroke-width="0.45"/>
<line x1="141.5" y1="556.4" x2="171.1" y2="548.3" stroke="#222" stroke-width="0.45"/>
<line x1="141.5" y1="556.4" x2="171.1" y2="535.1" stroke="#222" stroke-width="0.45"/>
<line x1="154.3" y1="539.1" x2="171.1" y2="548.3" stroke="#222" stroke-width="0.45"/>
<line x1="171.1" y1="535.1" x2="201.6" y2="533.2" stroke="#222" stroke-width="0.45"/>
<line x1="171.1" y1="535.1" x2="244.3" y2="530.6" stroke="#222" stroke-width="0.45"/>
<line x1="201.6" y1="525.6" x2="201.6" y2="533.2" stroke="#222" stroke-width="0.45"/>
<line x1="201.6" y1="533.2" x2="201.6" y2="540.4" stroke="#222" stroke-width="0.45"/>
<line x1="201.6" y1="540.4" x2="201.6" y2="547.9" stroke="#222" stroke-width="0.45"/>
<line x1="201.6" y1="547.9" x2="201.6" y2="555.3" stroke="#222" stroke-width="0.45"/>
<line x1="201.6" y1="525.6" x2="220.5" y2="521.1" stroke="#222" stroke-width="0.45"/>
<line x1="220.5" y1="521.1" x2="230.7" y2="524.7" stroke="#222" stroke-width="0.45"/>
<line x1="220.5" y1="521.1" x2="215.0" y2="513.9" stroke="#222" stroke-width="0.45"/>
<line x1="201.6" y1="540.4" x2="229.8" y2="538.2" stroke="#222" stroke-width="0.45"/>
<line x1="229.8" y1="538.2" x2="239.3" y2="532.3" stroke="#222" stroke-width="0.45"/>
<line x1="229.8" y1="538.2" x2="250.2" y2="539.4" stroke="#222" stroke-width="0.45"/>
<line x1="244.5" y1="521.8" x2="249.5" y2="515.5" stroke="#222" stroke-width="0.45"/>
<line x1="244.5" y1="521.8" x2="230.7" y2="524.7" stroke="#222" stroke-width="0.45"/>
<line x1="244.5" y1="521.8" x2="244.3" y2="530.6" stroke="#222" stroke-width="0.45"/>
<line x1="244.3" y1="530.6" x2="252.2" y2="528.4" stroke="#222" stroke-width="0.45"/>
<line x1="244.3" y1="530.6" x2="239.3" y2="532.3" stroke="#222" stroke-width="0.45"/>
<line x1="245.8" y1="545.0" x2="250.2" y2="539.4" stroke="#222" stroke-width="0.45"/>
<line x1="245.8" y1="545.0" x2="234.7" y2="547.3" stroke="#222" stroke-width="0.45"/>
<line x1="201.6" y1="533.2" x2="244.3" y2="530.6" stroke="#222" stroke-width="0.45"/>
<line x1="171.1" y1="568.1" x2="186.9" y2="571.6" stroke="#222" stroke-width="0.45"/>
<line x1="186.9" y1="571.6" x2="200.4" y2="573.6" stroke="#222" stroke-width="0.45"/>
<line x1="155.8" y1="517.5" x2="171.1" y2="522.0" stroke="#222" stroke-width="0.45"/>
<line x1="135.8" y1="514.8" x2="155.8" y2="517.5" stroke="#222" stroke-width="0.45"/>
<line x1="191.3" y1="503.0" x2="194.9" y2="516.7" stroke="#222" stroke-width="0.45"/>
<line x1="205.5" y1="515.2" x2="201.6" y2="525.6" stroke="#222" stroke-width="0.45"/>
<line x1="162.6" y1="499.0" x2="175.9" y2="508.7" stroke="#222" stroke-width="0.45"/>
<line x1="190.1" y1="489.2" x2="206.4" y2="499.0" stroke="#222" stroke-width="0.45"/>
<line x1="204.6" y1="585.2" x2="200.6" y2="588.1" stroke="#222" stroke-width="0.45"/>
<line x1="200.6" y1="588.1" x2="195.3" y2="591.4" stroke="#222" stroke-width="0.45"/>
<line x1="208.8" y1="596.3" x2="202.3" y2="600.9" stroke="#222" stroke-width="0.45"/>
<line x1="202.3" y1="600.9" x2="195.3" y2="591.4" stroke="#222" stroke-width="0.45"/>
<line x1="202.3" y1="600.9" x2="204.6" y2="623.2" stroke="#222" stroke-width="0.45"/>
<line x1="188.1" y1="608.5" x2="177.6" y2="603.6" stroke="#222" stroke-width="0.45"/>
<line x1="188.1" y1="608.5" x2="194.1" y2="611.5" stroke="#222" stroke-width="0.45"/>
<line x1="149.4" y1="606.5" x2="162.8" y2="613.1" stroke="#222" stroke-width="0.45"/>
<line x1="149.4" y1="606.5" x2="177.6" y2="603.6" stroke="#222" stroke-width="0.45"/>
<line x1="149.4" y1="606.5" x2="151.0" y2="624.7" stroke="#222" stroke-width="0.45"/>
<line x1="183.2" y1="614.7" x2="162.8" y2="613.1" stroke="#222" stroke-width="0.45"/>
<line x1="183.2" y1="614.7" x2="194.1" y2="611.5" stroke="#222" stroke-width="0.45"/>
<line x1="183.2" y1="614.7" x2="181.5" y2="619.3" stroke="#222" stroke-width="0.45"/>
<line x1="201.6" y1="618.4" x2="194.1" y2="611.5" stroke="#222" stroke-width="0.45"/>
<line x1="201.6" y1="618.4" x2="204.6" y2="623.2" stroke="#222" stroke-width="0.45"/>
<line x1="156.3" y1="620.3" x2="151.0" y2="624.7" stroke="#222" stroke-width="0.45"/>
<line x1="156.3" y1="620.3" x2="162.8" y2="613.1" stroke="#222" stroke-width="0.45"/>
<line x1="156.3" y1="620.3" x2="176.6" y2="622.0" stroke="#222" stroke-width="0.45"/>
<line x1="206.9" y1="629.1" x2="204.6" y2="623.2" stroke="#222" stroke-width="0.45"/>
<line x1="206.9" y1="629.1" x2="207.3" y2="635.7" stroke="#222" stroke-width="0.45"/>
<line x1="180.3" y1="630.8" x2="181.5" y2="619.3" stroke="#222" stroke-width="0.45"/>
<line x1="180.3" y1="630.8" x2="185.8" y2="632.8" stroke="#222" stroke-width="0.45"/>
<line x1="149.1" y1="631.5" x2="134.9" y2="630.8" stroke="#222" stroke-width="0.45"/>
<line x1="149.1" y1="631.5" x2="151.0" y2="624.7" stroke="#222" stroke-width="0.45"/>
<line x1="149.1" y1="631.5" x2="148.4" y2="637.0" stroke="#222" stroke-width="0.45"/>
<line x1="180.3" y1="636.1" x2="185.8" y2="632.8" stroke="#222" stroke-width="0.45"/>
<line x1="180.3" y1="636.1" x2="185.8" y2="638.5" stroke="#222" stroke-width="0.45"/>
<line x1="202.0" y1="640.7" x2="207.3" y2="635.7" stroke="#222" stroke-width="0.45"/>
<line x1="202.0" y1="640.7" x2="200.6" y2="646.3" stroke="#222" stroke-width="0.45"/>
<line x1="202.0" y1="640.7" x2="193.3" y2="636.4" stroke="#222" stroke-width="0.45"/>
<line x1="215.4" y1="645.3" x2="231.5" y2="638.6" stroke="#222" stroke-width="0.45"/>
<line x1="215.4" y1="645.3" x2="221.7" y2="651.3" stroke="#222" stroke-width="0.45"/>
<line x1="215.4" y1="645.3" x2="200.6" y2="646.3" stroke="#222" stroke-width="0.45"/>
<line x1="151.7" y1="646.6" x2="148.4" y2="637.0" stroke="#222" stroke-width="0.45"/>
<line x1="151.7" y1="646.6" x2="155.0" y2="651.9" stroke="#222" stroke-width="0.45"/>
<line x1="165.7" y1="650.2" x2="155.0" y2="651.9" stroke="#222" stroke-width="0.45"/>
<line x1="165.7" y1="650.2" x2="172.3" y2="654.5" stroke="#222" stroke-width="0.45"/>
<line x1="165.7" y1="650.2" x2="180.3" y2="653.6" stroke="#222" stroke-width="0.45"/>
<line x1="196.4" y1="650.6" x2="193.7" y2="655.5" stroke="#222" stroke-width="0.45"/>
<line x1="196.4" y1="650.6" x2="200.6" y2="646.3" stroke="#222" stroke-width="0.45"/>
<line x1="180.3" y1="653.6" x2="188.2" y2="670.0" stroke="#222" stroke-width="0.45"/>
<line x1="180.3" y1="653.6" x2="172.3" y2="654.5" stroke="#222" stroke-width="0.45"/>
<line x1="180.3" y1="653.6" x2="193.7" y2="655.5" stroke="#222" stroke-width="0.45"/>
<line x1="149.4" y1="606.5" x2="195.3" y2="591.4" stroke="#222" stroke-width="0.45"/>
<line x1="149.1" y1="631.5" x2="202.0" y2="640.7" stroke="#222" stroke-width="0.45"/>
<line x1="134.9" y1="630.8" x2="202.0" y2="640.7" stroke="#222" stroke-width="0.45"/>
<line x1="173.8" y1="599.6" x2="188.1" y2="608.5" stroke="#222" stroke-width="0.45"/>
<line x1="171.1" y1="594.4" x2="149.4" y2="606.5" stroke="#222" stroke-width="0.45"/>
<line x1="201.6" y1="618.4" x2="202.0" y2="640.7" stroke="#222" stroke-width="0.45"/>
<line x1="176.6" y1="638.7" x2="175.1" y2="642.3" stroke="#222" stroke-width="0.45"/>
<line x1="181.0" y1="639.4" x2="187.2" y2="644.4" stroke="#222" stroke-width="0.45"/>
<line x1="176.6" y1="638.7" x2="171.8" y2="624.9" stroke="#222" stroke-width="0.45"/>
<line x1="181.0" y1="639.4" x2="180.2" y2="645.0" stroke="#222" stroke-width="0.45"/>
<line x1="176.6" y1="622.0" x2="180.3" y2="630.8" stroke="#222" stroke-width="0.45"/>
<line x1="171.8" y1="624.9" x2="180.3" y2="636.1" stroke="#222" stroke-width="0.45"/>
<line x1="183.2" y1="614.7" x2="171.4" y2="628.9" stroke="#222" stroke-width="0.45"/>
<line x1="180.3" y1="636.1" x2="193.3" y2="636.4" stroke="#222" stroke-width="0.45"/>
<line x1="173.8" y1="599.6" x2="201.6" y2="618.4" stroke="#222" stroke-width="0.45"/>
<line x1="177.6" y1="603.6" x2="156.3" y2="620.3" stroke="#222" stroke-width="0.45"/>
<line x1="183.9" y1="642.4" x2="187.2" y2="644.4" stroke="#222" stroke-width="0.45"/>
<line x1="183.9" y1="642.4" x2="180.2" y2="645.0" stroke="#222" stroke-width="0.45"/>
<line x1="183.9" y1="642.4" x2="193.3" y2="636.4" stroke="#222" stroke-width="0.45"/>
<line x1="176.0" y1="633.0" x2="171.4" y2="628.9" stroke="#222" stroke-width="0.45"/>
<line x1="176.0" y1="633.0" x2="185.8" y2="632.8" stroke="#222" stroke-width="0.45"/>
<line x1="186.5" y1="628.0" x2="181.5" y2="619.3" stroke="#222" stroke-width="0.45"/>
<line x1="186.5" y1="628.0" x2="185.8" y2="632.8" stroke="#222" stroke-width="0.45"/>
<line x1="186.5" y1="628.0" x2="194.1" y2="611.5" stroke="#222" stroke-width="0.45"/>
<line x1="183.9" y1="642.4" x2="180.3" y2="653.6" stroke="#222" stroke-width="0.45"/>
<line x1="176.0" y1="633.0" x2="176.6" y2="622.0" stroke="#222" stroke-width="0.45"/>
<line x1="151.7" y1="646.6" x2="196.4" y2="650.6" stroke="#222" stroke-width="0.45"/>
<line x1="155.0" y1="651.9" x2="196.4" y2="650.6" stroke="#222" stroke-width="0.45"/>
<line x1="165.7" y1="650.2" x2="175.1" y2="642.3" stroke="#222" stroke-width="0.45"/>
<line x1="180.3" y1="653.6" x2="180.2" y2="645.0" stroke="#222" stroke-width="0.45"/>
<line x1="215.4" y1="645.3" x2="206.9" y2="629.1" stroke="#222" stroke-width="0.45"/>
<line x1="171.4" y1="628.9" x2="176.6" y2="638.7" stroke="#222" stroke-width="0.45"/>
<line x1="185.8" y1="638.5" x2="181.0" y2="639.4" stroke="#222" stroke-width="0.45"/>
<line x1="188.1" y1="608.5" x2="195.3" y2="591.4" stroke="#222" stroke-width="0.45"/>
<line x1="171.1" y1="581.0" x2="188.1" y2="608.5" stroke="#222" stroke-width="0.45"/>
<path d="M155.0,480.0 L169.3,482.9 L171.2,502.2" fill="none" stroke="#2a2a2a" stroke-width="0.8" stroke-linejoin="round" stroke-linecap="round"/>
<path d="M162.6,499.0 L171.2,502.2" fill="none" stroke="#2a2a2a" stroke-width="0.8" stroke-linejoin="round" stroke-linecap="round"/>
<path d="M159.8,488.2 L171.2,495.4" fill="none" stroke="#2a2a2a" stroke-width="0.6400000000000001" stroke-linejoin="round" stroke-linecap="round"/>
<path d="M149.4,606.5 L173.8,599.6" fill="none" stroke="#2a2a2a" stroke-width="0.8" stroke-linejoin="round" stroke-linecap="round"/>
<path d="M149.4,606.5 L162.8,613.1" fill="none" stroke="#2a2a2a" stroke-width="0.8" stroke-linejoin="round" stroke-linecap="round"/>
<path d="M149.4,606.5 L151.0,624.7" fill="none" stroke="#2a2a2a" stroke-width="0.8" stroke-linejoin="round" stroke-linecap="round"/>
<path d="M194.1,611.5 L201.6,618.4 L204.6,623.2 L206.9,629.1 L207.3,635.7" fill="none" stroke="#2a2a2a" stroke-width="0.8" stroke-linejoin="round" stroke-linecap="round"/>
<path d="M208.8,596.3 L202.3,600.9 L195.3,591.4" fill="none" stroke="#2a2a2a" stroke-width="0.8" stroke-linejoin="round" stroke-linecap="round"/>
<path d="M204.6,585.2 L200.6,588.1 L195.3,591.4 L188.1,608.5 L194.1,611.5" fill="none" stroke="#2a2a2a" stroke-width="0.7200000000000001" stroke-linejoin="round" stroke-linecap="round"/>
<path d="M151.0,624.7 L149.1,631.5 L148.4,637.0 L151.7,646.6 L155.0,651.9" fill="none" stroke="#2a2a2a" stroke-width="0.8" stroke-linejoin="round" stroke-linecap="round"/>
<path d="M155.0,651.9 L165.7,650.2" fill="none" stroke="#2a2a2a" stroke-width="0.8" stroke-linejoin="round" stroke-linecap="round"/>
<path d="M193.7,655.5 L196.4,650.6 L200.6,646.3 L202.0,640.7 L207.3,635.7" fill="none" stroke="#2a2a2a" stroke-width="0.7200000000000001" stroke-linejoin="round" stroke-linecap="round"/>
<path d="M162.8,613.1 L156.3,620.3 L151.0,624.7" fill="none" stroke="#2a2a2a" stroke-width="0.6400000000000001" stroke-linejoin="round" stroke-linecap="round"/>
<path d="M180.3,653.6 L188.2,670.0" fill="none" stroke="#2a2a2a" stroke-width="0.48" stroke-linejoin="round" stroke-linecap="round"/>
<path d="M171.2,502.2 L160.0,515.0 L149.4,530.0" fill="none" stroke="#2a2a2a" stroke-width="0.9" stroke-linejoin="round" stroke-linecap="round"/>
<path d="M171.1,535.1 L160.0,540.0 L141.5,556.4" fill="none" stroke="#2a2a2a" stroke-width="0.8" stroke-linejoin="round" stroke-linecap="round"/>
<circle cx="188.6" cy="465.8" r="2.55" fill="#5b8fd2"/>
<rect x="185.1" y="472.8" width="2.5" height="2.5" fill="#000"/>
<circle cx="185.2" cy="481.6" r="2.55" fill="#5b8fd2"/>
<rect x="196.1" y="479.8" width="2.5" height="2.5" fill="#000"/>
<circle cx="212.1" cy="487.6" r="2.55" fill="#5b8fd2"/>
<circle cx="155.0" cy="480.0" r="2.55" fill="#5b8fd2"/>
<rect x="168.1" y="481.6" width="2.5" height="2.5" fill="#000"/>
<rect x="158.6" y="486.9" width="2.5" height="2.5" fill="#000"/>
<rect x="177.6" y="485.1" width="2.5" height="2.5" fill="#000"/>
<circle cx="190.1" cy="489.2" r="2.55" fill="#5b8fd2"/>
<rect x="201.7" y="487.9" width="2.5" height="2.5" fill="#000"/>
<circle cx="181.6" cy="493.5" r="2.55" fill="#5b8fd2"/>
<circle cx="171.2" cy="495.4" r="2.55" fill="#5b8fd2"/>
<circle cx="162.6" cy="499.0" r="2.55" fill="#5b8fd2"/>
<circle cx="224.4" cy="496.8" r="2.55" fill="#5b8fd2"/>
<rect x="205.2" y="497.8" width="2.5" height="2.5" fill="#000"/>
<circle cx="191.3" cy="503.0" r="2.55" fill="#5b8fd2"/>
<rect x="169.9" y="500.9" width="2.5" height="2.5" fill="#000"/>
<circle cx="145.2" cy="505.3" r="2.55" fill="#5b8fd2"/>
<circle cx="211.3" cy="504.3" r="2.55" fill="#5b8fd2"/>
<circle cx="202.1" cy="506.3" r="2.55" fill="#5b8fd2"/>
<rect x="222.2" y="502.4" width="2.5" height="2.5" fill="#000"/>
<circle cx="171.1" cy="508.9" r="2.55" fill="#5b8fd2"/>
<rect x="174.7" y="507.4" width="2.5" height="2.5" fill="#000"/>
<circle cx="187.3" cy="510.6" r="2.55" fill="#5b8fd2"/>
<circle cx="215.0" cy="513.9" r="2.55" fill="#5b8fd2"/>
<circle cx="121.5" cy="517.2" r="2.55" fill="#5b8fd2"/>
<rect x="134.6" y="513.5" width="2.5" height="2.5" fill="#000"/>
<circle cx="155.8" cy="517.5" r="2.55" fill="#5b8fd2"/>
<circle cx="171.1" cy="515.4" r="2.55" fill="#5b8fd2"/>
<rect x="193.7" y="515.5" width="2.5" height="2.5" fill="#000"/>
<rect x="204.2" y="514.0" width="2.5" height="2.5" fill="#000"/>
<rect x="169.8" y="520.8" width="2.5" height="2.5" fill="#000"/>
<rect x="219.2" y="519.9" width="2.5" height="2.5" fill="#000"/>
<circle cx="201.6" cy="525.6" r="2.55" fill="#5b8fd2"/>
<circle cx="171.1" cy="528.4" r="2.55" fill="#5b8fd2"/>
<circle cx="137.4" cy="531.8" r="2.55" fill="#5b8fd2"/>
<circle cx="149.4" cy="530.0" r="2.55" fill="#5b8fd2"/>
<rect x="169.8" y="533.9" width="2.5" height="2.5" fill="#000"/>
<rect x="200.3" y="532.0" width="2.5" height="2.5" fill="#000"/>
<circle cx="154.3" cy="539.1" r="2.55" fill="#5b8fd2"/>
<rect x="147.8" y="538.0" width="2.5" height="2.5" fill="#000"/>
<circle cx="201.6" cy="540.4" r="2.55" fill="#5b8fd2"/>
<circle cx="171.1" cy="541.8" r="2.55" fill="#5b8fd2"/>
<rect x="140.9" y="542.1" width="2.5" height="2.5" fill="#000"/>
<rect x="169.8" y="547.0" width="2.5" height="2.5" fill="#000"/>
<rect x="200.3" y="546.6" width="2.5" height="2.5" fill="#000"/>
<circle cx="171.1" cy="555.0" r="2.55" fill="#5b8fd2"/>
<circle cx="141.5" cy="556.4" r="2.55" fill="#5b8fd2"/>
<circle cx="201.6" cy="555.3" r="2.55" fill="#d7242a"/>
<rect x="169.8" y="559.9" width="2.5" height="2.5" fill="#000"/>
<circle cx="171.1" cy="568.1" r="2.55" fill="#5b8fd2"/>
<rect x="185.7" y="570.4" width="2.5" height="2.5" fill="#000"/>
<circle cx="200.4" cy="573.6" r="2.55" fill="#d7242a"/>
<rect x="169.8" y="573.4" width="2.5" height="2.5" fill="#000"/>
<rect x="150.9" y="576.0" width="2.5" height="2.5" fill="#000"/>
<circle cx="249.5" cy="515.5" r="2.55" fill="#5b8fd2"/>
<circle cx="230.7" cy="524.7" r="2.55" fill="#5b8fd2"/>
<rect x="243.2" y="520.5" width="2.5" height="2.5" fill="#000"/>
<circle cx="252.2" cy="528.4" r="2.55" fill="#5b8fd2"/>
<rect x="243.1" y="529.4" width="2.5" height="2.5" fill="#000"/>
<circle cx="239.3" cy="532.3" r="2.55" fill="#5b8fd2"/>
<rect x="228.6" y="537.0" width="2.5" height="2.5" fill="#000"/>
<circle cx="250.2" cy="539.4" r="2.55" fill="#5b8fd2"/>
<rect x="244.6" y="543.8" width="2.5" height="2.5" fill="#000"/>
<circle cx="234.7" cy="547.3" r="2.55" fill="#5b8fd2"/>
<circle cx="171.1" cy="581.0" r="2.55" fill="#f59a23"/>
<rect x="169.8" y="586.2" width="2.5" height="2.5" fill="#000"/>
<circle cx="171.1" cy="594.4" r="2.55" fill="#f59a23"/>
<circle cx="204.6" cy="585.2" r="2.55" fill="#5b8fd2"/>
<rect x="199.3" y="586.9" width="2.5" height="2.5" fill="#000"/>
<circle cx="195.3" cy="591.4" r="2.55" fill="#f59a23"/>
<circle cx="208.8" cy="596.3" r="2.55" fill="#f59a23"/>
<rect x="172.6" y="598.4" width="2.5" height="2.5" fill="#000"/>
<rect x="201.1" y="599.6" width="2.5" height="2.5" fill="#000"/>
<circle cx="177.6" cy="603.6" r="2.55" fill="#f59a23"/>
<rect x="148.2" y="605.2" width="2.5" height="2.5" fill="#000"/>
<rect x="186.8" y="607.2" width="2.5" height="2.5" fill="#000"/>
<circle cx="194.1" cy="611.5" r="2.55" fill="#f59a23"/>
<circle cx="162.8" cy="613.1" r="2.55" fill="#f59a23"/>
<rect x="181.9" y="613.5" width="2.5" height="2.5" fill="#000"/>
<rect x="200.3" y="617.1" width="2.5" height="2.5" fill="#000"/>
<circle cx="181.5" cy="619.3" r="2.55" fill="#f59a23"/>
<rect x="155.1" y="619.0" width="2.5" height="2.5" fill="#000"/>
<circle cx="176.6" cy="622.0" r="2.55" fill="#f59a23"/>
<circle cx="204.6" cy="623.2" r="2.55" fill="#f59a23"/>
<circle cx="151.0" cy="624.7" r="2.55" fill="#f59a23"/>
<circle cx="171.8" cy="624.9" r="2.55" fill="#f59a23"/>
<circle cx="171.4" cy="628.9" r="2.55" fill="#f59a23"/>
<rect x="205.7" y="627.9" width="2.5" height="2.5" fill="#000"/>
<circle cx="134.9" cy="630.8" r="2.55" fill="#5b8fd2"/>
<rect x="179.1" y="629.5" width="2.5" height="2.5" fill="#000"/>
<rect x="147.8" y="630.2" width="2.5" height="2.5" fill="#000"/>
<circle cx="185.8" cy="632.8" r="2.55" fill="#f59a23"/>
<circle cx="193.3" cy="636.4" r="2.55" fill="#f59a23"/>
<rect x="179.1" y="634.9" width="2.5" height="2.5" fill="#000"/>
<circle cx="207.3" cy="635.7" r="2.55" fill="#f59a23"/>
<circle cx="148.4" cy="637.0" r="2.55" fill="#f59a23"/>
<circle cx="185.8" cy="638.5" r="2.55" fill="#f59a23"/>
<rect x="175.3" y="637.5" width="2.5" height="2.5" fill="#000"/>
<rect x="179.8" y="638.1" width="2.5" height="2.5" fill="#000"/>
<rect x="200.8" y="639.5" width="2.5" height="2.5" fill="#000"/>
<circle cx="239.2" cy="622.4" r="2.55" fill="#5b8fd2"/>
<circle cx="251.9" cy="617.4" r="2.55" fill="#d7242a"/>
<circle cx="231.5" cy="638.6" r="2.55" fill="#f59a23"/>
<circle cx="175.1" cy="642.3" r="2.55" fill="#f59a23"/>
<circle cx="187.2" cy="644.4" r="2.55" fill="#f59a23"/>
<circle cx="180.2" cy="645.0" r="2.55" fill="#f59a23"/>
<rect x="214.2" y="644.0" width="2.5" height="2.5" fill="#000"/>
<circle cx="200.6" cy="646.3" r="2.55" fill="#f59a23"/>
<rect x="150.4" y="645.4" width="2.5" height="2.5" fill="#000"/>
<rect x="164.4" y="649.0" width="2.5" height="2.5" fill="#000"/>
<rect x="195.2" y="649.4" width="2.5" height="2.5" fill="#000"/>
<circle cx="155.0" cy="651.9" r="2.55" fill="#f59a23"/>
<circle cx="221.7" cy="651.3" r="2.55" fill="#f59a23"/>
<rect x="179.1" y="652.4" width="2.5" height="2.5" fill="#000"/>
<circle cx="172.3" cy="654.5" r="2.55" fill="#f59a23"/>
<circle cx="193.7" cy="655.5" r="2.55" fill="#f59a23"/>
<circle cx="188.2" cy="670.0" r="2.55" fill="#f59a23"/>
<rect x="230.8" y="623.4" width="2.5" height="2.5" fill="#000"/>
<rect x="242.8" y="618.5" width="2.5" height="2.5" fill="#000"/>
<rect x="182.7" y="641.1" width="2.5" height="2.5" fill="#000"/>
<rect x="174.8" y="631.8" width="2.5" height="2.5" fill="#000"/>
<rect x="185.2" y="626.8" width="2.5" height="2.5" fill="#000"/>
<text x="183.20" y="692.40" font-size="10.3" text-anchor="middle" fill="#231f20">Control</text>
<text transform="translate(387.9,469.5) scale(0.84,1)" font-size="4.9" text-anchor="middle" fill="#1a1a1a">Ribose-5P_cyto</text>
<text transform="translate(354.2,483.7) scale(0.84,1)" font-size="4.9" text-anchor="middle" fill="#1a1a1a">DHAP_cyto</text>
<text transform="translate(383.8,485.2) scale(0.84,1)" font-size="4.9" text-anchor="middle" fill="#1a1a1a">Ribulose-5P_cyto</text>
<text transform="translate(396.1,491.8) scale(0.84,1)" font-size="4.9" text-anchor="middle" fill="#1a1a1a">Xylulose-5P_cyto</text>
<text transform="translate(414.0,491.1) scale(0.84,1)" font-size="4.9" text-anchor="middle" fill="#1a1a1a">Ribulose-5P_cyto</text>
<text transform="translate(431.9,500.6) scale(0.84,1)" font-size="4.9" text-anchor="middle" fill="#1a1a1a">6-Phospho-D-gluconate_cyto</text>
<text transform="translate(407.4,508.5) scale(0.84,1)" font-size="4.9" text-anchor="middle" fill="#1a1a1a">NADPH_cyto</text>
<text transform="translate(379.8,497.9) scale(0.84,1)" font-size="4.9" text-anchor="middle" fill="#1a1a1a">NADP_cyto</text>
<text transform="translate(422.7,517.7) scale(0.84,1)" font-size="4.9" text-anchor="middle" fill="#1a1a1a">D-Glucono-1,5-lactone-6P_cyto</text>
<text transform="translate(450.8,520.1) scale(0.84,1)" font-size="4.9" text-anchor="middle" fill="#1a1a1a">Glycogenin_cyto</text>
<text transform="translate(430.3,528.4) scale(0.84,1)" font-size="4.9" text-anchor="middle" fill="#1a1a1a">Glucose-1P_cyto</text>
<text transform="translate(396.1,530.4) scale(0.84,1)" font-size="4.9" text-anchor="middle" fill="#1a1a1a">Glucose-6P_cyto</text>
<text transform="translate(453.9,532.6) scale(0.84,1)" font-size="4.9" text-anchor="middle" fill="#1a1a1a">Glycogenin-G4G7_cyto</text>
<text transform="translate(440.6,537.1) scale(0.84,1)" font-size="4.9" text-anchor="middle" fill="#1a1a1a">Glycogenin-G7_cyto</text>
<text transform="translate(451.8,543.7) scale(0.84,1)" font-size="4.9" text-anchor="middle" fill="#1a1a1a">Glycogenin-G4G4_cyto</text>
<text transform="translate(401.2,545.1) scale(0.84,1)" font-size="4.9" text-anchor="middle" fill="#1a1a1a">Glucose_cyto</text>
<text transform="translate(435.4,551.5) scale(0.84,1)" font-size="4.9" text-anchor="middle" fill="#1a1a1a">Glycogenin-G7G1_cyto</text>
<text transform="translate(401.7,559.6) scale(0.84,1)" font-size="4.9" text-anchor="middle" fill="#1a1a1a">Glucose_ext</text>
<text transform="translate(401.2,578.3) scale(0.84,1)" font-size="4.9" text-anchor="middle" fill="#1a1a1a">L-Lactate_ext</text>
<text transform="translate(369.7,560.0) scale(0.84,1)" font-size="4.9" text-anchor="middle" fill="#1a1a1a">Pyruvate_cyto</text>
<text transform="translate(370.3,573.4) scale(0.84,1)" font-size="4.9" text-anchor="middle" fill="#1a1a1a">L-Lactate_cyto</text>
<text transform="translate(371.8,586.8) scale(0.84,1)" font-size="4.9" text-anchor="middle" fill="#1a1a1a">Lactate_mito</text>
<text transform="translate(343.8,508.9) scale(0.84,1)" font-size="4.9" text-anchor="middle" fill="#1a1a1a">NADH_cyto</text>
<text transform="translate(319.0,521.0) scale(0.84,1)" font-size="4.9" text-anchor="middle" fill="#1a1a1a">3-Phosphonooxypyruvate_cyto</text>
<text transform="translate(334.4,536.4) scale(0.84,1)" font-size="4.9" text-anchor="middle" fill="#1a1a1a">AMP_cyto</text>
<text transform="translate(347.1,531.9) scale(0.84,1)" font-size="4.9" text-anchor="middle" fill="#1a1a1a">ADP_cyto</text>
<text transform="translate(351.1,543.1) scale(0.84,1)" font-size="4.9" text-anchor="middle" fill="#1a1a1a">Adenine_cyto</text>
<text transform="translate(340.4,560.7) scale(0.84,1)" font-size="4.9" text-anchor="middle" fill="#1a1a1a">ATP_cyto</text>
<text transform="translate(415.6,589.4) scale(0.84,1)" font-size="4.9" text-anchor="middle" fill="#1a1a1a">Acetate_cyto</text>
<text transform="translate(394.4,596.1) scale(0.84,1)" font-size="4.9" text-anchor="middle" fill="#1a1a1a">Acetate_mito</text>
<text transform="translate(407.3,601.7) scale(0.84,1)" font-size="4.9" text-anchor="middle" fill="#1a1a1a">Acetyl-CoA_mito</text>
<text transform="translate(385.4,617.2) scale(0.84,1)" font-size="4.9" text-anchor="middle" fill="#1a1a1a">Citrate_mito</text>
<text transform="translate(349.1,630.1) scale(0.84,1)" font-size="4.9" text-anchor="middle" fill="#1a1a1a">Malate_mito</text>
<text transform="translate(333.9,636.6) scale(0.84,1)" font-size="4.9" text-anchor="middle" fill="#1a1a1a">CoA_cyto</text>
<text transform="translate(347.4,643.5) scale(0.84,1)" font-size="4.9" text-anchor="middle" fill="#1a1a1a">Fumarate_mito</text>
<text transform="translate(353.5,657.8) scale(0.84,1)" font-size="4.9" text-anchor="middle" fill="#1a1a1a">Succinate_mito</text>
<text transform="translate(377.6,662.1) scale(0.84,1)" font-size="4.9" text-anchor="middle" fill="#1a1a1a">Succinyl-CoA_mito</text>
<text transform="translate(421.2,657.8) scale(0.84,1)" font-size="4.9" text-anchor="middle" fill="#1a1a1a">Aspartate_mito</text>
<text transform="translate(431.3,644.6) scale(0.84,1)" font-size="4.9" text-anchor="middle" fill="#1a1a1a">Glutamate_mito</text>
<text transform="translate(440.3,627.7) scale(0.84,1)" font-size="4.9" text-anchor="middle" fill="#1a1a1a">O2_cyto</text>
<text transform="translate(453.4,623.2) scale(0.84,1)" font-size="4.9" text-anchor="middle" fill="#1a1a1a">O2_ext</text>
<text transform="translate(387.6,676.2) scale(0.84,1)" font-size="4.9" text-anchor="middle" fill="#1a1a1a">Palmitoyl-CoA_mito</text>
<text transform="translate(390.0,626.4) scale(0.84,1)" font-size="4.9" text-anchor="middle" fill="#1a1a1a">2-Oxoglutarate_mito</text>
<text transform="translate(385.9,622.3) scale(0.84,1)" font-size="4.9" text-anchor="middle" fill="#1a1a1a">Isocitrate_mito</text>
<text transform="translate(374.6,633.5) scale(0.84,1)" font-size="4.9" text-anchor="middle" fill="#1a1a1a">Oxaloacetate_mito</text>
<text transform="translate(359.3,611.1) scale(0.84,1)" font-size="4.9" text-anchor="middle" fill="#1a1a1a">CoA_mito</text>
<text transform="translate(375.7,630.4) scale(0.84,1)" font-size="4.9" text-anchor="middle" fill="#1a1a1a">NADH_mito</text>
<text transform="translate(379.8,639.6) scale(0.84,1)" font-size="4.9" text-anchor="middle" fill="#1a1a1a">NAD_mito</text>
<text transform="translate(377.7,606.1) scale(0.84,1)" font-size="4.9" text-anchor="middle" fill="#1a1a1a">Acetyl-CoA_mito</text>
<path d="M344.2,501.0 C346.4,500.4 352.8,497.7 357.3,497.2 C361.7,496.6 368.5,497.8 370.8,497.9" fill="none" stroke="#454545" stroke-width="3.2" stroke-linejoin="round" stroke-linecap="round"/>
<path d="M370.8,497.9 C369.4,498.9 365.0,501.2 362.4,503.8 C359.8,506.4 357.3,509.7 355.0,513.4 C352.7,517.2 349.6,524.0 348.5,526.1" fill="none" stroke="#454545" stroke-width="3.4" stroke-linejoin="round" stroke-linecap="round"/>
<path d="M344.2,501.0 C345.2,503.5 348.1,511.4 350.1,516.0 C352.2,520.6 354.4,524.4 356.6,528.6 C358.7,532.8 360.4,537.3 362.8,541.2 C365.1,545.0 369.4,549.8 370.7,551.5" fill="none" stroke="#454545" stroke-width="3.0" stroke-linejoin="round" stroke-linecap="round"/>
<path d="M370.7,518.0 C368.7,519.8 362.6,524.1 359.0,528.6 C355.4,533.0 352.1,540.8 349.0,544.8 C345.9,548.9 341.8,551.6 340.4,553.0" fill="none" stroke="#454545" stroke-width="3.8" stroke-linejoin="round" stroke-linecap="round"/>
<path d="M348.5,526.1 C348.6,529.2 349.1,538.3 349.3,544.4 C349.5,550.5 349.6,557.8 349.9,562.7 C350.3,567.7 351.1,572.2 351.3,574.1" fill="none" stroke="#454545" stroke-width="7.0" stroke-linejoin="round" stroke-linecap="round"/>
<path d="M340.4,553.0 C340.6,554.4 340.9,559.0 341.7,561.7 C342.6,564.4 343.9,567.2 345.5,569.3 C347.1,571.4 350.4,573.3 351.3,574.1" fill="none" stroke="#454545" stroke-width="6.0" stroke-linejoin="round" stroke-linecap="round"/>
<path d="M351.3,574.1 C352.8,577.6 357.7,588.5 360.3,595.2 C363.0,602.0 365.6,609.1 367.5,614.5 C369.4,619.9 370.4,623.8 371.6,627.7 C372.8,631.6 374.1,636.2 374.6,637.9" fill="none" stroke="#454545" stroke-width="9.0" stroke-linejoin="round" stroke-linecap="round"/>
<path d="M382.8,635.4 C391.2,633.2 422.5,625.2 432.9,622.2 C443.3,619.2 441.8,618.6 445.2,617.4 C448.6,616.1 451.9,615.3 453.2,614.9" fill="none" stroke="#454545" stroke-width="6.8" stroke-linejoin="round" stroke-linecap="round"/>
<path d="M376.7,636.9 C374.7,637.6 368.7,639.7 364.4,640.9 C360.1,642.2 353.1,644.0 350.8,644.6" fill="none" stroke="#454545" stroke-width="3.8" stroke-linejoin="round" stroke-linecap="round"/>
<path d="M365.1,648.3 C367.6,648.8 375.3,650.8 380.1,651.7 C384.8,652.6 391.5,653.3 393.8,653.6" fill="none" stroke="#454545" stroke-width="3.0" stroke-linejoin="round" stroke-linecap="round"/>
<path d="M373.4,594.2 C373.6,596.7 374.3,603.9 374.6,609.4 C375.0,615.0 375.5,624.7 375.7,627.7" fill="none" stroke="#454545" stroke-width="2.8" stroke-linejoin="round" stroke-linecap="round"/>
<path d="M370.6,619.6 C371.2,621.3 372.9,627.2 374.6,629.8 C376.4,632.3 378.4,634.1 380.8,634.8 C383.2,635.6 387.6,634.4 389.0,634.3" fill="none" stroke="#454545" stroke-width="8.1" stroke-linejoin="round" stroke-linecap="round"/>
<path d="M390.1,484.7 C392.3,484.7 399.4,484.9 403.2,484.7 C406.9,484.4 411.0,483.3 412.6,483.1" fill="none" stroke="#454545" stroke-width="2.38" stroke-linejoin="round" stroke-linecap="round"/>
<path d="M412.6,483.1 C411.6,485.0 407.9,490.0 406.7,494.6 C405.6,499.3 406.6,506.6 405.8,511.1 C405.0,515.6 402.5,519.9 401.8,521.7" fill="none" stroke="#454545" stroke-width="2.8" stroke-linejoin="round" stroke-linecap="round"/>
<path d="M406.7,494.6 L425.1,492.4" fill="none" stroke="#454545" stroke-width="2.8" stroke-linejoin="round" stroke-linecap="round"/>
<path d="M425.1,492.4 C425.0,493.6 425.8,496.5 424.2,499.4 C422.6,502.3 417.0,508.0 415.5,509.8" fill="none" stroke="#454545" stroke-width="2.38" stroke-linejoin="round" stroke-linecap="round"/>
<path d="M402.3,502.1 L405.8,511.1" fill="none" stroke="#454545" stroke-width="2.2399999999999998" stroke-linejoin="round" stroke-linecap="round"/>
<path d="M370.8,491.0 L370.8,497.9" fill="none" stroke="#454545" stroke-width="2.2399999999999998" stroke-linejoin="round" stroke-linecap="round"/>
<path d="M370.8,497.9 C371.6,499.0 372.8,503.1 375.6,504.5 C378.3,505.9 385.3,506.1 387.2,506.4" fill="none" stroke="#454545" stroke-width="1.9599999999999997" stroke-linejoin="round" stroke-linecap="round"/>
<line x1="388.5" y1="460.9" x2="386.2" y2="469.2" stroke="#222" stroke-width="0.45"/>
<line x1="386.2" y1="469.2" x2="385.1" y2="477.0" stroke="#222" stroke-width="0.45"/>
<line x1="385.1" y1="477.0" x2="397.4" y2="476.3" stroke="#222" stroke-width="0.45"/>
<line x1="397.4" y1="476.3" x2="412.6" y2="483.1" stroke="#222" stroke-width="0.45"/>
<line x1="385.1" y1="477.0" x2="378.5" y2="481.7" stroke="#222" stroke-width="0.45"/>
<line x1="378.5" y1="481.7" x2="381.4" y2="489.0" stroke="#222" stroke-width="0.45"/>
<line x1="354.2" y1="475.3" x2="368.8" y2="478.3" stroke="#222" stroke-width="0.45"/>
<line x1="354.2" y1="475.3" x2="359.1" y2="483.7" stroke="#222" stroke-width="0.45"/>
<line x1="359.1" y1="483.7" x2="370.8" y2="491.0" stroke="#222" stroke-width="0.45"/>
<line x1="359.1" y1="483.7" x2="370.8" y2="497.9" stroke="#222" stroke-width="0.45"/>
<line x1="378.5" y1="481.7" x2="390.1" y2="484.7" stroke="#222" stroke-width="0.45"/>
<line x1="390.1" y1="484.7" x2="403.2" y2="484.7" stroke="#222" stroke-width="0.45"/>
<line x1="403.2" y1="484.7" x2="412.6" y2="483.1" stroke="#222" stroke-width="0.45"/>
<line x1="378.5" y1="481.7" x2="370.8" y2="497.9" stroke="#222" stroke-width="0.45"/>
<line x1="425.1" y1="492.4" x2="406.7" y2="494.6" stroke="#222" stroke-width="0.45"/>
<line x1="406.7" y1="494.6" x2="391.3" y2="498.7" stroke="#222" stroke-width="0.45"/>
<line x1="406.7" y1="494.6" x2="411.7" y2="500.0" stroke="#222" stroke-width="0.45"/>
<line x1="381.4" y1="489.0" x2="370.8" y2="497.9" stroke="#222" stroke-width="0.45"/>
<line x1="370.8" y1="491.0" x2="370.8" y2="497.9" stroke="#222" stroke-width="0.45"/>
<line x1="362.0" y1="494.6" x2="370.8" y2="497.9" stroke="#222" stroke-width="0.45"/>
<line x1="370.8" y1="497.9" x2="370.7" y2="504.7" stroke="#222" stroke-width="0.45"/>
<line x1="370.8" y1="497.9" x2="391.3" y2="498.7" stroke="#222" stroke-width="0.45"/>
<line x1="370.8" y1="497.9" x2="375.6" y2="504.5" stroke="#222" stroke-width="0.45"/>
<line x1="375.6" y1="504.5" x2="387.2" y2="506.4" stroke="#222" stroke-width="0.45"/>
<line x1="375.6" y1="504.5" x2="395.0" y2="512.6" stroke="#222" stroke-width="0.45"/>
<line x1="402.3" y1="502.1" x2="395.0" y2="512.6" stroke="#222" stroke-width="0.45"/>
<line x1="424.2" y1="499.4" x2="415.5" y2="509.8" stroke="#222" stroke-width="0.45"/>
<line x1="424.2" y1="499.4" x2="411.7" y2="500.0" stroke="#222" stroke-width="0.45"/>
<line x1="424.2" y1="499.4" x2="425.1" y2="492.4" stroke="#222" stroke-width="0.45"/>
<line x1="395.0" y1="512.6" x2="405.8" y2="511.1" stroke="#222" stroke-width="0.45"/>
<line x1="405.8" y1="511.1" x2="415.5" y2="509.8" stroke="#222" stroke-width="0.45"/>
<line x1="405.8" y1="511.1" x2="402.3" y2="502.1" stroke="#222" stroke-width="0.45"/>
<line x1="387.2" y1="506.4" x2="395.0" y2="512.6" stroke="#222" stroke-width="0.45"/>
<line x1="370.7" y1="504.7" x2="370.7" y2="511.3" stroke="#222" stroke-width="0.45"/>
<line x1="370.7" y1="511.3" x2="370.7" y2="518.0" stroke="#222" stroke-width="0.45"/>
<line x1="370.7" y1="518.0" x2="370.7" y2="524.5" stroke="#222" stroke-width="0.45"/>
<line x1="370.7" y1="524.5" x2="370.7" y2="531.3" stroke="#222" stroke-width="0.45"/>
<line x1="370.7" y1="531.3" x2="370.7" y2="538.1" stroke="#222" stroke-width="0.45"/>
<line x1="370.7" y1="538.1" x2="370.7" y2="544.7" stroke="#222" stroke-width="0.45"/>
<line x1="370.7" y1="544.7" x2="370.7" y2="551.5" stroke="#222" stroke-width="0.45"/>
<line x1="370.7" y1="551.5" x2="370.7" y2="557.7" stroke="#222" stroke-width="0.45"/>
<line x1="370.7" y1="557.7" x2="370.7" y2="564.8" stroke="#222" stroke-width="0.45"/>
<line x1="370.7" y1="564.8" x2="370.7" y2="571.4" stroke="#222" stroke-width="0.45"/>
<line x1="370.7" y1="571.4" x2="370.7" y2="577.9" stroke="#222" stroke-width="0.45"/>
<line x1="370.7" y1="577.9" x2="370.7" y2="584.5" stroke="#222" stroke-width="0.45"/>
<line x1="370.7" y1="584.5" x2="370.7" y2="591.6" stroke="#222" stroke-width="0.45"/>
<line x1="370.7" y1="591.6" x2="373.4" y2="596.8" stroke="#222" stroke-width="0.45"/>
<line x1="373.4" y1="596.8" x2="377.3" y2="600.9" stroke="#222" stroke-width="0.45"/>
<line x1="320.0" y1="513.1" x2="334.6" y2="510.7" stroke="#222" stroke-width="0.45"/>
<line x1="334.6" y1="510.7" x2="370.7" y2="518.0" stroke="#222" stroke-width="0.45"/>
<line x1="344.2" y1="501.0" x2="370.7" y2="518.0" stroke="#222" stroke-width="0.45"/>
<line x1="344.2" y1="501.0" x2="370.7" y2="557.7" stroke="#222" stroke-width="0.45"/>
<line x1="348.5" y1="526.1" x2="370.7" y2="518.0" stroke="#222" stroke-width="0.45"/>
<line x1="348.5" y1="526.1" x2="370.7" y2="531.3" stroke="#222" stroke-width="0.45"/>
<line x1="336.2" y1="528.0" x2="348.1" y2="535.5" stroke="#222" stroke-width="0.45"/>
<line x1="348.5" y1="526.1" x2="348.1" y2="535.5" stroke="#222" stroke-width="0.45"/>
<line x1="348.1" y1="535.5" x2="353.5" y2="535.4" stroke="#222" stroke-width="0.45"/>
<line x1="341.1" y1="539.7" x2="340.4" y2="553.0" stroke="#222" stroke-width="0.45"/>
<line x1="341.1" y1="539.7" x2="336.2" y2="528.0" stroke="#222" stroke-width="0.45"/>
<line x1="340.4" y1="553.0" x2="370.7" y2="544.7" stroke="#222" stroke-width="0.45"/>
<line x1="340.4" y1="553.0" x2="370.7" y2="531.3" stroke="#222" stroke-width="0.45"/>
<line x1="353.5" y1="535.4" x2="370.7" y2="544.7" stroke="#222" stroke-width="0.45"/>
<line x1="370.7" y1="531.3" x2="401.8" y2="529.4" stroke="#222" stroke-width="0.45"/>
<line x1="370.7" y1="531.3" x2="445.5" y2="526.7" stroke="#222" stroke-width="0.45"/>
<line x1="401.8" y1="521.7" x2="401.8" y2="529.4" stroke="#222" stroke-width="0.45"/>
<line x1="401.8" y1="529.4" x2="401.8" y2="536.7" stroke="#222" stroke-width="0.45"/>
<line x1="401.8" y1="536.7" x2="401.8" y2="544.3" stroke="#222" stroke-width="0.45"/>
<line x1="401.8" y1="544.3" x2="401.8" y2="551.8" stroke="#222" stroke-width="0.45"/>
<line x1="401.8" y1="521.7" x2="421.2" y2="517.1" stroke="#222" stroke-width="0.45"/>
<line x1="421.2" y1="517.1" x2="431.6" y2="520.7" stroke="#222" stroke-width="0.45"/>
<line x1="421.2" y1="517.1" x2="415.5" y2="509.8" stroke="#222" stroke-width="0.45"/>
<line x1="401.8" y1="536.7" x2="430.7" y2="534.5" stroke="#222" stroke-width="0.45"/>
<line x1="430.7" y1="534.5" x2="440.4" y2="528.5" stroke="#222" stroke-width="0.45"/>
<line x1="430.7" y1="534.5" x2="451.5" y2="535.7" stroke="#222" stroke-width="0.45"/>
<line x1="445.7" y1="517.8" x2="450.8" y2="511.4" stroke="#222" stroke-width="0.45"/>
<line x1="445.7" y1="517.8" x2="431.6" y2="520.7" stroke="#222" stroke-width="0.45"/>
<line x1="445.7" y1="517.8" x2="445.5" y2="526.7" stroke="#222" stroke-width="0.45"/>
<line x1="445.5" y1="526.7" x2="453.5" y2="524.5" stroke="#222" stroke-width="0.45"/>
<line x1="445.5" y1="526.7" x2="440.4" y2="528.5" stroke="#222" stroke-width="0.45"/>
<line x1="447.0" y1="541.4" x2="451.5" y2="535.7" stroke="#222" stroke-width="0.45"/>
<line x1="447.0" y1="541.4" x2="435.7" y2="543.7" stroke="#222" stroke-width="0.45"/>
<line x1="401.8" y1="529.4" x2="445.5" y2="526.7" stroke="#222" stroke-width="0.45"/>
<line x1="370.7" y1="564.8" x2="386.8" y2="568.4" stroke="#222" stroke-width="0.45"/>
<line x1="386.8" y1="568.4" x2="400.6" y2="570.4" stroke="#222" stroke-width="0.45"/>
<line x1="355.0" y1="513.4" x2="370.7" y2="518.0" stroke="#222" stroke-width="0.45"/>
<line x1="334.6" y1="510.7" x2="355.0" y2="513.4" stroke="#222" stroke-width="0.45"/>
<line x1="391.3" y1="498.7" x2="395.0" y2="512.6" stroke="#222" stroke-width="0.45"/>
<line x1="405.8" y1="511.1" x2="401.8" y2="521.7" stroke="#222" stroke-width="0.45"/>
<line x1="362.0" y1="494.6" x2="375.6" y2="504.5" stroke="#222" stroke-width="0.45"/>
<line x1="390.1" y1="484.7" x2="406.7" y2="494.6" stroke="#222" stroke-width="0.45"/>
<line x1="404.9" y1="582.2" x2="400.8" y2="585.2" stroke="#222" stroke-width="0.45"/>
<line x1="400.8" y1="585.2" x2="395.4" y2="588.5" stroke="#222" stroke-width="0.45"/>
<line x1="409.2" y1="593.5" x2="402.6" y2="598.2" stroke="#222" stroke-width="0.45"/>
<line x1="402.6" y1="598.2" x2="395.4" y2="588.5" stroke="#222" stroke-width="0.45"/>
<line x1="402.6" y1="598.2" x2="404.9" y2="620.8" stroke="#222" stroke-width="0.45"/>
<line x1="388.0" y1="605.9" x2="377.3" y2="600.9" stroke="#222" stroke-width="0.45"/>
<line x1="388.0" y1="605.9" x2="394.2" y2="608.9" stroke="#222" stroke-width="0.45"/>
<line x1="348.5" y1="603.9" x2="362.2" y2="610.6" stroke="#222" stroke-width="0.45"/>
<line x1="348.5" y1="603.9" x2="377.3" y2="600.9" stroke="#222" stroke-width="0.45"/>
<line x1="348.5" y1="603.9" x2="350.1" y2="622.3" stroke="#222" stroke-width="0.45"/>
<line x1="383.0" y1="612.2" x2="362.2" y2="610.6" stroke="#222" stroke-width="0.45"/>
<line x1="383.0" y1="612.2" x2="394.2" y2="608.9" stroke="#222" stroke-width="0.45"/>
<line x1="383.0" y1="612.2" x2="381.3" y2="616.9" stroke="#222" stroke-width="0.45"/>
<line x1="401.8" y1="615.9" x2="394.2" y2="608.9" stroke="#222" stroke-width="0.45"/>
<line x1="401.8" y1="615.9" x2="404.9" y2="620.8" stroke="#222" stroke-width="0.45"/>
<line x1="355.5" y1="617.9" x2="350.1" y2="622.3" stroke="#222" stroke-width="0.45"/>
<line x1="355.5" y1="617.9" x2="362.2" y2="610.6" stroke="#222" stroke-width="0.45"/>
<line x1="355.5" y1="617.9" x2="376.3" y2="619.6" stroke="#222" stroke-width="0.45"/>
<line x1="407.3" y1="626.8" x2="404.9" y2="620.8" stroke="#222" stroke-width="0.45"/>
<line x1="407.3" y1="626.8" x2="407.7" y2="633.5" stroke="#222" stroke-width="0.45"/>
<line x1="380.1" y1="628.5" x2="381.3" y2="616.9" stroke="#222" stroke-width="0.45"/>
<line x1="380.1" y1="628.5" x2="385.7" y2="630.6" stroke="#222" stroke-width="0.45"/>
<line x1="348.2" y1="629.3" x2="333.7" y2="628.5" stroke="#222" stroke-width="0.45"/>
<line x1="348.2" y1="629.3" x2="350.1" y2="622.3" stroke="#222" stroke-width="0.45"/>
<line x1="348.2" y1="629.3" x2="347.5" y2="634.8" stroke="#222" stroke-width="0.45"/>
<line x1="380.1" y1="633.9" x2="385.7" y2="630.6" stroke="#222" stroke-width="0.45"/>
<line x1="380.1" y1="633.9" x2="385.7" y2="636.4" stroke="#222" stroke-width="0.45"/>
<line x1="402.2" y1="638.6" x2="407.7" y2="633.5" stroke="#222" stroke-width="0.45"/>
<line x1="402.2" y1="638.6" x2="400.8" y2="644.3" stroke="#222" stroke-width="0.45"/>
<line x1="402.2" y1="638.6" x2="393.4" y2="634.2" stroke="#222" stroke-width="0.45"/>
<line x1="415.9" y1="643.3" x2="432.4" y2="636.5" stroke="#222" stroke-width="0.45"/>
<line x1="415.9" y1="643.3" x2="422.4" y2="649.4" stroke="#222" stroke-width="0.45"/>
<line x1="415.9" y1="643.3" x2="400.8" y2="644.3" stroke="#222" stroke-width="0.45"/>
<line x1="350.8" y1="644.6" x2="347.5" y2="634.8" stroke="#222" stroke-width="0.45"/>
<line x1="350.8" y1="644.6" x2="354.2" y2="650.0" stroke="#222" stroke-width="0.45"/>
<line x1="365.1" y1="648.3" x2="354.2" y2="650.0" stroke="#222" stroke-width="0.45"/>
<line x1="365.1" y1="648.3" x2="371.9" y2="652.6" stroke="#222" stroke-width="0.45"/>
<line x1="365.1" y1="648.3" x2="380.1" y2="651.7" stroke="#222" stroke-width="0.45"/>
<line x1="396.5" y1="648.7" x2="393.8" y2="653.6" stroke="#222" stroke-width="0.45"/>
<line x1="396.5" y1="648.7" x2="400.8" y2="644.3" stroke="#222" stroke-width="0.45"/>
<line x1="380.1" y1="651.7" x2="388.1" y2="668.4" stroke="#222" stroke-width="0.45"/>
<line x1="380.1" y1="651.7" x2="371.9" y2="652.6" stroke="#222" stroke-width="0.45"/>
<line x1="380.1" y1="651.7" x2="393.8" y2="653.6" stroke="#222" stroke-width="0.45"/>
<line x1="348.5" y1="603.9" x2="395.4" y2="588.5" stroke="#222" stroke-width="0.45"/>
<line x1="348.2" y1="629.3" x2="402.2" y2="638.6" stroke="#222" stroke-width="0.45"/>
<line x1="333.7" y1="628.5" x2="402.2" y2="638.6" stroke="#222" stroke-width="0.45"/>
<line x1="373.4" y1="596.8" x2="388.0" y2="605.9" stroke="#222" stroke-width="0.45"/>
<line x1="370.7" y1="591.6" x2="348.5" y2="603.9" stroke="#222" stroke-width="0.45"/>
<line x1="401.8" y1="615.9" x2="402.2" y2="638.6" stroke="#222" stroke-width="0.45"/>
<line x1="376.3" y1="636.6" x2="374.8" y2="640.2" stroke="#222" stroke-width="0.45"/>
<line x1="380.8" y1="637.3" x2="387.1" y2="642.4" stroke="#222" stroke-width="0.45"/>
<line x1="376.3" y1="636.6" x2="371.4" y2="622.5" stroke="#222" stroke-width="0.45"/>
<line x1="380.8" y1="637.3" x2="380.0" y2="643.0" stroke="#222" stroke-width="0.45"/>
<line x1="376.3" y1="619.6" x2="380.1" y2="628.5" stroke="#222" stroke-width="0.45"/>
<line x1="371.4" y1="622.5" x2="380.1" y2="633.9" stroke="#222" stroke-width="0.45"/>
<line x1="383.0" y1="612.2" x2="371.0" y2="626.6" stroke="#222" stroke-width="0.45"/>
<line x1="380.1" y1="633.9" x2="393.4" y2="634.2" stroke="#222" stroke-width="0.45"/>
<line x1="373.4" y1="596.8" x2="401.8" y2="615.9" stroke="#222" stroke-width="0.45"/>
<line x1="377.3" y1="600.9" x2="355.5" y2="617.9" stroke="#222" stroke-width="0.45"/>
<line x1="383.7" y1="640.3" x2="387.1" y2="642.4" stroke="#222" stroke-width="0.45"/>
<line x1="383.7" y1="640.3" x2="380.0" y2="643.0" stroke="#222" stroke-width="0.45"/>
<line x1="383.7" y1="640.3" x2="393.4" y2="634.2" stroke="#222" stroke-width="0.45"/>
<line x1="375.7" y1="630.8" x2="371.0" y2="626.6" stroke="#222" stroke-width="0.45"/>
<line x1="375.7" y1="630.8" x2="385.7" y2="630.6" stroke="#222" stroke-width="0.45"/>
<line x1="386.4" y1="625.7" x2="381.3" y2="616.9" stroke="#222" stroke-width="0.45"/>
<line x1="386.4" y1="625.7" x2="385.7" y2="630.6" stroke="#222" stroke-width="0.45"/>
<line x1="386.4" y1="625.7" x2="394.2" y2="608.9" stroke="#222" stroke-width="0.45"/>
<line x1="383.7" y1="640.3" x2="380.1" y2="651.7" stroke="#222" stroke-width="0.45"/>
<line x1="375.7" y1="630.8" x2="376.3" y2="619.6" stroke="#222" stroke-width="0.45"/>
<line x1="350.8" y1="644.6" x2="396.5" y2="648.7" stroke="#222" stroke-width="0.45"/>
<line x1="354.2" y1="650.0" x2="396.5" y2="648.7" stroke="#222" stroke-width="0.45"/>
<line x1="365.1" y1="648.3" x2="374.8" y2="640.2" stroke="#222" stroke-width="0.45"/>
<line x1="380.1" y1="651.7" x2="380.0" y2="643.0" stroke="#222" stroke-width="0.45"/>
<line x1="415.9" y1="643.3" x2="407.3" y2="626.8" stroke="#222" stroke-width="0.45"/>
<line x1="371.0" y1="626.6" x2="376.3" y2="636.6" stroke="#222" stroke-width="0.45"/>
<line x1="385.7" y1="636.4" x2="380.8" y2="637.3" stroke="#222" stroke-width="0.45"/>
<line x1="388.0" y1="605.9" x2="395.4" y2="588.5" stroke="#222" stroke-width="0.45"/>
<line x1="370.7" y1="577.9" x2="388.0" y2="605.9" stroke="#222" stroke-width="0.45"/>
<path d="M354.2,475.3 L368.8,478.3 L370.8,497.9" fill="none" stroke="#2a2a2a" stroke-width="1.3" stroke-linejoin="round" stroke-linecap="round"/>
<path d="M362.0,494.6 L370.8,497.9" fill="none" stroke="#2a2a2a" stroke-width="1.3" stroke-linejoin="round" stroke-linecap="round"/>
<path d="M359.1,483.7 L370.8,491.0" fill="none" stroke="#2a2a2a" stroke-width="1.04" stroke-linejoin="round" stroke-linecap="round"/>
<path d="M348.5,603.9 L373.4,596.8" fill="none" stroke="#2a2a2a" stroke-width="1.3" stroke-linejoin="round" stroke-linecap="round"/>
<path d="M348.5,603.9 L362.2,610.6" fill="none" stroke="#2a2a2a" stroke-width="1.3" stroke-linejoin="round" stroke-linecap="round"/>
<path d="M348.5,603.9 L350.1,622.3" fill="none" stroke="#2a2a2a" stroke-width="1.3" stroke-linejoin="round" stroke-linecap="round"/>
<path d="M394.2,608.9 L401.8,615.9 L404.9,620.8 L407.3,626.8 L407.7,633.5" fill="none" stroke="#2a2a2a" stroke-width="1.3" stroke-linejoin="round" stroke-linecap="round"/>
<path d="M409.2,593.5 L402.6,598.2 L395.4,588.5" fill="none" stroke="#2a2a2a" stroke-width="1.3" stroke-linejoin="round" stroke-linecap="round"/>
<path d="M404.9,582.2 L400.8,585.2 L395.4,588.5 L388.0,605.9 L394.2,608.9" fill="none" stroke="#2a2a2a" stroke-width="1.1700000000000002" stroke-linejoin="round" stroke-linecap="round"/>
<path d="M350.1,622.3 L348.2,629.3 L347.5,634.8 L350.8,644.6 L354.2,650.0" fill="none" stroke="#2a2a2a" stroke-width="1.3" stroke-linejoin="round" stroke-linecap="round"/>
<path d="M354.2,650.0 L365.1,648.3" fill="none" stroke="#2a2a2a" stroke-width="1.3" stroke-linejoin="round" stroke-linecap="round"/>
<path d="M393.8,653.6 L396.5,648.7 L400.8,644.3 L402.2,638.6 L407.7,633.5" fill="none" stroke="#2a2a2a" stroke-width="1.1700000000000002" stroke-linejoin="round" stroke-linecap="round"/>
<path d="M362.2,610.6 L355.5,617.9 L350.1,622.3" fill="none" stroke="#2a2a2a" stroke-width="1.04" stroke-linejoin="round" stroke-linecap="round"/>
<path d="M380.1,651.7 L388.1,668.4" fill="none" stroke="#2a2a2a" stroke-width="0.78" stroke-linejoin="round" stroke-linecap="round"/>
<path d="M370.7,531.3 L401.8,529.4" fill="none" stroke="#111" stroke-width="1.5" stroke-linejoin="round" stroke-linecap="round"/>
<path d="M370.7,538.1 L401.8,529.4" fill="none" stroke="#111" stroke-width="1.5" stroke-linejoin="round" stroke-linecap="round"/>
<path d="M348.5,526.1 L401.8,529.4" fill="none" stroke="#111" stroke-width="1.2" stroke-linejoin="round" stroke-linecap="round"/>
<path d="M401.8,536.7 L401.8,544.3 L401.8,551.8" fill="none" stroke="#111" stroke-width="1.5" stroke-linejoin="round" stroke-linecap="round"/>
<path d="M348.5,603.9 L373.4,596.8" fill="none" stroke="#111" stroke-width="1.5" stroke-linejoin="round" stroke-linecap="round"/>
<path d="M348.5,603.9 L377.3,600.9" fill="none" stroke="#111" stroke-width="1.5" stroke-linejoin="round" stroke-linecap="round"/>
<path d="M370.8,497.9 L370.7,504.7 L370.7,511.3 L370.7,518.0 L370.7,524.5 L370.7,531.3 L370.7,538.1 L370.7,544.7 L370.7,551.5 L370.7,557.7 L370.7,564.8 L370.7,571.4 L370.7,577.9 L370.7,584.5 L370.7,591.6" fill="none" stroke="#111" stroke-width="1.4" stroke-linejoin="round" stroke-linecap="round"/>
<circle cx="388.5" cy="460.9" r="2.55" fill="#5b8fd2"/>
<rect x="384.9" y="468.0" width="2.5" height="2.5" fill="#000"/>
<circle cx="385.1" cy="477.0" r="2.55" fill="#5b8fd2"/>
<rect x="396.2" y="475.1" width="2.5" height="2.5" fill="#000"/>
<circle cx="412.6" cy="483.1" r="2.55" fill="#5b8fd2"/>
<circle cx="354.2" cy="475.3" r="2.55" fill="#5b8fd2"/>
<rect x="367.6" y="477.0" width="2.5" height="2.5" fill="#000"/>
<rect x="357.9" y="482.4" width="2.5" height="2.5" fill="#000"/>
<rect x="377.3" y="480.5" width="2.5" height="2.5" fill="#000"/>
<circle cx="390.1" cy="484.7" r="2.55" fill="#5b8fd2"/>
<rect x="401.9" y="483.4" width="2.5" height="2.5" fill="#000"/>
<circle cx="381.4" cy="489.0" r="2.55" fill="#5b8fd2"/>
<circle cx="370.8" cy="491.0" r="2.55" fill="#5b8fd2"/>
<circle cx="362.0" cy="494.6" r="2.55" fill="#5b8fd2"/>
<circle cx="425.1" cy="492.4" r="2.55" fill="#5b8fd2"/>
<rect x="405.5" y="493.4" width="2.5" height="2.5" fill="#000"/>
<circle cx="391.3" cy="498.7" r="2.55" fill="#5b8fd2"/>
<rect x="369.5" y="496.6" width="2.5" height="2.5" fill="#000"/>
<circle cx="344.2" cy="501.0" r="2.55" fill="#5b8fd2"/>
<circle cx="411.7" cy="500.0" r="2.55" fill="#5b8fd2"/>
<circle cx="402.3" cy="502.1" r="2.55" fill="#5b8fd2"/>
<rect x="423.0" y="498.2" width="2.5" height="2.5" fill="#000"/>
<circle cx="370.7" cy="504.7" r="2.55" fill="#5b8fd2"/>
<rect x="374.3" y="503.2" width="2.5" height="2.5" fill="#000"/>
<circle cx="387.2" cy="506.4" r="2.55" fill="#5b8fd2"/>
<circle cx="415.5" cy="509.8" r="2.55" fill="#5b8fd2"/>
<circle cx="320.0" cy="513.1" r="2.55" fill="#5b8fd2"/>
<rect x="333.3" y="509.4" width="2.5" height="2.5" fill="#000"/>
<circle cx="355.0" cy="513.4" r="2.55" fill="#5b8fd2"/>
<circle cx="370.7" cy="511.3" r="2.55" fill="#5b8fd2"/>
<rect x="393.7" y="511.4" width="2.5" height="2.5" fill="#000"/>
<rect x="404.6" y="509.8" width="2.5" height="2.5" fill="#000"/>
<rect x="369.4" y="516.8" width="2.5" height="2.5" fill="#000"/>
<rect x="419.9" y="515.8" width="2.5" height="2.5" fill="#000"/>
<circle cx="401.8" cy="521.7" r="2.55" fill="#5b8fd2"/>
<circle cx="370.7" cy="524.5" r="2.55" fill="#5b8fd2"/>
<circle cx="336.2" cy="528.0" r="2.55" fill="#5b8fd2"/>
<circle cx="348.5" cy="526.1" r="2.55" fill="#5b8fd2"/>
<rect x="369.4" y="530.1" width="2.5" height="2.5" fill="#000"/>
<rect x="400.6" y="528.1" width="2.5" height="2.5" fill="#000"/>
<circle cx="353.5" cy="535.4" r="2.55" fill="#5b8fd2"/>
<rect x="346.8" y="534.2" width="2.5" height="2.5" fill="#000"/>
<circle cx="401.8" cy="536.7" r="2.55" fill="#5b8fd2"/>
<circle cx="370.7" cy="538.1" r="2.55" fill="#5b8fd2"/>
<rect x="339.9" y="538.5" width="2.5" height="2.5" fill="#000"/>
<rect x="369.4" y="543.5" width="2.5" height="2.5" fill="#000"/>
<rect x="400.6" y="543.1" width="2.5" height="2.5" fill="#000"/>
<circle cx="370.7" cy="551.5" r="2.55" fill="#5b8fd2"/>
<circle cx="340.4" cy="553.0" r="2.55" fill="#5b8fd2"/>
<circle cx="401.8" cy="551.8" r="2.55" fill="#d7242a"/>
<rect x="369.4" y="556.5" width="2.5" height="2.5" fill="#000"/>
<circle cx="370.7" cy="564.8" r="2.55" fill="#5b8fd2"/>
<rect x="385.6" y="567.1" width="2.5" height="2.5" fill="#000"/>
<circle cx="400.6" cy="570.4" r="2.55" fill="#d7242a"/>
<rect x="369.4" y="570.2" width="2.5" height="2.5" fill="#000"/>
<rect x="350.1" y="572.8" width="2.5" height="2.5" fill="#000"/>
<circle cx="450.8" cy="511.4" r="2.55" fill="#5b8fd2"/>
<circle cx="431.6" cy="520.7" r="2.55" fill="#5b8fd2"/>
<rect x="444.4" y="516.5" width="2.5" height="2.5" fill="#000"/>
<circle cx="453.5" cy="524.5" r="2.55" fill="#5b8fd2"/>
<rect x="444.2" y="525.5" width="2.5" height="2.5" fill="#000"/>
<circle cx="440.4" cy="528.5" r="2.55" fill="#5b8fd2"/>
<rect x="429.4" y="533.2" width="2.5" height="2.5" fill="#000"/>
<circle cx="451.5" cy="535.7" r="2.55" fill="#5b8fd2"/>
<rect x="445.8" y="540.1" width="2.5" height="2.5" fill="#000"/>
<circle cx="435.7" cy="543.7" r="2.55" fill="#5b8fd2"/>
<circle cx="370.7" cy="577.9" r="2.55" fill="#f59a23"/>
<rect x="369.4" y="583.3" width="2.5" height="2.5" fill="#000"/>
<circle cx="370.7" cy="591.6" r="2.55" fill="#f59a23"/>
<circle cx="404.9" cy="582.2" r="2.55" fill="#5b8fd2"/>
<rect x="399.6" y="583.9" width="2.5" height="2.5" fill="#000"/>
<circle cx="395.4" cy="588.5" r="2.55" fill="#f59a23"/>
<circle cx="409.2" cy="593.5" r="2.55" fill="#f59a23"/>
<rect x="372.2" y="595.6" width="2.5" height="2.5" fill="#000"/>
<rect x="401.3" y="596.9" width="2.5" height="2.5" fill="#000"/>
<circle cx="377.3" cy="600.9" r="2.55" fill="#f59a23"/>
<rect x="347.2" y="602.6" width="2.5" height="2.5" fill="#000"/>
<rect x="386.8" y="604.6" width="2.5" height="2.5" fill="#000"/>
<circle cx="394.2" cy="608.9" r="2.55" fill="#f59a23"/>
<circle cx="362.2" cy="610.6" r="2.55" fill="#f59a23"/>
<rect x="381.8" y="610.9" width="2.5" height="2.5" fill="#000"/>
<rect x="400.6" y="614.7" width="2.5" height="2.5" fill="#000"/>
<circle cx="381.3" cy="616.9" r="2.55" fill="#f59a23"/>
<rect x="354.3" y="616.6" width="2.5" height="2.5" fill="#000"/>
<circle cx="376.3" cy="619.6" r="2.55" fill="#f59a23"/>
<circle cx="404.9" cy="620.8" r="2.55" fill="#f59a23"/>
<circle cx="350.1" cy="622.3" r="2.55" fill="#f59a23"/>
<circle cx="371.4" cy="622.5" r="2.55" fill="#f59a23"/>
<circle cx="371.0" cy="626.6" r="2.55" fill="#f59a23"/>
<rect x="406.0" y="625.6" width="2.5" height="2.5" fill="#000"/>
<circle cx="333.7" cy="628.5" r="2.55" fill="#5b8fd2"/>
<rect x="378.8" y="627.3" width="2.5" height="2.5" fill="#000"/>
<rect x="346.9" y="628.0" width="2.5" height="2.5" fill="#000"/>
<circle cx="385.7" cy="630.6" r="2.55" fill="#f59a23"/>
<circle cx="393.4" cy="634.2" r="2.55" fill="#f59a23"/>
<rect x="378.8" y="632.7" width="2.5" height="2.5" fill="#000"/>
<circle cx="407.7" cy="633.5" r="2.55" fill="#f59a23"/>
<circle cx="347.5" cy="634.8" r="2.55" fill="#f59a23"/>
<circle cx="385.7" cy="636.4" r="2.55" fill="#f59a23"/>
<rect x="375.0" y="635.3" width="2.5" height="2.5" fill="#000"/>
<rect x="379.5" y="636.0" width="2.5" height="2.5" fill="#000"/>
<rect x="401.0" y="637.4" width="2.5" height="2.5" fill="#000"/>
<circle cx="440.3" cy="620.0" r="2.55" fill="#5b8fd2"/>
<circle cx="453.2" cy="614.9" r="2.55" fill="#d7242a"/>
<circle cx="432.4" cy="636.5" r="2.55" fill="#f59a23"/>
<circle cx="374.8" cy="640.2" r="2.55" fill="#f59a23"/>
<circle cx="387.1" cy="642.4" r="2.55" fill="#f59a23"/>
<circle cx="380.0" cy="643.0" r="2.55" fill="#f59a23"/>
<rect x="414.7" y="642.0" width="2.5" height="2.5" fill="#000"/>
<circle cx="400.8" cy="644.3" r="2.55" fill="#f59a23"/>
<rect x="349.6" y="643.3" width="2.5" height="2.5" fill="#000"/>
<rect x="363.9" y="647.0" width="2.5" height="2.5" fill="#000"/>
<rect x="395.3" y="647.4" width="2.5" height="2.5" fill="#000"/>
<circle cx="354.2" cy="650.0" r="2.55" fill="#f59a23"/>
<circle cx="422.4" cy="649.4" r="2.55" fill="#f59a23"/>
<rect x="378.8" y="650.5" width="2.5" height="2.5" fill="#000"/>
<circle cx="371.9" cy="652.6" r="2.55" fill="#f59a23"/>
<circle cx="393.8" cy="653.6" r="2.55" fill="#f59a23"/>
<circle cx="388.1" cy="668.4" r="2.55" fill="#f59a23"/>
<rect x="431.7" y="621.0" width="2.5" height="2.5" fill="#000"/>
<rect x="443.9" y="616.1" width="2.5" height="2.5" fill="#000"/>
<rect x="382.5" y="639.1" width="2.5" height="2.5" fill="#000"/>
<rect x="374.4" y="629.5" width="2.5" height="2.5" fill="#000"/>
<rect x="385.2" y="624.4" width="2.5" height="2.5" fill="#000"/>
<text x="382.80" y="692.50" font-size="10.3" text-anchor="middle" fill="#231f20" font-style="italic">db/db</text>
<text transform="translate(587.3,460.8) scale(0.84,1)" font-size="4.9" text-anchor="middle" fill="#1a1a1a">Ribose-5P_cyto</text>
<text transform="translate(552.0,475.7) scale(0.84,1)" font-size="4.9" text-anchor="middle" fill="#1a1a1a">DHAP_cyto</text>
<text transform="translate(583.0,477.2) scale(0.84,1)" font-size="4.9" text-anchor="middle" fill="#1a1a1a">Ribulose-5P_cyto</text>
<text transform="translate(595.8,484.1) scale(0.84,1)" font-size="4.9" text-anchor="middle" fill="#1a1a1a">Xylulose-5P_cyto</text>
<text transform="translate(614.5,483.3) scale(0.84,1)" font-size="4.9" text-anchor="middle" fill="#1a1a1a">Ribulose-5P_cyto</text>
<text transform="translate(633.2,493.3) scale(0.84,1)" font-size="4.9" text-anchor="middle" fill="#1a1a1a">6-Phospho-D-gluconate_cyto</text>
<text transform="translate(607.6,501.6) scale(0.84,1)" font-size="4.9" text-anchor="middle" fill="#1a1a1a">NADPH_cyto</text>
<text transform="translate(578.7,490.4) scale(0.84,1)" font-size="4.9" text-anchor="middle" fill="#1a1a1a">NADP_cyto</text>
<text transform="translate(623.6,511.1) scale(0.84,1)" font-size="4.9" text-anchor="middle" fill="#1a1a1a">D-Glucono-1,5-lactone-6P_cyto</text>
<text transform="translate(653.0,513.7) scale(0.84,1)" font-size="4.9" text-anchor="middle" fill="#1a1a1a">Glycogenin_cyto</text>
<text transform="translate(631.6,522.4) scale(0.84,1)" font-size="4.9" text-anchor="middle" fill="#1a1a1a">Glucose-1P_cyto</text>
<text transform="translate(595.8,524.4) scale(0.84,1)" font-size="4.9" text-anchor="middle" fill="#1a1a1a">Glucose-6P_cyto</text>
<text transform="translate(656.2,526.7) scale(0.84,1)" font-size="4.9" text-anchor="middle" fill="#1a1a1a">Glycogenin-G4G7_cyto</text>
<text transform="translate(642.3,531.4) scale(0.84,1)" font-size="4.9" text-anchor="middle" fill="#1a1a1a">Glycogenin-G7_cyto</text>
<text transform="translate(654.1,538.3) scale(0.84,1)" font-size="4.9" text-anchor="middle" fill="#1a1a1a">Glycogenin-G4G4_cyto</text>
<text transform="translate(601.2,539.8) scale(0.84,1)" font-size="4.9" text-anchor="middle" fill="#1a1a1a">Glucose_cyto</text>
<text transform="translate(636.9,546.5) scale(0.84,1)" font-size="4.9" text-anchor="middle" fill="#1a1a1a">Glycogenin-G7G1_cyto</text>
<text transform="translate(601.7,554.9) scale(0.84,1)" font-size="4.9" text-anchor="middle" fill="#1a1a1a">Glucose_ext</text>
<text transform="translate(601.2,574.5) scale(0.84,1)" font-size="4.9" text-anchor="middle" fill="#1a1a1a">L-Lactate_ext</text>
<text transform="translate(568.2,555.4) scale(0.84,1)" font-size="4.9" text-anchor="middle" fill="#1a1a1a">Pyruvate_cyto</text>
<text transform="translate(568.8,569.4) scale(0.84,1)" font-size="4.9" text-anchor="middle" fill="#1a1a1a">L-Lactate_cyto</text>
<text transform="translate(570.4,583.3) scale(0.84,1)" font-size="4.9" text-anchor="middle" fill="#1a1a1a">Lactate_mito</text>
<text transform="translate(541.1,502.0) scale(0.84,1)" font-size="4.9" text-anchor="middle" fill="#1a1a1a">NADH_cyto</text>
<text transform="translate(515.1,514.6) scale(0.84,1)" font-size="4.9" text-anchor="middle" fill="#1a1a1a">3-Phosphonooxypyruvate_cyto</text>
<text transform="translate(531.3,530.6) scale(0.84,1)" font-size="4.9" text-anchor="middle" fill="#1a1a1a">AMP_cyto</text>
<text transform="translate(544.5,526.0) scale(0.84,1)" font-size="4.9" text-anchor="middle" fill="#1a1a1a">ADP_cyto</text>
<text transform="translate(548.8,537.6) scale(0.84,1)" font-size="4.9" text-anchor="middle" fill="#1a1a1a">Adenine_cyto</text>
<text transform="translate(537.6,556.1) scale(0.84,1)" font-size="4.9" text-anchor="middle" fill="#1a1a1a">ATP_cyto</text>
<text transform="translate(616.2,586.0) scale(0.84,1)" font-size="4.9" text-anchor="middle" fill="#1a1a1a">Acetate_cyto</text>
<text transform="translate(594.0,593.0) scale(0.84,1)" font-size="4.9" text-anchor="middle" fill="#1a1a1a">Acetate_mito</text>
<text transform="translate(607.5,598.9) scale(0.84,1)" font-size="4.9" text-anchor="middle" fill="#1a1a1a">Acetyl-CoA_mito</text>
<text transform="translate(584.6,615.1) scale(0.84,1)" font-size="4.9" text-anchor="middle" fill="#1a1a1a">Citrate_mito</text>
<text transform="translate(546.6,628.6) scale(0.84,1)" font-size="4.9" text-anchor="middle" fill="#1a1a1a">Malate_mito</text>
<text transform="translate(530.7,635.4) scale(0.84,1)" font-size="4.9" text-anchor="middle" fill="#1a1a1a">CoA_cyto</text>
<text transform="translate(544.8,642.5) scale(0.84,1)" font-size="4.9" text-anchor="middle" fill="#1a1a1a">Fumarate_mito</text>
<text transform="translate(551.2,657.4) scale(0.84,1)" font-size="4.9" text-anchor="middle" fill="#1a1a1a">Succinate_mito</text>
<text transform="translate(576.5,662.0) scale(0.84,1)" font-size="4.9" text-anchor="middle" fill="#1a1a1a">Succinyl-CoA_mito</text>
<text transform="translate(622.0,657.4) scale(0.84,1)" font-size="4.9" text-anchor="middle" fill="#1a1a1a">Aspartate_mito</text>
<text transform="translate(632.6,643.6) scale(0.84,1)" font-size="4.9" text-anchor="middle" fill="#1a1a1a">Glutamate_mito</text>
<text transform="translate(642.0,626.0) scale(0.84,1)" font-size="4.9" text-anchor="middle" fill="#1a1a1a">O2_cyto</text>
<text transform="translate(655.8,621.4) scale(0.84,1)" font-size="4.9" text-anchor="middle" fill="#1a1a1a">O2_ext</text>
<text transform="translate(587.0,676.6) scale(0.84,1)" font-size="4.9" text-anchor="middle" fill="#1a1a1a">Palmitoyl-CoA_mito</text>
<text transform="translate(589.4,624.6) scale(0.84,1)" font-size="4.9" text-anchor="middle" fill="#1a1a1a">2-Oxoglutarate_mito</text>
<text transform="translate(585.1,620.4) scale(0.84,1)" font-size="4.9" text-anchor="middle" fill="#1a1a1a">Isocitrate_mito</text>
<text transform="translate(573.4,632.1) scale(0.84,1)" font-size="4.9" text-anchor="middle" fill="#1a1a1a">Oxaloacetate_mito</text>
<text transform="translate(557.3,608.7) scale(0.84,1)" font-size="4.9" text-anchor="middle" fill="#1a1a1a">CoA_mito</text>
<text transform="translate(574.4,628.9) scale(0.84,1)" font-size="4.9" text-anchor="middle" fill="#1a1a1a">NADH_mito</text>
<text transform="translate(578.7,638.4) scale(0.84,1)" font-size="4.9" text-anchor="middle" fill="#1a1a1a">NAD_mito</text>
<text transform="translate(576.6,603.4) scale(0.84,1)" font-size="4.9" text-anchor="middle" fill="#1a1a1a">Acetyl-CoA_mito</text>
<path d="M541.5,493.8 C543.8,493.2 550.6,490.3 555.2,489.8 C559.8,489.2 567.0,490.4 569.3,490.5" fill="none" stroke="#454545" stroke-width="3.0" stroke-linejoin="round" stroke-linecap="round"/>
<path d="M569.3,490.5 C567.9,491.6 563.3,494.0 560.5,496.7 C557.8,499.4 555.3,502.9 552.9,506.8 C550.4,510.7 547.1,517.8 546.0,520.0" fill="none" stroke="#454545" stroke-width="3.2" stroke-linejoin="round" stroke-linecap="round"/>
<path d="M541.5,493.8 C542.6,496.4 545.6,504.6 547.7,509.4 C549.9,514.2 552.2,518.2 554.5,522.6 C556.7,527.0 558.5,531.7 561.0,535.7 C563.4,539.7 567.8,544.8 569.2,546.6" fill="none" stroke="#454545" stroke-width="2.8" stroke-linejoin="round" stroke-linecap="round"/>
<path d="M569.2,511.5 C567.2,513.4 560.8,517.9 557.0,522.6 C553.2,527.2 549.8,535.3 546.5,539.6 C543.3,543.8 539.1,546.6 537.6,548.0" fill="none" stroke="#454545" stroke-width="3.6" stroke-linejoin="round" stroke-linecap="round"/>
<path d="M546.0,520.0 C546.2,523.2 546.6,532.8 546.9,539.1 C547.1,545.5 547.1,553.1 547.5,558.2 C547.9,563.4 548.8,568.1 549.0,570.1" fill="none" stroke="#454545" stroke-width="6.2" stroke-linejoin="round" stroke-linecap="round"/>
<path d="M537.6,548.0 C537.8,549.6 538.1,554.3 539.0,557.2 C539.8,560.0 541.2,563.0 542.9,565.1 C544.6,567.3 548.0,569.3 549.0,570.1" fill="none" stroke="#454545" stroke-width="5.4" stroke-linejoin="round" stroke-linecap="round"/>
<path d="M549.0,570.1 C550.6,573.8 555.6,585.1 558.4,592.2 C561.2,599.2 563.9,606.7 565.9,612.3 C567.9,618.0 568.9,622.1 570.2,626.1 C571.4,630.2 572.8,635.0 573.4,636.7" fill="none" stroke="#454545" stroke-width="8.2" stroke-linejoin="round" stroke-linecap="round"/>
<path d="M581.9,634.1 C590.7,631.8 623.4,623.5 634.3,620.4 C645.2,617.3 643.6,616.6 647.1,615.3 C650.7,614.0 654.2,613.2 655.6,612.8" fill="none" stroke="#454545" stroke-width="6.3" stroke-linejoin="round" stroke-linecap="round"/>
<path d="M575.5,635.7 C573.4,636.4 567.2,638.6 562.7,639.9 C558.2,641.3 550.8,643.1 548.5,643.7" fill="none" stroke="#454545" stroke-width="3.4" stroke-linejoin="round" stroke-linecap="round"/>
<path d="M563.4,647.6 C566.0,648.2 574.1,650.2 579.0,651.2 C584.0,652.1 591.0,652.8 593.4,653.2" fill="none" stroke="#454545" stroke-width="2.8" stroke-linejoin="round" stroke-linecap="round"/>
<path d="M572.1,591.1 C572.3,593.8 573.0,601.2 573.4,607.0 C573.8,612.9 574.3,622.9 574.4,626.1" fill="none" stroke="#454545" stroke-width="2.8" stroke-linejoin="round" stroke-linecap="round"/>
<path d="M569.1,617.6 C569.8,619.4 571.6,625.6 573.4,628.3 C575.2,630.9 577.3,632.8 579.8,633.6 C582.3,634.4 586.9,633.1 588.3,633.0" fill="none" stroke="#454545" stroke-width="7.38" stroke-linejoin="round" stroke-linecap="round"/>
<path d="M552.0,467.0 C554.5,467.5 564.4,466.1 567.3,470.1 C570.2,474.0 569.0,487.1 569.3,490.5" fill="none" stroke="#454545" stroke-width="1.5" stroke-linejoin="round" stroke-linecap="round"/>
<path d="M589.5,476.7 C591.8,476.7 599.3,477.0 603.2,476.7 C607.1,476.5 611.4,475.3 613.0,475.0" fill="none" stroke="#454545" stroke-width="1.7" stroke-linejoin="round" stroke-linecap="round"/>
<path d="M613.0,475.0 C612.0,477.1 608.1,482.3 606.9,487.1 C605.8,492.0 606.8,499.6 606.0,504.3 C605.1,509.0 602.5,513.5 601.8,515.4" fill="none" stroke="#454545" stroke-width="2.0" stroke-linejoin="round" stroke-linecap="round"/>
<path d="M606.9,487.1 L626.2,484.8" fill="none" stroke="#454545" stroke-width="2.0" stroke-linejoin="round" stroke-linecap="round"/>
<path d="M626.2,484.8 C626.0,486.0 626.9,489.1 625.2,492.1 C623.5,495.1 617.6,501.1 616.1,502.9" fill="none" stroke="#454545" stroke-width="1.7" stroke-linejoin="round" stroke-linecap="round"/>
<path d="M602.3,494.9 L606.0,504.3" fill="none" stroke="#454545" stroke-width="1.6" stroke-linejoin="round" stroke-linecap="round"/>
<path d="M569.3,483.3 L569.3,490.5" fill="none" stroke="#454545" stroke-width="1.6" stroke-linejoin="round" stroke-linecap="round"/>
<path d="M569.3,490.5 C570.2,491.7 571.5,495.9 574.3,497.4 C577.2,498.9 584.5,499.1 586.5,499.4" fill="none" stroke="#454545" stroke-width="1.4" stroke-linejoin="round" stroke-linecap="round"/>
<line x1="587.9" y1="451.9" x2="585.5" y2="460.6" stroke="#222" stroke-width="0.45"/>
<line x1="585.5" y1="460.6" x2="584.3" y2="468.7" stroke="#222" stroke-width="0.45"/>
<line x1="584.3" y1="468.7" x2="597.2" y2="468.0" stroke="#222" stroke-width="0.45"/>
<line x1="597.2" y1="468.0" x2="613.0" y2="475.0" stroke="#222" stroke-width="0.45"/>
<line x1="584.3" y1="468.7" x2="577.4" y2="473.7" stroke="#222" stroke-width="0.45"/>
<line x1="577.4" y1="473.7" x2="580.4" y2="481.3" stroke="#222" stroke-width="0.45"/>
<line x1="552.0" y1="467.0" x2="567.3" y2="470.1" stroke="#222" stroke-width="0.45"/>
<line x1="552.0" y1="467.0" x2="557.1" y2="475.7" stroke="#222" stroke-width="0.45"/>
<line x1="557.1" y1="475.7" x2="569.3" y2="483.3" stroke="#222" stroke-width="0.45"/>
<line x1="557.1" y1="475.7" x2="569.3" y2="490.5" stroke="#222" stroke-width="0.45"/>
<line x1="577.4" y1="473.7" x2="589.5" y2="476.7" stroke="#222" stroke-width="0.45"/>
<line x1="589.5" y1="476.7" x2="603.2" y2="476.7" stroke="#222" stroke-width="0.45"/>
<line x1="603.2" y1="476.7" x2="613.0" y2="475.0" stroke="#222" stroke-width="0.45"/>
<line x1="577.4" y1="473.7" x2="569.3" y2="490.5" stroke="#222" stroke-width="0.45"/>
<line x1="626.2" y1="484.8" x2="606.9" y2="487.1" stroke="#222" stroke-width="0.45"/>
<line x1="606.9" y1="487.1" x2="590.8" y2="491.4" stroke="#222" stroke-width="0.45"/>
<line x1="606.9" y1="487.1" x2="612.2" y2="492.8" stroke="#222" stroke-width="0.45"/>
<line x1="580.4" y1="481.3" x2="569.3" y2="490.5" stroke="#222" stroke-width="0.45"/>
<line x1="569.3" y1="483.3" x2="569.3" y2="490.5" stroke="#222" stroke-width="0.45"/>
<line x1="560.1" y1="487.1" x2="569.3" y2="490.5" stroke="#222" stroke-width="0.45"/>
<line x1="569.3" y1="490.5" x2="569.2" y2="497.6" stroke="#222" stroke-width="0.45"/>
<line x1="569.3" y1="490.5" x2="590.8" y2="491.4" stroke="#222" stroke-width="0.45"/>
<line x1="569.3" y1="490.5" x2="574.3" y2="497.4" stroke="#222" stroke-width="0.45"/>
<line x1="574.3" y1="497.4" x2="586.5" y2="499.4" stroke="#222" stroke-width="0.45"/>
<line x1="574.3" y1="497.4" x2="594.6" y2="505.9" stroke="#222" stroke-width="0.45"/>
<line x1="602.3" y1="494.9" x2="594.6" y2="505.9" stroke="#222" stroke-width="0.45"/>
<line x1="625.2" y1="492.1" x2="616.1" y2="502.9" stroke="#222" stroke-width="0.45"/>
<line x1="625.2" y1="492.1" x2="612.2" y2="492.8" stroke="#222" stroke-width="0.45"/>
<line x1="625.2" y1="492.1" x2="626.2" y2="484.8" stroke="#222" stroke-width="0.45"/>
<line x1="594.6" y1="505.9" x2="606.0" y2="504.3" stroke="#222" stroke-width="0.45"/>
<line x1="606.0" y1="504.3" x2="616.1" y2="502.9" stroke="#222" stroke-width="0.45"/>
<line x1="606.0" y1="504.3" x2="602.3" y2="494.9" stroke="#222" stroke-width="0.45"/>
<line x1="586.5" y1="499.4" x2="594.6" y2="505.9" stroke="#222" stroke-width="0.45"/>
<line x1="569.2" y1="497.6" x2="569.2" y2="504.5" stroke="#222" stroke-width="0.45"/>
<line x1="569.2" y1="504.5" x2="569.2" y2="511.5" stroke="#222" stroke-width="0.45"/>
<line x1="569.2" y1="511.5" x2="569.2" y2="518.3" stroke="#222" stroke-width="0.45"/>
<line x1="569.2" y1="518.3" x2="569.2" y2="525.4" stroke="#222" stroke-width="0.45"/>
<line x1="569.2" y1="525.4" x2="569.2" y2="532.5" stroke="#222" stroke-width="0.45"/>
<line x1="569.2" y1="532.5" x2="569.2" y2="539.4" stroke="#222" stroke-width="0.45"/>
<line x1="569.2" y1="539.4" x2="569.2" y2="546.6" stroke="#222" stroke-width="0.45"/>
<line x1="569.2" y1="546.6" x2="569.2" y2="553.0" stroke="#222" stroke-width="0.45"/>
<line x1="569.2" y1="553.0" x2="569.2" y2="560.5" stroke="#222" stroke-width="0.45"/>
<line x1="569.2" y1="560.5" x2="569.2" y2="567.4" stroke="#222" stroke-width="0.45"/>
<line x1="569.2" y1="567.4" x2="569.2" y2="574.1" stroke="#222" stroke-width="0.45"/>
<line x1="569.2" y1="574.1" x2="569.2" y2="581.0" stroke="#222" stroke-width="0.45"/>
<line x1="569.2" y1="581.0" x2="569.2" y2="588.4" stroke="#222" stroke-width="0.45"/>
<line x1="569.2" y1="588.4" x2="572.1" y2="593.9" stroke="#222" stroke-width="0.45"/>
<line x1="572.1" y1="593.9" x2="576.2" y2="598.1" stroke="#222" stroke-width="0.45"/>
<line x1="516.2" y1="506.4" x2="531.5" y2="503.9" stroke="#222" stroke-width="0.45"/>
<line x1="531.5" y1="503.9" x2="569.2" y2="511.5" stroke="#222" stroke-width="0.45"/>
<line x1="541.5" y1="493.8" x2="569.2" y2="511.5" stroke="#222" stroke-width="0.45"/>
<line x1="541.5" y1="493.8" x2="569.2" y2="553.0" stroke="#222" stroke-width="0.45"/>
<line x1="546.0" y1="520.0" x2="569.2" y2="511.5" stroke="#222" stroke-width="0.45"/>
<line x1="546.0" y1="520.0" x2="569.2" y2="525.4" stroke="#222" stroke-width="0.45"/>
<line x1="533.2" y1="521.9" x2="545.6" y2="529.8" stroke="#222" stroke-width="0.45"/>
<line x1="546.0" y1="520.0" x2="545.6" y2="529.8" stroke="#222" stroke-width="0.45"/>
<line x1="545.6" y1="529.8" x2="551.2" y2="529.7" stroke="#222" stroke-width="0.45"/>
<line x1="538.3" y1="534.2" x2="537.6" y2="548.0" stroke="#222" stroke-width="0.45"/>
<line x1="538.3" y1="534.2" x2="533.2" y2="521.9" stroke="#222" stroke-width="0.45"/>
<line x1="537.6" y1="548.0" x2="569.2" y2="539.4" stroke="#222" stroke-width="0.45"/>
<line x1="537.6" y1="548.0" x2="569.2" y2="525.4" stroke="#222" stroke-width="0.45"/>
<line x1="551.2" y1="529.7" x2="569.2" y2="539.4" stroke="#222" stroke-width="0.45"/>
<line x1="569.2" y1="525.4" x2="601.8" y2="523.4" stroke="#222" stroke-width="0.45"/>
<line x1="569.2" y1="525.4" x2="647.5" y2="520.7" stroke="#222" stroke-width="0.45"/>
<line x1="601.8" y1="515.4" x2="601.8" y2="523.4" stroke="#222" stroke-width="0.45"/>
<line x1="601.8" y1="523.4" x2="601.8" y2="531.1" stroke="#222" stroke-width="0.45"/>
<line x1="601.8" y1="531.1" x2="601.8" y2="539.0" stroke="#222" stroke-width="0.45"/>
<line x1="601.8" y1="539.0" x2="601.8" y2="546.9" stroke="#222" stroke-width="0.45"/>
<line x1="601.8" y1="515.4" x2="622.0" y2="510.6" stroke="#222" stroke-width="0.45"/>
<line x1="622.0" y1="510.6" x2="632.9" y2="514.4" stroke="#222" stroke-width="0.45"/>
<line x1="622.0" y1="510.6" x2="616.1" y2="502.9" stroke="#222" stroke-width="0.45"/>
<line x1="601.8" y1="531.1" x2="632.0" y2="528.7" stroke="#222" stroke-width="0.45"/>
<line x1="632.0" y1="528.7" x2="642.1" y2="522.5" stroke="#222" stroke-width="0.45"/>
<line x1="632.0" y1="528.7" x2="653.8" y2="530.0" stroke="#222" stroke-width="0.45"/>
<line x1="647.7" y1="511.3" x2="653.0" y2="504.6" stroke="#222" stroke-width="0.45"/>
<line x1="647.7" y1="511.3" x2="632.9" y2="514.4" stroke="#222" stroke-width="0.45"/>
<line x1="647.7" y1="511.3" x2="647.5" y2="520.7" stroke="#222" stroke-width="0.45"/>
<line x1="647.5" y1="520.7" x2="655.9" y2="518.3" stroke="#222" stroke-width="0.45"/>
<line x1="647.5" y1="520.7" x2="642.1" y2="522.5" stroke="#222" stroke-width="0.45"/>
<line x1="649.1" y1="535.9" x2="653.8" y2="530.0" stroke="#222" stroke-width="0.45"/>
<line x1="649.1" y1="535.9" x2="637.2" y2="538.4" stroke="#222" stroke-width="0.45"/>
<line x1="601.8" y1="523.4" x2="647.5" y2="520.7" stroke="#222" stroke-width="0.45"/>
<line x1="569.2" y1="560.5" x2="586.1" y2="564.2" stroke="#222" stroke-width="0.45"/>
<line x1="586.1" y1="564.2" x2="600.5" y2="566.3" stroke="#222" stroke-width="0.45"/>
<line x1="552.9" y1="506.8" x2="569.2" y2="511.5" stroke="#222" stroke-width="0.45"/>
<line x1="531.5" y1="503.9" x2="552.9" y2="506.8" stroke="#222" stroke-width="0.45"/>
<line x1="590.8" y1="491.4" x2="594.6" y2="505.9" stroke="#222" stroke-width="0.45"/>
<line x1="606.0" y1="504.3" x2="601.8" y2="515.4" stroke="#222" stroke-width="0.45"/>
<line x1="560.1" y1="487.1" x2="574.3" y2="497.4" stroke="#222" stroke-width="0.45"/>
<line x1="589.5" y1="476.7" x2="606.9" y2="487.1" stroke="#222" stroke-width="0.45"/>
<line x1="605.0" y1="578.6" x2="600.7" y2="581.7" stroke="#222" stroke-width="0.45"/>
<line x1="600.7" y1="581.7" x2="595.1" y2="585.2" stroke="#222" stroke-width="0.45"/>
<line x1="609.5" y1="590.4" x2="602.6" y2="595.3" stroke="#222" stroke-width="0.45"/>
<line x1="602.6" y1="595.3" x2="595.1" y2="585.2" stroke="#222" stroke-width="0.45"/>
<line x1="602.6" y1="595.3" x2="605.0" y2="618.9" stroke="#222" stroke-width="0.45"/>
<line x1="587.4" y1="603.3" x2="576.2" y2="598.1" stroke="#222" stroke-width="0.45"/>
<line x1="587.4" y1="603.3" x2="593.8" y2="606.5" stroke="#222" stroke-width="0.45"/>
<line x1="546.0" y1="601.2" x2="560.3" y2="608.2" stroke="#222" stroke-width="0.45"/>
<line x1="546.0" y1="601.2" x2="576.2" y2="598.1" stroke="#222" stroke-width="0.45"/>
<line x1="546.0" y1="601.2" x2="547.7" y2="620.5" stroke="#222" stroke-width="0.45"/>
<line x1="582.1" y1="609.9" x2="560.3" y2="608.2" stroke="#222" stroke-width="0.45"/>
<line x1="582.1" y1="609.9" x2="593.8" y2="606.5" stroke="#222" stroke-width="0.45"/>
<line x1="582.1" y1="609.9" x2="580.3" y2="614.8" stroke="#222" stroke-width="0.45"/>
<line x1="601.8" y1="613.8" x2="593.8" y2="606.5" stroke="#222" stroke-width="0.45"/>
<line x1="601.8" y1="613.8" x2="605.0" y2="618.9" stroke="#222" stroke-width="0.45"/>
<line x1="553.4" y1="615.8" x2="547.7" y2="620.5" stroke="#222" stroke-width="0.45"/>
<line x1="553.4" y1="615.8" x2="560.3" y2="608.2" stroke="#222" stroke-width="0.45"/>
<line x1="553.4" y1="615.8" x2="575.1" y2="617.6" stroke="#222" stroke-width="0.45"/>
<line x1="607.5" y1="625.2" x2="605.0" y2="618.9" stroke="#222" stroke-width="0.45"/>
<line x1="607.5" y1="625.2" x2="607.9" y2="632.2" stroke="#222" stroke-width="0.45"/>
<line x1="579.0" y1="627.0" x2="580.3" y2="614.8" stroke="#222" stroke-width="0.45"/>
<line x1="579.0" y1="627.0" x2="584.9" y2="629.1" stroke="#222" stroke-width="0.45"/>
<line x1="545.7" y1="627.7" x2="530.5" y2="627.0" stroke="#222" stroke-width="0.45"/>
<line x1="545.7" y1="627.7" x2="547.7" y2="620.5" stroke="#222" stroke-width="0.45"/>
<line x1="545.7" y1="627.7" x2="544.9" y2="633.6" stroke="#222" stroke-width="0.45"/>
<line x1="579.0" y1="632.6" x2="584.9" y2="629.1" stroke="#222" stroke-width="0.45"/>
<line x1="579.0" y1="632.6" x2="584.9" y2="635.1" stroke="#222" stroke-width="0.45"/>
<line x1="602.2" y1="637.5" x2="607.9" y2="632.2" stroke="#222" stroke-width="0.45"/>
<line x1="602.2" y1="637.5" x2="600.7" y2="643.4" stroke="#222" stroke-width="0.45"/>
<line x1="602.2" y1="637.5" x2="592.9" y2="632.9" stroke="#222" stroke-width="0.45"/>
<line x1="616.6" y1="642.4" x2="633.8" y2="635.3" stroke="#222" stroke-width="0.45"/>
<line x1="616.6" y1="642.4" x2="623.3" y2="648.7" stroke="#222" stroke-width="0.45"/>
<line x1="616.6" y1="642.4" x2="600.7" y2="643.4" stroke="#222" stroke-width="0.45"/>
<line x1="548.5" y1="643.7" x2="544.9" y2="633.6" stroke="#222" stroke-width="0.45"/>
<line x1="548.5" y1="643.7" x2="552.0" y2="649.4" stroke="#222" stroke-width="0.45"/>
<line x1="563.4" y1="647.6" x2="552.0" y2="649.4" stroke="#222" stroke-width="0.45"/>
<line x1="563.4" y1="647.6" x2="570.5" y2="652.1" stroke="#222" stroke-width="0.45"/>
<line x1="563.4" y1="647.6" x2="579.0" y2="651.2" stroke="#222" stroke-width="0.45"/>
<line x1="596.3" y1="648.0" x2="593.4" y2="653.2" stroke="#222" stroke-width="0.45"/>
<line x1="596.3" y1="648.0" x2="600.7" y2="643.4" stroke="#222" stroke-width="0.45"/>
<line x1="579.0" y1="651.2" x2="587.5" y2="668.6" stroke="#222" stroke-width="0.45"/>
<line x1="579.0" y1="651.2" x2="570.5" y2="652.1" stroke="#222" stroke-width="0.45"/>
<line x1="579.0" y1="651.2" x2="593.4" y2="653.2" stroke="#222" stroke-width="0.45"/>
<line x1="546.0" y1="601.2" x2="595.1" y2="585.2" stroke="#222" stroke-width="0.45"/>
<line x1="545.7" y1="627.7" x2="602.2" y2="637.5" stroke="#222" stroke-width="0.45"/>
<line x1="530.5" y1="627.0" x2="602.2" y2="637.5" stroke="#222" stroke-width="0.45"/>
<line x1="572.1" y1="593.9" x2="587.4" y2="603.3" stroke="#222" stroke-width="0.45"/>
<line x1="569.2" y1="588.4" x2="546.0" y2="601.2" stroke="#222" stroke-width="0.45"/>
<line x1="601.8" y1="613.8" x2="602.2" y2="637.5" stroke="#222" stroke-width="0.45"/>
<line x1="575.1" y1="635.4" x2="573.5" y2="639.2" stroke="#222" stroke-width="0.45"/>
<line x1="579.8" y1="636.1" x2="586.4" y2="641.4" stroke="#222" stroke-width="0.45"/>
<line x1="575.1" y1="635.4" x2="570.0" y2="620.7" stroke="#222" stroke-width="0.45"/>
<line x1="579.8" y1="636.1" x2="578.9" y2="642.0" stroke="#222" stroke-width="0.45"/>
<line x1="575.1" y1="617.6" x2="579.0" y2="627.0" stroke="#222" stroke-width="0.45"/>
<line x1="570.0" y1="620.7" x2="579.0" y2="632.6" stroke="#222" stroke-width="0.45"/>
<line x1="582.1" y1="609.9" x2="569.5" y2="625.0" stroke="#222" stroke-width="0.45"/>
<line x1="579.0" y1="632.6" x2="592.9" y2="632.9" stroke="#222" stroke-width="0.45"/>
<line x1="572.1" y1="593.9" x2="601.8" y2="613.8" stroke="#222" stroke-width="0.45"/>
<line x1="576.2" y1="598.1" x2="553.4" y2="615.8" stroke="#222" stroke-width="0.45"/>
<line x1="582.9" y1="639.3" x2="586.4" y2="641.4" stroke="#222" stroke-width="0.45"/>
<line x1="582.9" y1="639.3" x2="578.9" y2="642.0" stroke="#222" stroke-width="0.45"/>
<line x1="582.9" y1="639.3" x2="592.9" y2="632.9" stroke="#222" stroke-width="0.45"/>
<line x1="574.4" y1="629.3" x2="569.5" y2="625.0" stroke="#222" stroke-width="0.45"/>
<line x1="574.4" y1="629.3" x2="584.9" y2="629.1" stroke="#222" stroke-width="0.45"/>
<line x1="585.7" y1="624.0" x2="580.3" y2="614.8" stroke="#222" stroke-width="0.45"/>
<line x1="585.7" y1="624.0" x2="584.9" y2="629.1" stroke="#222" stroke-width="0.45"/>
<line x1="585.7" y1="624.0" x2="593.8" y2="606.5" stroke="#222" stroke-width="0.45"/>
<line x1="582.9" y1="639.3" x2="579.0" y2="651.2" stroke="#222" stroke-width="0.45"/>
<line x1="574.4" y1="629.3" x2="575.1" y2="617.6" stroke="#222" stroke-width="0.45"/>
<line x1="548.5" y1="643.7" x2="596.3" y2="648.0" stroke="#222" stroke-width="0.45"/>
<line x1="552.0" y1="649.4" x2="596.3" y2="648.0" stroke="#222" stroke-width="0.45"/>
<line x1="563.4" y1="647.6" x2="573.5" y2="639.2" stroke="#222" stroke-width="0.45"/>
<line x1="579.0" y1="651.2" x2="578.9" y2="642.0" stroke="#222" stroke-width="0.45"/>
<line x1="616.6" y1="642.4" x2="607.5" y2="625.2" stroke="#222" stroke-width="0.45"/>
<line x1="569.5" y1="625.0" x2="575.1" y2="635.4" stroke="#222" stroke-width="0.45"/>
<line x1="584.9" y1="635.1" x2="579.8" y2="636.1" stroke="#222" stroke-width="0.45"/>
<line x1="587.4" y1="603.3" x2="595.1" y2="585.2" stroke="#222" stroke-width="0.45"/>
<line x1="569.2" y1="574.1" x2="587.4" y2="603.3" stroke="#222" stroke-width="0.45"/>
<path d="M552.0,467.0 L567.3,470.1 L569.3,490.5" fill="none" stroke="#2a2a2a" stroke-width="1.1" stroke-linejoin="round" stroke-linecap="round"/>
<path d="M560.1,487.1 L569.3,490.5" fill="none" stroke="#2a2a2a" stroke-width="1.1" stroke-linejoin="round" stroke-linecap="round"/>
<path d="M557.1,475.7 L569.3,483.3" fill="none" stroke="#2a2a2a" stroke-width="0.8800000000000001" stroke-linejoin="round" stroke-linecap="round"/>
<path d="M546.0,601.2 L572.1,593.9" fill="none" stroke="#2a2a2a" stroke-width="1.1" stroke-linejoin="round" stroke-linecap="round"/>
<path d="M546.0,601.2 L560.3,608.2" fill="none" stroke="#2a2a2a" stroke-width="1.1" stroke-linejoin="round" stroke-linecap="round"/>
<path d="M546.0,601.2 L547.7,620.5" fill="none" stroke="#2a2a2a" stroke-width="1.1" stroke-linejoin="round" stroke-linecap="round"/>
<path d="M593.8,606.5 L601.8,613.8 L605.0,618.9 L607.5,625.2 L607.9,632.2" fill="none" stroke="#2a2a2a" stroke-width="1.1" stroke-linejoin="round" stroke-linecap="round"/>
<path d="M609.5,590.4 L602.6,595.3 L595.1,585.2" fill="none" stroke="#2a2a2a" stroke-width="1.1" stroke-linejoin="round" stroke-linecap="round"/>
<path d="M605.0,578.6 L600.7,581.7 L595.1,585.2 L587.4,603.3 L593.8,606.5" fill="none" stroke="#2a2a2a" stroke-width="0.9900000000000001" stroke-linejoin="round" stroke-linecap="round"/>
<path d="M547.7,620.5 L545.7,627.7 L544.9,633.6 L548.5,643.7 L552.0,649.4" fill="none" stroke="#2a2a2a" stroke-width="1.1" stroke-linejoin="round" stroke-linecap="round"/>
<path d="M552.0,649.4 L563.4,647.6" fill="none" stroke="#2a2a2a" stroke-width="1.1" stroke-linejoin="round" stroke-linecap="round"/>
<path d="M593.4,653.2 L596.3,648.0 L600.7,643.4 L602.2,637.5 L607.9,632.2" fill="none" stroke="#2a2a2a" stroke-width="0.9900000000000001" stroke-linejoin="round" stroke-linecap="round"/>
<path d="M560.3,608.2 L553.4,615.8 L547.7,620.5" fill="none" stroke="#2a2a2a" stroke-width="0.8800000000000001" stroke-linejoin="round" stroke-linecap="round"/>
<path d="M579.0,651.2 L587.5,668.6" fill="none" stroke="#2a2a2a" stroke-width="0.66" stroke-linejoin="round" stroke-linecap="round"/>
<path d="M569.2,525.4 L601.8,523.4" fill="none" stroke="#222" stroke-width="1.1" stroke-linejoin="round" stroke-linecap="round"/>
<path d="M569.2,532.5 L601.8,523.4" fill="none" stroke="#222" stroke-width="1.0" stroke-linejoin="round" stroke-linecap="round"/>
<circle cx="587.9" cy="451.9" r="2.55" fill="#5b8fd2"/>
<rect x="584.2" y="459.4" width="2.5" height="2.5" fill="#000"/>
<circle cx="584.3" cy="468.7" r="2.55" fill="#5b8fd2"/>
<rect x="596.0" y="466.8" width="2.5" height="2.5" fill="#000"/>
<circle cx="613.0" cy="475.0" r="2.55" fill="#5b8fd2"/>
<circle cx="552.0" cy="467.0" r="2.55" fill="#5b8fd2"/>
<rect x="566.0" y="468.8" width="2.5" height="2.5" fill="#000"/>
<rect x="555.9" y="474.4" width="2.5" height="2.5" fill="#000"/>
<rect x="576.2" y="472.4" width="2.5" height="2.5" fill="#000"/>
<circle cx="589.5" cy="476.7" r="2.55" fill="#5b8fd2"/>
<rect x="602.0" y="475.5" width="2.5" height="2.5" fill="#000"/>
<circle cx="580.4" cy="481.3" r="2.55" fill="#5b8fd2"/>
<circle cx="569.3" cy="483.3" r="2.55" fill="#5b8fd2"/>
<circle cx="560.1" cy="487.1" r="2.55" fill="#5b8fd2"/>
<circle cx="626.2" cy="484.8" r="2.55" fill="#5b8fd2"/>
<rect x="605.7" y="485.9" width="2.5" height="2.5" fill="#000"/>
<circle cx="590.8" cy="491.4" r="2.55" fill="#5b8fd2"/>
<rect x="568.1" y="489.3" width="2.5" height="2.5" fill="#000"/>
<circle cx="541.5" cy="493.8" r="2.55" fill="#5b8fd2"/>
<circle cx="612.2" cy="492.8" r="2.55" fill="#5b8fd2"/>
<circle cx="602.3" cy="494.9" r="2.55" fill="#5b8fd2"/>
<rect x="624.0" y="490.9" width="2.5" height="2.5" fill="#000"/>
<circle cx="569.2" cy="497.6" r="2.55" fill="#5b8fd2"/>
<rect x="573.1" y="496.2" width="2.5" height="2.5" fill="#000"/>
<circle cx="586.5" cy="499.4" r="2.55" fill="#5b8fd2"/>
<circle cx="616.1" cy="502.9" r="2.55" fill="#5b8fd2"/>
<circle cx="516.2" cy="506.4" r="2.55" fill="#5b8fd2"/>
<rect x="530.2" y="502.7" width="2.5" height="2.5" fill="#000"/>
<circle cx="552.9" cy="506.8" r="2.55" fill="#5b8fd2"/>
<circle cx="569.2" cy="504.5" r="2.55" fill="#5b8fd2"/>
<rect x="593.4" y="504.7" width="2.5" height="2.5" fill="#000"/>
<rect x="604.7" y="503.1" width="2.5" height="2.5" fill="#000"/>
<rect x="568.0" y="510.3" width="2.5" height="2.5" fill="#000"/>
<rect x="620.8" y="509.3" width="2.5" height="2.5" fill="#000"/>
<circle cx="601.8" cy="515.4" r="2.55" fill="#5b8fd2"/>
<circle cx="569.2" cy="518.3" r="2.55" fill="#5b8fd2"/>
<circle cx="533.2" cy="521.9" r="2.55" fill="#5b8fd2"/>
<circle cx="546.0" cy="520.0" r="2.55" fill="#5b8fd2"/>
<rect x="568.0" y="524.2" width="2.5" height="2.5" fill="#000"/>
<rect x="600.6" y="522.2" width="2.5" height="2.5" fill="#000"/>
<circle cx="551.2" cy="529.7" r="2.55" fill="#5b8fd2"/>
<rect x="544.3" y="528.5" width="2.5" height="2.5" fill="#000"/>
<circle cx="601.8" cy="531.1" r="2.55" fill="#5b8fd2"/>
<circle cx="569.2" cy="532.5" r="2.55" fill="#5b8fd2"/>
<rect x="537.1" y="533.0" width="2.5" height="2.5" fill="#000"/>
<rect x="568.0" y="538.2" width="2.5" height="2.5" fill="#000"/>
<rect x="600.6" y="537.8" width="2.5" height="2.5" fill="#000"/>
<circle cx="569.2" cy="546.6" r="2.55" fill="#5b8fd2"/>
<circle cx="537.6" cy="548.0" r="2.55" fill="#5b8fd2"/>
<circle cx="601.8" cy="546.9" r="2.55" fill="#d7242a"/>
<rect x="568.0" y="551.8" width="2.5" height="2.5" fill="#000"/>
<circle cx="569.2" cy="560.5" r="2.55" fill="#5b8fd2"/>
<rect x="584.8" y="562.9" width="2.5" height="2.5" fill="#000"/>
<circle cx="600.5" cy="566.3" r="2.55" fill="#d7242a"/>
<rect x="568.0" y="566.1" width="2.5" height="2.5" fill="#000"/>
<rect x="547.8" y="568.9" width="2.5" height="2.5" fill="#000"/>
<circle cx="653.0" cy="504.6" r="2.55" fill="#5b8fd2"/>
<circle cx="632.9" cy="514.4" r="2.55" fill="#5b8fd2"/>
<rect x="646.4" y="510.1" width="2.5" height="2.5" fill="#000"/>
<circle cx="655.9" cy="518.3" r="2.55" fill="#5b8fd2"/>
<rect x="646.2" y="519.4" width="2.5" height="2.5" fill="#000"/>
<circle cx="642.1" cy="522.5" r="2.55" fill="#5b8fd2"/>
<rect x="630.7" y="527.5" width="2.5" height="2.5" fill="#000"/>
<circle cx="653.8" cy="530.0" r="2.55" fill="#5b8fd2"/>
<rect x="647.8" y="534.7" width="2.5" height="2.5" fill="#000"/>
<circle cx="637.2" cy="538.4" r="2.55" fill="#5b8fd2"/>
<circle cx="569.2" cy="574.1" r="2.55" fill="#f59a23"/>
<rect x="568.0" y="579.8" width="2.5" height="2.5" fill="#000"/>
<circle cx="569.2" cy="588.4" r="2.55" fill="#f59a23"/>
<circle cx="605.0" cy="578.6" r="2.55" fill="#5b8fd2"/>
<rect x="599.5" y="580.4" width="2.5" height="2.5" fill="#000"/>
<circle cx="595.1" cy="585.2" r="2.55" fill="#f59a23"/>
<circle cx="609.5" cy="590.4" r="2.55" fill="#f59a23"/>
<rect x="570.8" y="592.6" width="2.5" height="2.5" fill="#000"/>
<rect x="601.3" y="594.0" width="2.5" height="2.5" fill="#000"/>
<circle cx="576.2" cy="598.1" r="2.55" fill="#f59a23"/>
<rect x="544.8" y="599.9" width="2.5" height="2.5" fill="#000"/>
<rect x="586.1" y="602.1" width="2.5" height="2.5" fill="#000"/>
<circle cx="593.8" cy="606.5" r="2.55" fill="#f59a23"/>
<circle cx="560.3" cy="608.2" r="2.55" fill="#f59a23"/>
<rect x="580.9" y="608.6" width="2.5" height="2.5" fill="#000"/>
<rect x="600.6" y="612.6" width="2.5" height="2.5" fill="#000"/>
<circle cx="580.3" cy="614.8" r="2.55" fill="#f59a23"/>
<rect x="552.1" y="614.6" width="2.5" height="2.5" fill="#000"/>
<circle cx="575.1" cy="617.6" r="2.55" fill="#f59a23"/>
<circle cx="605.0" cy="618.9" r="2.55" fill="#f59a23"/>
<circle cx="547.7" cy="620.5" r="2.55" fill="#f59a23"/>
<circle cx="570.0" cy="620.7" r="2.55" fill="#f59a23"/>
<circle cx="569.5" cy="625.0" r="2.55" fill="#f59a23"/>
<rect x="606.2" y="623.9" width="2.5" height="2.5" fill="#000"/>
<circle cx="530.5" cy="627.0" r="2.55" fill="#5b8fd2"/>
<rect x="577.8" y="625.7" width="2.5" height="2.5" fill="#000"/>
<rect x="544.4" y="626.5" width="2.5" height="2.5" fill="#000"/>
<circle cx="584.9" cy="629.1" r="2.55" fill="#f59a23"/>
<circle cx="592.9" cy="632.9" r="2.55" fill="#f59a23"/>
<rect x="577.8" y="631.4" width="2.5" height="2.5" fill="#000"/>
<circle cx="607.9" cy="632.2" r="2.55" fill="#f59a23"/>
<circle cx="544.9" cy="633.6" r="2.55" fill="#f59a23"/>
<circle cx="584.9" cy="635.1" r="2.55" fill="#f59a23"/>
<rect x="573.8" y="634.1" width="2.5" height="2.5" fill="#000"/>
<rect x="578.5" y="634.9" width="2.5" height="2.5" fill="#000"/>
<rect x="601.0" y="636.2" width="2.5" height="2.5" fill="#000"/>
<circle cx="642.0" cy="618.1" r="2.55" fill="#5b8fd2"/>
<circle cx="655.6" cy="612.8" r="2.55" fill="#d7242a"/>
<circle cx="633.8" cy="635.3" r="2.55" fill="#f59a23"/>
<circle cx="573.5" cy="639.2" r="2.55" fill="#f59a23"/>
<circle cx="586.4" cy="641.4" r="2.55" fill="#f59a23"/>
<circle cx="578.9" cy="642.0" r="2.55" fill="#f59a23"/>
<rect x="615.3" y="641.1" width="2.5" height="2.5" fill="#000"/>
<circle cx="600.7" cy="643.4" r="2.55" fill="#f59a23"/>
<rect x="547.2" y="642.5" width="2.5" height="2.5" fill="#000"/>
<rect x="562.2" y="646.3" width="2.5" height="2.5" fill="#000"/>
<rect x="595.0" y="646.7" width="2.5" height="2.5" fill="#000"/>
<circle cx="552.0" cy="649.4" r="2.55" fill="#f59a23"/>
<circle cx="623.3" cy="648.7" r="2.55" fill="#f59a23"/>
<rect x="577.8" y="649.9" width="2.5" height="2.5" fill="#000"/>
<circle cx="570.5" cy="652.1" r="2.55" fill="#f59a23"/>
<circle cx="593.4" cy="653.2" r="2.55" fill="#f59a23"/>
<circle cx="587.5" cy="668.6" r="2.55" fill="#f59a23"/>
<rect x="633.1" y="619.2" width="2.5" height="2.5" fill="#000"/>
<rect x="645.9" y="614.1" width="2.5" height="2.5" fill="#000"/>
<rect x="581.6" y="638.0" width="2.5" height="2.5" fill="#000"/>
<rect x="573.2" y="628.1" width="2.5" height="2.5" fill="#000"/>
<rect x="584.4" y="622.8" width="2.5" height="2.5" fill="#000"/>
<text x="582.30" y="693.00" font-size="10.3" text-anchor="middle" fill="#231f20">AZD</text>
<text x="101.80" y="469.30" font-size="13" text-anchor="start" fill="#000" font-weight="bold" stroke="#000" stroke-width="0.7">e</text>
</svg></body></html>
